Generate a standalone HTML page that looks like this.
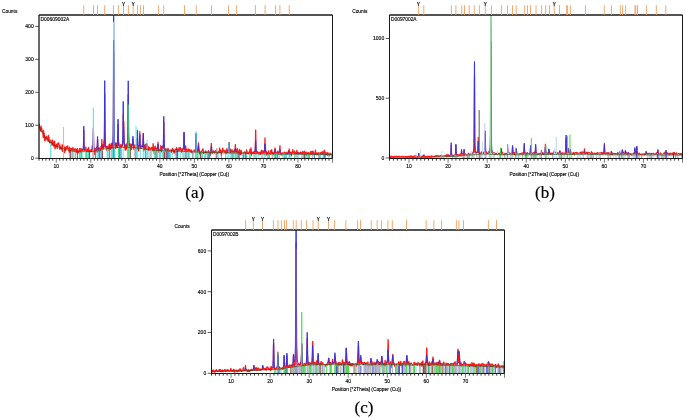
<!DOCTYPE html>
<html><head><meta charset="utf-8"><style>
html,body{margin:0;padding:0;background:#fff;width:685px;height:418px;overflow:hidden}
svg{display:block;font-family:"Liberation Sans", sans-serif}
text{filter:grayscale(1)}
.s{stroke:#000;stroke-width:0.14px}
.cap{font-family:"Liberation Serif",serif}
</style></head><body>
<svg width="685" height="418" viewBox="0 0 685 418">
<rect width="685" height="418" fill="#fff"/>
<clipPath id="aclip"><rect x="39.0" y="14.5" width="293.5" height="144.0"/></clipPath>
<g clip-path="url(#aclip)">
<polyline points="39.0,127.0 39.4,124.3 39.7,127.5 40.1,128.5 40.4,131.2 40.7,130.1 41.1,126.2 41.4,129.7 41.8,128.2 42.2,131.5 42.5,131.1 42.9,132.0 43.2,137.6 43.5,130.6 43.9,132.6 44.2,133.4 44.6,140.2 45.0,141.0 45.3,139.3 45.7,138.5 46.0,136.5 46.3,137.7 46.7,136.2 47.0,139.9 47.4,137.9 47.8,138.2 48.1,141.5 48.5,135.3 48.8,139.2 49.1,137.5 49.5,142.5 49.8,142.8 50.2,142.2 50.6,141.9 50.9,140.2 51.2,141.7 51.6,143.7 51.9,145.1 52.3,144.3 52.7,140.0 53.0,145.1 53.4,142.8 53.7,142.5 54.0,147.0 54.4,144.1 54.7,141.1 55.1,148.9 55.5,145.7 55.8,145.5 56.2,146.9 56.5,144.1 56.8,145.6 57.2,148.4 57.5,143.7 57.9,144.3 58.3,143.8 58.6,142.8 59.0,145.6 59.3,146.3 59.6,149.1 60.0,145.2 60.3,147.9 60.7,147.7 61.1,149.4 61.4,149.0 61.8,148.5 62.1,144.7 62.4,151.4 62.8,150.5 63.1,147.4 63.5,144.7 63.9,146.8 64.2,151.5 64.6,152.6 64.9,147.7 65.2,149.9 65.6,150.6 65.9,146.7 66.3,146.5 66.7,148.6 67.0,148.5 67.4,148.1 67.7,145.8 68.0,148.0 68.4,148.4 68.7,148.5 69.1,152.3 69.5,147.2 69.8,148.0 70.2,148.9 70.5,153.1 70.8,151.0 71.2,148.4 71.5,153.0 71.9,150.6 72.3,148.4 72.6,152.5 73.0,147.4 73.3,149.5 73.6,150.8 74.0,150.0 74.3,149.4 74.7,150.6 75.1,148.7 75.4,152.0 75.7,151.7 76.1,149.2 76.4,151.2 76.8,152.5 77.2,149.5 77.5,148.5 77.9,151.9 78.2,153.2 78.5,151.4 78.9,151.4 79.2,151.6 79.6,148.5 80.0,152.6 80.3,148.7 80.7,152.9 81.0,152.2 81.3,149.8 81.7,148.8 82.0,149.3 82.4,150.2 82.5,150.3 82.6,150.4 82.7,150.5 82.8,150.5 82.9,150.5 83.0,150.4 83.1,150.3 83.1,150.2 83.3,149.6 83.4,148.8 83.5,148.3 83.5,147.3 83.7,140.1 83.8,130.6 83.8,130.9 83.9,140.6 84.0,147.9 84.1,149.2 84.2,149.3 84.3,149.5 84.4,149.5 84.5,149.5 84.6,149.7 84.7,150.2 84.8,150.7 84.8,150.8 85.0,150.4 85.1,149.9 85.2,149.4 85.6,149.8 85.9,147.0 86.3,150.3 86.6,151.6 86.9,151.5 87.3,151.0 87.6,149.2 88.0,151.4 88.4,150.2 88.7,147.4 89.1,154.7 89.4,152.6 89.7,150.5 90.1,150.2 90.4,150.5 90.8,151.6 91.2,149.6 91.5,150.3 91.9,151.6 92.1,147.9 92.2,146.0 92.2,146.1 92.3,147.6 92.5,149.0 92.5,149.9 92.6,150.1 92.7,150.5 92.9,150.8 92.9,150.9 93.0,150.4 93.1,148.3 93.2,140.3 93.3,139.9 93.4,129.0 93.5,140.1 93.6,146.5 93.6,148.2 93.8,149.8 93.9,150.1 94.0,150.2 94.0,151.3 94.2,152.9 94.3,154.5 94.3,154.5 94.4,153.3 94.6,152.1 94.7,151.2 94.7,150.9 95.0,148.4 95.3,152.2 95.7,150.5 96.0,148.4 96.2,148.5 96.4,148.5 96.4,148.5 96.5,148.1 96.6,147.6 96.8,147.1 96.8,147.4 96.9,149.5 97.0,151.5 97.1,152.5 97.2,152.0 97.3,150.3 97.4,145.2 97.5,144.0 97.6,139.3 97.7,145.0 97.8,148.9 97.8,149.2 98.0,149.4 98.1,148.9 98.1,148.7 98.2,148.6 98.4,148.3 98.5,147.9 98.5,147.9 98.6,150.0 98.8,152.4 98.8,154.3 98.9,153.7 99.2,147.8 99.6,152.2 99.9,148.4 100.2,152.0 100.5,149.9 100.6,149.1 100.6,148.8 100.8,147.9 100.9,147.0 100.9,146.7 101.0,147.4 101.2,148.3 101.3,149.2 101.3,149.2 101.4,148.7 101.6,147.7 101.7,146.4 101.7,144.3 101.8,139.4 102.0,142.9 102.0,143.6 102.1,146.4 102.2,147.6 102.4,148.1 102.4,148.2 102.5,148.4 102.6,148.5 102.7,148.6 102.8,147.8 102.9,146.4 103.0,144.9 103.0,144.9 103.2,145.2 103.4,145.8 103.4,145.8 103.5,146.8 103.7,147.8 103.7,148.4 103.8,147.4 103.9,144.5 104.1,141.5 104.1,140.7 104.2,142.8 104.3,145.0 104.5,145.4 104.5,143.8 104.6,123.0 104.7,93.7 104.8,99.0 104.9,119.9 105.0,140.9 105.1,146.2 105.2,146.2 105.3,147.0 105.4,147.2 105.5,147.2 105.6,147.1 105.7,146.7 105.8,146.3 105.8,146.2 106.0,146.6 106.1,147.1 106.2,147.5 106.5,146.5 106.9,150.6 107.3,150.6 107.6,146.4 108.0,149.5 108.3,149.5 108.6,150.3 109.0,144.6 109.3,145.7 109.7,144.0 110.1,149.0 110.4,147.3 110.8,149.3 111.1,145.4 111.4,143.4 111.8,148.7 112.1,143.2 112.3,143.6 112.4,144.0 112.5,144.3 112.5,144.6 112.7,145.4 112.8,146.2 112.9,146.3 113.0,147.0 113.1,147.6 113.2,147.6 113.2,146.1 113.4,135.8 113.5,97.4 113.6,80.5 113.7,52.4 113.8,101.2 113.9,132.3 113.9,136.0 114.1,143.4 114.2,145.6 114.2,146.1 114.3,146.0 114.5,145.6 114.6,145.1 114.6,145.2 114.8,145.3 114.9,145.4 114.9,145.5 115.0,144.9 115.3,143.0 115.7,148.5 116.0,143.9 116.4,143.0 116.7,143.0 116.7,143.0 116.8,144.3 117.0,145.8 117.0,146.8 117.1,146.9 117.2,147.3 117.4,147.6 117.4,147.6 117.5,146.1 117.7,144.1 117.7,142.0 117.8,141.3 117.9,134.1 118.1,124.5 118.1,125.5 118.2,135.6 118.4,143.5 118.5,145.0 118.5,144.9 118.6,144.0 118.8,143.0 118.8,142.7 118.9,144.1 119.1,145.8 119.2,147.0 119.2,147.4 119.3,148.9 119.5,150.5 119.5,150.8 119.8,147.3 120.2,150.0 120.5,144.6 120.9,145.8 121.3,147.7 121.6,146.5 121.8,145.1 122.0,144.4 122.0,144.5 122.1,145.2 122.3,145.9 122.3,146.1 122.4,145.6 122.4,145.1 122.5,144.2 122.5,143.6 122.6,142.6 122.6,142.4 122.7,142.7 122.8,143.2 122.8,143.4 122.9,143.2 123.0,142.5 123.0,141.6 123.1,136.9 123.1,131.2 123.2,118.2 123.3,114.7 123.3,121.3 123.3,122.0 123.4,127.4 123.5,134.6 123.5,135.2 123.6,131.0 123.7,126.8 123.7,124.8 123.8,121.5 123.8,123.5 123.9,131.8 124.0,135.5 124.1,139.4 124.1,139.5 124.1,141.2 124.2,143.5 124.2,144.5 124.3,146.2 124.4,147.0 124.4,147.3 124.5,146.6 124.5,146.2 124.6,145.3 124.7,144.9 124.7,144.1 124.8,144.4 124.9,146.7 125.0,149.1 125.1,149.9 125.2,149.6 125.4,148.5 125.8,150.2 126.2,143.9 126.5,148.8 126.8,146.6 126.9,146.4 127.0,146.5 127.1,146.5 127.2,146.5 127.3,146.4 127.4,146.1 127.5,145.7 127.5,145.7 127.7,145.6 127.8,145.1 127.9,144.1 128.0,141.0 128.1,121.6 128.2,95.1 128.3,94.7 128.4,117.5 128.5,135.3 128.6,137.3 128.7,140.5 128.8,143.6 129.0,145.5 129.0,145.5 129.1,145.3 129.3,145.0 129.3,144.9 129.4,144.6 129.6,144.2 129.7,143.9 129.7,144.3 130.0,146.9 130.3,148.9 130.7,147.6 131.0,144.0 131.4,149.6 131.5,149.3 131.6,148.5 131.8,147.7 131.8,147.6 131.9,146.1 132.0,144.6 132.1,144.1 132.2,144.2 132.3,144.3 132.5,144.4 132.5,144.5 132.6,144.8 132.8,143.2 132.8,142.6 132.9,139.2 133.1,141.7 133.1,143.1 133.2,144.1 133.4,145.3 133.5,146.1 133.5,146.1 133.6,147.3 133.8,148.4 133.8,148.9 133.9,149.1 134.1,149.4 134.2,149.7 134.2,149.6 134.4,148.9 134.6,148.1 134.9,144.7 135.3,148.1 135.6,148.7 135.9,148.6 135.9,148.5 136.1,149.1 136.2,149.7 136.3,150.0 136.4,149.4 136.5,148.3 136.6,147.4 136.7,147.5 136.8,148.3 137.0,148.9 137.0,149.0 137.1,147.4 137.3,142.8 137.4,138.3 137.4,138.4 137.6,145.5 137.7,150.7 137.7,150.7 137.8,149.2 138.0,147.2 138.1,146.5 138.1,147.1 138.3,147.9 138.3,148.3 138.4,148.6 138.4,148.8 138.5,149.2 138.6,149.8 138.6,150.2 138.7,150.7 138.7,150.9 138.8,150.2 138.9,148.9 138.9,148.0 139.1,145.6 139.1,145.4 139.2,146.1 139.4,146.5 139.4,146.5 139.5,146.1 139.7,140.2 139.8,132.4 139.8,131.6 140.0,140.2 140.1,146.7 140.2,147.0 140.3,147.4 140.4,146.9 140.5,146.5 140.6,146.9 140.7,147.7 140.9,148.3 140.9,148.3 141.0,147.2 141.2,146.2 141.2,145.8 141.3,145.9 141.5,146.0 141.8,146.2 141.9,146.3 141.9,146.4 142.1,146.7 142.2,147.1 142.2,147.1 142.4,146.2 142.5,145.2 142.6,144.7 142.7,145.0 142.8,145.4 143.0,145.2 143.0,144.9 143.1,140.0 143.3,133.5 143.3,133.8 143.4,142.6 143.6,149.4 143.7,151.1 143.7,150.1 143.9,148.0 144.0,146.1 144.0,146.1 144.2,145.8 144.3,145.5 144.3,145.4 144.5,146.7 144.6,148.2 144.7,149.0 144.8,149.1 145.0,149.4 145.4,144.4 145.8,151.7 146.1,147.8 146.5,143.6 146.8,150.5 147.1,147.4 147.5,144.8 147.9,149.2 148.2,147.8 148.6,147.0 148.9,150.5 149.2,149.2 149.6,148.4 149.9,147.3 150.3,149.1 150.7,149.4 151.0,150.8 151.4,149.8 151.7,147.3 152.0,149.0 152.4,150.7 152.7,150.7 153.1,143.7 153.5,147.0 153.8,148.1 154.2,153.7 154.5,148.2 154.8,148.6 155.2,146.1 155.5,148.8 155.9,149.8 156.3,148.7 156.4,150.5 156.6,152.4 156.6,152.8 156.7,151.1 156.9,148.8 157.0,147.6 157.0,147.9 157.2,148.6 157.3,149.0 157.3,149.2 157.5,149.9 157.6,150.4 157.6,150.4 157.8,146.8 158.0,142.2 158.0,142.0 158.1,144.0 158.3,145.7 158.3,145.8 158.4,147.1 158.6,149.8 158.7,152.1 158.7,152.0 158.9,151.5 159.0,151.0 159.1,150.9 159.2,150.3 159.3,149.6 159.4,149.3 159.5,149.4 159.8,149.5 160.1,150.6 160.4,151.5 160.8,145.5 161.1,147.8 161.5,151.8 161.9,152.0 162.2,146.3 162.3,146.6 162.4,147.2 162.6,147.7 162.6,147.6 162.7,146.8 162.9,145.9 162.9,145.8 163.0,146.5 163.2,147.1 163.2,147.3 163.4,147.8 163.5,147.1 163.6,143.9 163.7,137.6 163.8,122.3 163.9,131.6 164.0,135.7 164.1,148.2 164.3,152.2 164.3,152.3 164.5,151.8 164.6,151.0 164.7,150.8 164.8,150.5 164.9,150.1 165.0,149.9 165.1,149.7 165.2,149.2 165.4,148.9 165.4,149.2 165.7,151.2 166.0,150.3 166.4,149.2 166.7,149.4 167.1,148.9 167.5,149.8 167.8,150.7 168.2,148.7 168.5,150.2 168.8,151.6 169.2,151.3 169.5,150.4 169.9,150.5 170.3,150.1 170.6,150.4 171.0,150.1 171.3,150.7 171.6,152.4 172.0,149.6 172.4,148.4 172.7,149.7 173.1,150.8 173.4,149.7 173.7,152.0 174.1,153.4 174.4,150.5 174.8,152.0 175.2,149.1 175.5,152.2 175.9,154.6 176.2,152.2 176.5,147.5 176.9,151.2 177.2,152.7 177.6,151.8 178.0,149.6 178.3,149.6 178.7,150.3 179.0,147.7 179.3,149.2 179.7,150.7 180.0,149.5 180.4,147.4 180.8,148.8 181.1,148.7 181.5,152.3 181.8,150.9 182.1,149.3 182.4,150.5 182.5,151.1 182.5,150.8 182.7,149.6 182.8,148.5 182.9,148.6 183.0,149.0 183.2,149.3 183.2,149.3 183.4,148.9 183.5,148.2 183.6,148.1 183.7,147.7 183.9,143.1 183.9,141.0 184.0,132.4 184.2,137.2 184.3,139.7 184.4,144.1 184.5,146.9 184.6,147.8 184.7,148.6 184.8,150.1 184.9,151.0 185.0,150.9 185.2,150.8 185.3,150.6 185.3,150.1 185.5,147.8 185.6,145.8 185.7,146.1 186.0,151.4 186.4,149.3 186.7,149.1 187.1,151.0 187.4,152.7 187.7,150.7 188.1,150.4 188.4,148.9 188.8,149.6 189.2,151.1 189.5,149.5 189.9,150.1 190.2,150.8 190.5,151.1 190.9,151.6 191.2,149.9 191.6,152.7 192.0,152.1 192.3,151.2 192.7,153.4 193.0,151.9 193.3,154.1 193.7,152.2 194.0,150.1 194.4,150.1 194.4,150.2 194.6,150.7 194.8,151.2 194.8,151.2 194.9,151.3 195.1,151.4 195.1,151.4 195.3,152.1 195.4,152.9 195.5,152.9 195.6,150.2 195.8,146.0 195.8,144.9 195.9,140.5 196.1,134.5 196.1,135.8 196.3,142.0 196.4,147.2 196.5,147.7 196.6,149.5 196.8,151.5 196.8,152.0 196.9,152.2 197.0,152.0 197.0,151.9 197.1,151.5 197.2,151.4 197.2,151.3 197.3,152.0 197.3,152.3 197.5,153.1 197.5,153.4 197.6,153.7 197.6,152.8 197.7,152.2 197.8,150.7 197.8,150.1 197.9,149.4 198.0,149.1 198.2,147.9 198.2,146.8 198.4,145.1 198.5,142.9 198.6,145.9 198.7,148.4 198.9,150.7 198.9,150.6 199.0,150.5 199.2,150.2 199.3,149.9 199.4,150.8 199.5,152.7 199.7,153.8 199.7,153.8 199.9,153.9 200.0,154.0 200.1,153.8 200.2,153.3 200.4,152.9 200.7,152.3 201.0,153.4 201.4,151.4 201.7,151.1 202.1,150.4 202.5,150.3 202.8,148.8 203.2,149.5 203.5,153.5 203.8,152.4 204.2,153.2 204.5,153.2 204.9,151.8 205.3,151.7 205.6,150.9 206.0,154.0 206.3,153.5 206.6,151.8 207.0,152.1 207.3,152.3 207.7,151.9 208.1,152.9 208.4,150.6 208.8,151.2 209.1,152.0 209.4,152.8 209.6,152.6 209.7,152.2 209.8,152.1 209.9,153.1 210.1,154.9 210.1,155.6 210.3,154.8 210.4,153.6 210.5,153.1 210.6,152.6 210.8,151.6 210.9,151.1 211.0,151.1 211.1,148.7 211.2,146.7 211.3,143.3 211.5,146.7 211.6,148.4 211.7,150.1 211.8,151.1 211.9,151.2 212.0,152.0 212.2,153.2 212.2,153.7 212.3,153.3 212.5,152.5 212.6,152.2 212.7,152.2 212.9,152.3 212.9,152.3 213.0,152.0 213.3,151.1 213.7,150.8 214.0,152.0 214.4,153.1 214.7,152.1 215.0,152.0 215.4,150.7 215.7,151.4 216.1,153.0 216.5,153.8 216.8,152.5 217.2,153.0 217.5,153.5 217.8,152.2 218.2,152.7 218.5,151.9 218.9,151.1 219.3,152.6 219.6,148.0 220.0,152.5 220.3,150.2 220.6,151.9 221.0,150.2 221.4,155.3 221.7,153.2 222.1,151.7 222.4,151.1 222.7,148.1 223.1,151.6 223.4,149.9 223.8,150.9 224.2,150.5 224.5,151.3 224.9,152.4 225.2,151.3 225.5,153.7 225.9,150.2 226.2,153.6 226.6,151.8 227.0,148.5 227.3,152.2 227.3,152.5 227.5,152.4 227.6,152.2 227.7,152.2 227.8,151.2 228.0,150.1 228.0,150.1 228.2,151.1 228.3,152.0 228.4,152.0 228.5,152.4 228.7,152.4 228.7,152.2 228.9,148.1 229.0,142.9 229.1,142.6 229.3,146.8 229.4,149.5 229.4,150.0 229.6,150.6 229.8,150.7 229.8,151.1 230.0,152.4 230.1,153.2 230.2,152.3 230.4,150.2 230.5,149.1 230.5,149.2 230.7,149.3 230.8,149.3 230.9,150.1 231.1,152.2 231.5,151.8 231.8,152.8 232.2,149.8 232.6,153.2 232.9,151.1 233.3,152.9 233.5,153.1 233.6,153.2 233.6,152.9 233.8,151.8 233.9,151.0 234.0,150.8 234.2,150.2 234.3,149.9 234.4,150.4 234.6,151.6 234.6,152.1 234.7,152.3 234.9,152.3 235.0,152.0 235.1,149.5 235.3,144.8 235.4,144.7 235.5,148.3 235.7,151.5 235.7,151.8 235.9,151.9 236.0,151.7 236.1,151.7 236.2,150.7 236.4,149.7 236.4,149.7 236.6,150.1 236.7,150.4 236.8,150.5 237.0,152.0 237.1,153.1 237.1,152.6 237.4,148.5 237.8,152.4 238.2,151.1 238.5,153.3 238.9,152.5 239.2,154.8 239.5,149.4 239.9,150.2 240.2,154.1 240.6,154.5 241.0,154.6 241.3,150.5 241.7,153.1 242.0,152.6 242.3,153.0 242.7,152.7 243.0,154.0 243.4,152.5 243.8,154.4 244.1,152.7 244.4,152.1 244.8,151.8 245.1,152.9 245.5,153.8 245.9,152.3 246.2,153.2 246.6,149.9 246.9,151.3 247.2,152.8 247.6,153.2 247.9,153.5 248.3,153.8 248.7,153.1 249.0,152.1 249.4,151.8 249.7,151.7 250.0,149.1 250.4,153.6 250.7,152.7 251.1,148.0 251.5,155.1 251.8,153.4 252.2,152.5 252.5,152.5 252.8,152.1 253.2,153.1 253.5,152.1 253.8,152.4 253.9,152.6 254.0,152.5 254.1,151.8 254.3,151.4 254.3,152.2 254.5,154.2 254.6,155.0 254.7,154.5 254.9,153.5 255.0,153.3 255.1,152.3 255.3,149.6 255.3,149.3 255.5,141.2 255.6,130.3 255.7,130.0 255.9,142.4 256.0,149.8 256.1,150.8 256.2,151.3 256.3,150.9 256.4,151.6 256.6,153.0 256.7,153.4 256.8,152.9 257.0,151.9 257.1,151.8 257.2,151.7 257.4,151.7 257.4,151.7 257.6,152.1 257.8,152.5 258.1,152.2 258.4,153.2 258.8,154.8 259.1,153.1 259.5,152.4 259.9,153.8 260.2,153.3 260.6,152.0 260.9,154.3 261.2,152.2 261.6,150.2 261.9,153.9 262.3,153.0 262.7,153.4 263.0,150.7 263.0,150.9 263.2,152.0 263.4,152.6 263.4,152.4 263.6,151.8 263.7,151.6 263.8,152.4 264.0,153.6 264.0,153.7 264.2,153.2 264.4,152.4 264.4,152.3 264.6,150.8 264.7,146.5 264.8,144.4 265.0,137.8 265.1,142.6 265.2,145.6 265.4,149.0 265.5,148.9 265.6,150.1 265.8,151.1 265.8,151.2 266.0,153.2 266.2,155.2 266.2,155.0 266.4,153.2 266.5,151.9 266.6,152.1 266.7,152.9 266.8,153.3 266.9,153.1 267.2,152.5 267.5,152.6 267.9,155.1 268.3,153.5 268.6,150.9 268.9,153.9 269.3,154.5 269.6,154.9 270.0,154.7 270.4,152.7 270.7,150.6 271.1,152.6 271.4,152.9 271.7,149.7 272.1,153.9 272.4,154.1 272.8,152.4 273.0,152.4 273.2,152.4 273.2,152.8 273.4,154.0 273.5,154.5 273.6,154.5 273.8,154.6 273.9,154.6 274.0,153.7 274.2,152.6 274.2,152.6 274.4,152.5 274.5,152.2 274.6,152.3 274.8,151.1 274.9,149.9 275.0,147.8 275.2,150.2 275.2,150.8 275.4,152.8 275.6,153.6 275.6,153.6 275.8,153.0 276.0,152.5 276.0,152.6 276.2,153.1 276.3,153.4 276.4,153.4 276.6,153.4 276.7,153.4 276.8,153.5 277.0,153.7 277.0,153.7 277.3,151.7 277.7,151.1 278.0,153.5 278.0,153.8 278.2,153.0 278.4,152.0 278.4,152.1 278.6,153.3 278.8,154.2 278.8,154.0 279.0,153.4 279.1,153.1 279.2,152.7 279.4,151.9 279.5,151.8 279.6,150.6 279.8,147.3 279.8,147.1 280.0,145.7 280.1,149.3 280.2,150.5 280.4,152.7 280.5,153.0 280.6,153.0 280.8,152.9 280.8,152.9 281.0,154.0 281.2,155.1 281.2,155.0 281.4,154.0 281.6,153.4 281.6,153.5 281.8,154.0 281.9,154.2 282.0,153.7 282.3,152.8 282.6,154.8 282.9,155.8 283.3,153.4 283.6,153.0 284.0,154.1 284.4,152.1 284.7,153.8 285.1,154.2 285.4,152.7 285.7,155.3 286.1,154.3 286.4,153.5 286.8,152.2 287.0,152.9 287.2,153.7 287.2,153.7 287.4,153.3 287.5,153.0 287.6,153.3 287.8,154.0 287.9,154.3 288.0,153.8 288.2,153.1 288.2,153.0 288.4,151.9 288.5,150.7 288.6,151.0 288.8,152.3 288.9,152.8 289.0,151.2 289.2,149.3 289.2,148.9 289.4,151.5 289.6,154.2 289.6,154.2 289.8,153.8 290.0,153.5 290.0,153.4 290.2,153.3 290.3,153.3 290.4,152.8 290.6,152.0 290.7,152.0 290.8,153.5 291.0,155.0 291.0,155.1 291.3,156.0 291.7,152.6 292.0,152.3 292.4,152.6 292.8,149.5 293.1,153.2 293.4,153.2 293.8,152.1 294.1,153.0 294.5,151.0 294.9,155.0 295.2,154.0 295.6,157.6 295.9,152.3 295.9,152.3 296.1,153.3 296.2,154.0 296.3,153.7 296.5,152.6 296.6,152.1 296.7,151.4 296.9,150.3 296.9,150.2 297.1,152.0 297.3,153.5 297.3,153.5 297.6,153.6 297.7,153.4 297.8,153.0 298.0,152.3 298.0,152.3 298.2,153.5 298.4,154.3 298.4,154.3 298.6,154.3 298.7,154.3 298.8,153.8 299.0,152.8 299.0,152.6 299.2,153.0 299.4,153.5 299.4,153.5 299.6,153.5 299.7,153.5 299.8,153.5 300.0,153.7 300.1,153.8 300.5,152.2 300.8,152.8 301.2,153.8 301.5,152.6 301.8,153.8 302.2,154.9 302.5,151.4 302.9,152.9 303.3,154.7 303.6,151.9 304.0,153.1 304.3,155.4 304.6,151.1 305.0,153.1 305.3,152.3 305.7,153.3 306.1,153.8 306.4,155.4 306.8,152.1 307.1,153.6 307.4,154.0 307.8,153.1 308.1,153.5 308.5,152.6 308.9,154.1 309.2,153.7 309.6,156.2 309.9,154.2 310.2,152.6 310.6,151.6 310.9,154.1 311.3,153.8 311.7,151.3 312.0,154.1 312.4,152.6 312.7,151.2 313.0,153.7 313.4,151.9 313.7,154.5 314.1,153.4 314.5,153.8 314.8,153.6 315.2,152.0 315.5,150.1 315.8,154.5 316.2,154.4 316.5,153.0 316.9,155.0 317.3,153.0 317.6,152.9 317.9,154.1 318.3,153.0 318.6,155.6 319.0,152.7 319.4,155.6 319.7,154.6 320.1,154.5 320.4,154.3 320.7,152.5 321.1,153.7 321.4,154.3 321.8,153.0 322.2,151.5 322.5,153.8 322.9,153.3 323.2,152.0 323.5,153.5 323.9,155.3 324.2,150.2 324.6,150.6 325.0,156.1 325.3,153.9 325.7,153.3 326.0,152.5 326.3,152.9 326.7,154.2 327.0,155.1 327.4,153.7 327.8,152.4 328.1,155.1 328.5,155.1 328.8,153.9 329.1,156.1 329.5,154.2 329.8,154.4 330.2,153.2 330.6,154.7 330.9,154.9 331.3,154.4 331.6,154.0 331.9,154.7 332.3,153.9" fill="none" stroke="#ff1a1a" stroke-width="1.25" stroke-opacity="1.0" stroke-linejoin="round"/>
<polyline points="82.9,150.1 83.0,149.9 83.1,149.5 83.2,148.9 83.3,147.7 83.4,145.4 83.5,141.3 83.6,135.5 83.7,129.2 83.8,126.2 83.9,129.2 84.0,135.5 84.1,141.3 84.2,145.4 84.3,147.7 84.4,148.9 84.5,149.5 84.6,149.8 84.7,150.1" fill="none" stroke="#3434e4" stroke-width="1.0" stroke-opacity="1" stroke-linejoin="round"/>
<polyline points="92.4,150.0 92.5,149.8 92.6,149.5 92.8,148.9 92.9,147.8 93.0,145.7 93.1,142.0 93.2,136.6 93.3,130.6 93.4,127.5 93.5,130.1 93.6,135.8 93.7,141.4 93.8,145.3 93.9,147.5 94.0,148.6 94.1,149.2 94.2,149.5 94.3,149.7" fill="none" stroke="#3434e4" stroke-width="1.0" stroke-opacity="1" stroke-linejoin="round"/>
<polyline points="96.8,149.5 96.9,149.1 97.0,148.5 97.1,147.3 97.2,145.2 97.3,142.1 97.4,138.6 97.5,136.5 97.6,137.6 97.8,140.9 97.9,144.3 98.0,146.7 98.1,148.2 98.2,149.0 98.3,149.4" fill="none" stroke="#3434e4" stroke-width="1.0" stroke-opacity="1" stroke-linejoin="round"/>
<polyline points="101.3,148.5 101.4,148.1 101.5,147.5 101.6,146.6 101.7,145.5 101.8,144.8 101.9,144.9 102.0,145.8 102.1,146.7 102.2,147.3 102.3,147.7 102.4,147.9" fill="none" stroke="#3434e4" stroke-width="1.0" stroke-opacity="1" stroke-linejoin="round"/>
<polyline points="103.1,147.6 103.2,147.5 103.3,147.3 103.4,147.1 103.5,146.9 103.6,146.6 103.7,146.3 103.8,145.8 103.9,145.2 104.0,144.2 104.1,142.5 104.2,139.2 104.3,132.9 104.4,122.2 104.5,106.9 104.6,90.1 104.7,80.6 104.8,86.4 104.9,102.4 105.0,118.6 105.1,130.6 105.3,137.9 105.4,141.8 105.5,143.8 105.6,144.9 105.7,145.6 105.8,146.1 105.9,146.4 106.0,146.7 106.1,146.9 106.2,147.1 106.3,147.2 106.4,147.3" fill="none" stroke="#3434e4" stroke-width="1.0" stroke-opacity="1" stroke-linejoin="round"/>
<polyline points="111.3,146.3 111.4,146.3 111.5,146.1 111.6,146.0 111.7,145.9 111.8,145.7 111.9,145.5 112.0,145.3 112.1,145.0 112.2,144.7 112.3,144.2 112.4,143.7 112.6,143.0 112.7,142.2 112.8,141.0 112.9,139.2 113.0,136.3 113.1,130.8 113.2,120.4 113.3,102.0 113.4,73.9 113.5,39.1 113.6,13.0 113.7,13.0 113.8,30.7 113.9,65.8 114.0,96.0 114.1,116.7 114.2,128.7 114.3,135.0 114.4,138.4 114.5,140.3 114.6,141.6 114.7,142.5 114.8,143.2 114.9,143.7 115.0,144.1 115.1,144.5 115.2,144.7 115.4,144.9 115.5,145.1 115.6,145.3 115.7,145.4 115.8,145.5 115.9,145.6 116.0,145.6 116.1,145.7 116.2,145.7 116.3,145.7 116.4,145.7 116.5,145.7 116.6,145.7 116.7,145.6 116.8,145.6 116.9,145.5 117.0,145.4 117.1,145.2 117.2,144.9 117.3,144.5 117.4,143.8 117.5,142.5 117.6,139.9 117.7,135.7 117.8,129.7 117.9,123.2 118.0,119.2 118.2,121.1 118.3,127.0 118.4,133.5 118.5,138.5 118.6,141.8 118.7,143.7 118.8,144.5 118.9,145.1 119.0,145.4 119.1,145.6 119.2,145.8" fill="none" stroke="#3434e4" stroke-width="1.0" stroke-opacity="1" stroke-linejoin="round"/>
<polyline points="121.8,145.7 121.9,145.6 122.0,145.4 122.1,145.2 122.2,145.0 122.3,144.6 122.4,144.2 122.5,143.4 122.6,142.2 122.7,139.7 122.8,135.3 122.9,128.1 123.0,118.2 123.1,107.7 123.2,101.4 123.3,103.7 123.4,111.9 123.5,120.4 123.6,126.5 123.8,130.5 123.9,134.0 124.0,137.4 124.1,140.1 124.2,142.1 124.3,143.4 124.4,144.3 124.5,144.7 124.6,145.0 124.7,145.3 124.8,145.4 124.9,145.5 125.0,145.6 125.1,145.7" fill="none" stroke="#3434e4" stroke-width="1.0" stroke-opacity="1" stroke-linejoin="round"/>
<polyline points="126.3,145.7 126.5,145.6 126.6,145.5 126.7,145.4 126.8,145.3 126.9,145.1 127.0,144.9 127.1,144.7 127.2,144.3 127.3,143.9 127.4,143.2 127.5,142.2 127.6,140.5 127.7,137.3 127.8,131.5 127.9,121.8 128.0,108.0 128.1,92.2 128.2,80.8 128.3,81.8 128.4,94.3 128.5,110.1 128.6,123.4 128.7,132.5 128.8,138.0 128.9,140.9 129.0,142.5 129.1,143.4 129.3,144.0 129.4,144.5 129.5,144.8 129.6,145.1 129.7,145.3 129.8,145.5 129.9,145.6 130.0,145.7" fill="none" stroke="#3434e4" stroke-width="1.0" stroke-opacity="1" stroke-linejoin="round"/>
<polyline points="132.2,145.8 132.3,145.5 132.4,145.0 132.5,144.0 132.6,142.4 132.7,140.2 132.8,137.8 132.9,136.2 133.0,136.5 133.1,138.5 133.2,141.0 133.3,143.1 133.4,144.5 133.5,145.3 133.6,145.8" fill="none" stroke="#3434e4" stroke-width="1.0" stroke-opacity="1" stroke-linejoin="round"/>
<polyline points="136.5,146.4 136.6,146.2 136.7,145.8 136.8,145.0 136.9,143.6 137.0,141.3 137.1,138.0 137.2,134.1 137.3,130.8 137.4,130.3 137.5,133.0 137.7,136.9 137.8,140.5 137.9,143.2 138.0,144.8 138.1,145.7 138.2,146.2 138.3,146.5 138.4,146.6 138.5,146.7" fill="none" stroke="#3434e4" stroke-width="1.0" stroke-opacity="1" stroke-linejoin="round"/>
<polyline points="138.9,146.7 139.0,146.6 139.1,146.3 139.2,145.8 139.3,145.0 139.4,143.4 139.5,141.1 139.6,138.2 139.7,135.4 139.8,134.3 139.9,135.7 140.0,138.6 140.1,141.5 140.2,143.7 140.3,145.2 140.5,146.1 140.6,146.6 140.7,146.8" fill="none" stroke="#3434e4" stroke-width="1.0" stroke-opacity="1" stroke-linejoin="round"/>
<polyline points="142.4,147.1 142.5,146.9 142.6,146.4 142.7,145.6 142.8,144.0 142.9,141.7 143.0,138.5 143.2,135.2 143.3,133.2 143.4,134.0 143.5,137.0 143.6,140.4 143.7,143.2 143.8,145.2 143.9,146.4 144.0,147.1 144.1,147.5 144.2,147.7" fill="none" stroke="#3434e4" stroke-width="1.0" stroke-opacity="1" stroke-linejoin="round"/>
<polyline points="157.4,149.0 157.5,148.5 157.6,147.7 157.7,146.6 157.8,145.3 157.9,144.3 158.0,144.1 158.1,144.9 158.2,146.2 158.3,147.4 158.4,148.3 158.5,148.9 158.6,149.3" fill="none" stroke="#3434e4" stroke-width="1.0" stroke-opacity="1" stroke-linejoin="round"/>
<polyline points="162.5,149.1 162.6,149.0 162.7,148.8 162.8,148.6 162.9,148.2 163.0,147.8 163.1,146.9 163.2,145.4 163.3,142.8 163.4,138.6 163.5,132.6 163.6,125.4 163.7,118.9 163.8,116.4 163.9,119.7 164.0,126.5 164.1,133.7 164.2,139.4 164.4,143.4 164.5,145.8 164.6,147.1 164.7,147.9 164.8,148.4 164.9,148.7 165.0,148.9 165.1,149.1" fill="none" stroke="#3434e4" stroke-width="1.0" stroke-opacity="1" stroke-linejoin="round"/>
<polyline points="183.0,149.8 183.1,149.6 183.2,149.2 183.3,148.5 183.4,147.4 183.6,145.4 183.7,142.6 183.8,139.0 183.9,135.1 184.0,132.4 184.1,132.4 184.2,135.1 184.3,139.0 184.4,142.6 184.5,145.5 184.6,147.4 184.7,148.6 184.8,149.3 184.9,149.7 185.0,150.0" fill="none" stroke="#3434e4" stroke-width="1.0" stroke-opacity="1" stroke-linejoin="round"/>
<polyline points="195.0,150.4 195.1,150.2 195.2,150.0 195.3,149.5 195.4,148.7 195.6,147.4 195.7,145.3 195.8,142.4 195.9,138.8 196.0,135.2 196.1,132.9 196.2,133.4 196.3,136.2 196.4,139.9 196.5,143.3 196.6,146.0 196.7,147.8 196.8,148.9 196.9,149.6 197.0,150.0 197.1,150.2 197.2,150.3" fill="none" stroke="#3434e4" stroke-width="1.0" stroke-opacity="1" stroke-linejoin="round"/>
<polyline points="197.7,150.4 197.8,150.2 198.0,149.8 198.1,149.1 198.2,148.2 198.3,147.0 198.4,145.8 198.5,144.9 198.6,145.0 198.7,145.9 198.8,147.2 198.9,148.4 199.0,149.4 199.1,150.0 199.2,150.5" fill="none" stroke="#3434e4" stroke-width="1.0" stroke-opacity="1" stroke-linejoin="round"/>
<polyline points="210.6,151.1 210.7,150.7 210.8,150.1 210.9,149.3 211.0,148.2 211.1,147.2 211.2,146.4 211.4,146.4 211.5,147.2 211.6,148.2 211.7,149.3 211.8,150.1 211.9,150.7 212.0,151.1" fill="none" stroke="#3434e4" stroke-width="1.0" stroke-opacity="1" stroke-linejoin="round"/>
<polyline points="228.3,151.3 228.4,151.0 228.5,150.4 228.6,149.4 228.7,148.1 228.8,146.5 228.9,144.7 229.0,143.2 229.1,142.7 229.2,143.5 229.3,145.1 229.4,146.9 229.5,148.4 229.6,149.7 229.7,150.5 229.8,151.1 229.9,151.4" fill="none" stroke="#3434e4" stroke-width="1.0" stroke-opacity="1" stroke-linejoin="round"/>
<polyline points="234.7,151.4 234.8,151.0 234.9,150.4 235.0,149.7 235.1,149.0 235.2,148.4 235.3,148.3 235.4,148.8 235.5,149.5 235.6,150.2 235.8,150.9 235.9,151.3 236.0,151.7" fill="none" stroke="#3434e4" stroke-width="1.0" stroke-opacity="1" stroke-linejoin="round"/>
<polyline points="254.7,152.0 254.8,151.8 254.9,151.4 255.0,150.7 255.1,149.6 255.2,148.1 255.3,146.2 255.4,143.9 255.5,141.7 255.6,140.3 255.7,140.3 255.8,141.7 255.9,143.9 256.0,146.2 256.1,148.2 256.2,149.7 256.4,150.8 256.5,151.4 256.6,151.9 256.7,152.1" fill="none" stroke="#3434e4" stroke-width="1.0" stroke-opacity="1" stroke-linejoin="round"/>
<polyline points="264.1,152.3 264.2,152.0 264.3,151.5 264.4,150.7 264.5,149.5 264.6,148.1 264.7,146.4 264.8,144.9 264.9,143.8 265.0,143.8 265.2,144.9 265.3,146.4 265.4,148.1 265.5,149.5 265.6,150.7 265.7,151.5 265.8,152.0 265.9,152.3" fill="none" stroke="#3434e4" stroke-width="1.0" stroke-opacity="1" stroke-linejoin="round"/>
<polyline points="274.4,152.4 274.5,152.0 274.6,151.4 274.7,150.7 274.8,150.0 274.9,149.3 275.0,149.0 275.1,149.1 275.2,149.7 275.3,150.4 275.4,151.1 275.5,151.7 275.6,152.2 275.7,152.6" fill="none" stroke="#3434e4" stroke-width="1.0" stroke-opacity="1" stroke-linejoin="round"/>
<polyline points="279.3,152.6 279.5,152.3 279.6,151.8 279.7,151.2 279.8,150.6 279.9,150.0 280.0,149.7 280.1,149.7 280.2,150.1 280.3,150.7 280.4,151.4 280.5,151.9 280.6,152.4 280.7,152.7" fill="none" stroke="#3434e4" stroke-width="1.0" stroke-opacity="1" stroke-linejoin="round"/>
<polyline points="288.6,152.6 288.7,152.3 288.8,152.0 288.9,151.7 289.0,151.6 289.1,151.7 289.2,152.0 289.3,152.3 289.4,152.6" fill="none" stroke="#3434e4" stroke-width="1.0" stroke-opacity="1" stroke-linejoin="round"/>
<polyline points="297.7,152.7 297.8,152.5 297.9,152.3 298.0,152.3 298.1,152.3 298.2,152.5 298.3,152.7" fill="none" stroke="#3434e4" stroke-width="1.0" stroke-opacity="1" stroke-linejoin="round"/>
<line x1="70.45" y1="158.5" x2="70.45" y2="151.39" stroke="#a05050" stroke-width="1.8"/>
<line x1="71.81" y1="158.5" x2="71.81" y2="150.82" stroke="#9adcdc" stroke-width="1.8"/>
<line x1="72.22" y1="158.5" x2="72.22" y2="151.64" stroke="#9adcdc" stroke-width="1.8"/>
<line x1="73.30" y1="158.5" x2="73.30" y2="151.34" stroke="#a05050" stroke-width="1.2"/>
<line x1="73.66" y1="158.5" x2="73.66" y2="150.69" stroke="#9adcdc" stroke-width="1.8"/>
<line x1="75.53" y1="158.5" x2="75.53" y2="151.24" stroke="#c8a8a8" stroke-width="1.2"/>
<line x1="77.49" y1="158.5" x2="77.49" y2="152.60" stroke="#a05050" stroke-width="1.0"/>
<line x1="79.89" y1="158.5" x2="79.89" y2="151.83" stroke="#48e0e8" stroke-width="1.8"/>
<line x1="81.62" y1="158.5" x2="81.62" y2="151.84" stroke="#3ee08a" stroke-width="1.8"/>
<line x1="86.21" y1="158.5" x2="86.21" y2="151.00" stroke="#9adcdc" stroke-width="1.0"/>
<line x1="86.26" y1="158.5" x2="86.26" y2="152.05" stroke="#3ee08a" stroke-width="1.8"/>
<line x1="88.35" y1="158.5" x2="88.35" y2="151.73" stroke="#48e0e8" stroke-width="1.8"/>
<line x1="89.53" y1="158.5" x2="89.53" y2="151.47" stroke="#a05050" stroke-width="1.2"/>
<line x1="92.77" y1="158.5" x2="92.77" y2="150.82" stroke="#c8a8a8" stroke-width="1.0"/>
<line x1="95.45" y1="158.5" x2="95.45" y2="150.86" stroke="#4a90e0" stroke-width="1.2"/>
<line x1="97.10" y1="158.5" x2="97.10" y2="150.21" stroke="#48e0e8" stroke-width="1.0"/>
<line x1="98.83" y1="158.5" x2="98.83" y2="150.65" stroke="#9adcdc" stroke-width="1.5"/>
<line x1="99.29" y1="158.5" x2="99.29" y2="150.81" stroke="#9adcdc" stroke-width="1.8"/>
<line x1="99.42" y1="158.5" x2="99.42" y2="150.90" stroke="#9adcdc" stroke-width="1.2"/>
<line x1="99.45" y1="158.5" x2="99.45" y2="150.25" stroke="#3ee08a" stroke-width="1.0"/>
<line x1="99.51" y1="158.5" x2="99.51" y2="150.24" stroke="#4a90e0" stroke-width="1.8"/>
<line x1="101.26" y1="158.5" x2="101.26" y2="149.96" stroke="#48e0e8" stroke-width="1.5"/>
<line x1="102.24" y1="158.5" x2="102.24" y2="150.07" stroke="#9adcdc" stroke-width="1.0"/>
<line x1="102.39" y1="158.5" x2="102.39" y2="150.59" stroke="#a05050" stroke-width="1.2"/>
<line x1="107.30" y1="158.5" x2="107.30" y2="148.66" stroke="#48e0e8" stroke-width="1.2"/>
<line x1="108.92" y1="158.5" x2="108.92" y2="149.02" stroke="#48e0e8" stroke-width="1.2"/>
<line x1="112.06" y1="158.5" x2="112.06" y2="148.59" stroke="#48e0e8" stroke-width="1.8"/>
<line x1="113.48" y1="158.5" x2="113.48" y2="147.75" stroke="#4a90e0" stroke-width="1.0"/>
<line x1="114.82" y1="158.5" x2="114.82" y2="148.59" stroke="#3ee08a" stroke-width="1.2"/>
<line x1="118.62" y1="158.5" x2="118.62" y2="146.49" stroke="#3ee08a" stroke-width="1.5"/>
<line x1="119.72" y1="158.5" x2="119.72" y2="146.97" stroke="#9adcdc" stroke-width="1.5"/>
<line x1="119.75" y1="158.5" x2="119.75" y2="147.48" stroke="#4a90e0" stroke-width="1.2"/>
<line x1="119.84" y1="158.5" x2="119.84" y2="148.13" stroke="#4a90e0" stroke-width="1.5"/>
<line x1="121.41" y1="158.5" x2="121.41" y2="147.43" stroke="#48e0e8" stroke-width="1.5"/>
<line x1="123.26" y1="158.5" x2="123.26" y2="147.48" stroke="#9adcdc" stroke-width="1.0"/>
<line x1="127.82" y1="158.5" x2="127.82" y2="147.38" stroke="#48e0e8" stroke-width="1.5"/>
<line x1="129.06" y1="158.5" x2="129.06" y2="148.52" stroke="#48e0e8" stroke-width="1.2"/>
<line x1="129.58" y1="158.5" x2="129.58" y2="146.83" stroke="#48e0e8" stroke-width="1.5"/>
<line x1="130.07" y1="158.5" x2="130.07" y2="148.71" stroke="#48e0e8" stroke-width="1.0"/>
<line x1="134.98" y1="158.5" x2="134.98" y2="147.44" stroke="#c8a8a8" stroke-width="1.5"/>
<line x1="135.94" y1="158.5" x2="135.94" y2="147.47" stroke="#4a90e0" stroke-width="1.2"/>
<line x1="136.49" y1="158.5" x2="136.49" y2="148.47" stroke="#c8a8a8" stroke-width="1.0"/>
<line x1="136.64" y1="158.5" x2="136.64" y2="147.27" stroke="#48e0e8" stroke-width="1.2"/>
<line x1="137.43" y1="158.5" x2="137.43" y2="149.46" stroke="#9adcdc" stroke-width="1.2"/>
<line x1="140.42" y1="158.5" x2="140.42" y2="149.20" stroke="#3ee08a" stroke-width="1.0"/>
<line x1="140.47" y1="158.5" x2="140.47" y2="149.10" stroke="#9adcdc" stroke-width="1.2"/>
<line x1="143.22" y1="158.5" x2="143.22" y2="148.48" stroke="#48e0e8" stroke-width="1.0"/>
<line x1="145.49" y1="158.5" x2="145.49" y2="149.42" stroke="#48e0e8" stroke-width="1.8"/>
<line x1="145.96" y1="158.5" x2="145.96" y2="149.75" stroke="#48e0e8" stroke-width="1.8"/>
<line x1="146.44" y1="158.5" x2="146.44" y2="149.92" stroke="#a05050" stroke-width="1.8"/>
<line x1="146.67" y1="158.5" x2="146.67" y2="149.80" stroke="#9adcdc" stroke-width="1.8"/>
<line x1="147.80" y1="158.5" x2="147.80" y2="150.75" stroke="#9adcdc" stroke-width="1.8"/>
<line x1="150.30" y1="158.5" x2="150.30" y2="149.40" stroke="#c8a8a8" stroke-width="1.5"/>
<line x1="151.39" y1="158.5" x2="151.39" y2="149.27" stroke="#9adcdc" stroke-width="1.5"/>
<line x1="151.57" y1="158.5" x2="151.57" y2="150.91" stroke="#9adcdc" stroke-width="1.2"/>
<line x1="154.70" y1="158.5" x2="154.70" y2="150.21" stroke="#3ee08a" stroke-width="1.0"/>
<line x1="155.61" y1="158.5" x2="155.61" y2="151.07" stroke="#9adcdc" stroke-width="1.5"/>
<line x1="155.98" y1="158.5" x2="155.98" y2="150.45" stroke="#9adcdc" stroke-width="1.8"/>
<line x1="156.06" y1="158.5" x2="156.06" y2="151.22" stroke="#4a90e0" stroke-width="1.2"/>
<line x1="156.46" y1="158.5" x2="156.46" y2="150.58" stroke="#a05050" stroke-width="1.0"/>
<line x1="157.06" y1="158.5" x2="157.06" y2="151.29" stroke="#9adcdc" stroke-width="1.0"/>
<line x1="157.32" y1="158.5" x2="157.32" y2="149.84" stroke="#48e0e8" stroke-width="1.2"/>
<line x1="159.71" y1="158.5" x2="159.71" y2="150.73" stroke="#9adcdc" stroke-width="1.8"/>
<line x1="159.78" y1="158.5" x2="159.78" y2="151.16" stroke="#48e0e8" stroke-width="1.8"/>
<line x1="159.86" y1="158.5" x2="159.86" y2="150.20" stroke="#48e0e8" stroke-width="1.0"/>
<line x1="162.54" y1="158.5" x2="162.54" y2="151.56" stroke="#9adcdc" stroke-width="1.0"/>
<line x1="162.64" y1="158.5" x2="162.64" y2="150.10" stroke="#9adcdc" stroke-width="1.0"/>
<line x1="163.64" y1="158.5" x2="163.64" y2="151.10" stroke="#3ee08a" stroke-width="1.5"/>
<line x1="163.74" y1="158.5" x2="163.74" y2="150.51" stroke="#48e0e8" stroke-width="1.5"/>
<line x1="164.36" y1="158.5" x2="164.36" y2="149.93" stroke="#9adcdc" stroke-width="1.8"/>
<line x1="164.55" y1="158.5" x2="164.55" y2="151.69" stroke="#a05050" stroke-width="1.8"/>
<line x1="166.74" y1="158.5" x2="166.74" y2="151.48" stroke="#a05050" stroke-width="1.5"/>
<line x1="167.59" y1="158.5" x2="167.59" y2="150.46" stroke="#4a90e0" stroke-width="1.8"/>
<line x1="168.99" y1="158.5" x2="168.99" y2="150.82" stroke="#9adcdc" stroke-width="1.8"/>
<line x1="169.06" y1="158.5" x2="169.06" y2="151.04" stroke="#4a90e0" stroke-width="1.5"/>
<line x1="169.82" y1="158.5" x2="169.82" y2="151.14" stroke="#3ee08a" stroke-width="1.2"/>
<line x1="170.16" y1="158.5" x2="170.16" y2="150.76" stroke="#48e0e8" stroke-width="1.0"/>
<line x1="172.40" y1="158.5" x2="172.40" y2="151.33" stroke="#9adcdc" stroke-width="1.0"/>
<line x1="176.21" y1="158.5" x2="176.21" y2="150.52" stroke="#48e0e8" stroke-width="1.5"/>
<line x1="176.39" y1="158.5" x2="176.39" y2="150.57" stroke="#9adcdc" stroke-width="1.8"/>
<line x1="177.91" y1="158.5" x2="177.91" y2="151.20" stroke="#48e0e8" stroke-width="1.0"/>
<line x1="180.21" y1="158.5" x2="180.21" y2="151.39" stroke="#9adcdc" stroke-width="1.2"/>
<line x1="182.27" y1="158.5" x2="182.27" y2="151.38" stroke="#9adcdc" stroke-width="1.0"/>
<line x1="183.76" y1="158.5" x2="183.76" y2="152.02" stroke="#48e0e8" stroke-width="1.0"/>
<line x1="184.33" y1="158.5" x2="184.33" y2="152.29" stroke="#9adcdc" stroke-width="1.0"/>
<line x1="185.88" y1="158.5" x2="185.88" y2="151.48" stroke="#48e0e8" stroke-width="1.0"/>
<line x1="185.93" y1="158.5" x2="185.93" y2="151.60" stroke="#a05050" stroke-width="1.2"/>
<line x1="186.09" y1="158.5" x2="186.09" y2="150.93" stroke="#9adcdc" stroke-width="1.0"/>
<line x1="187.19" y1="158.5" x2="187.19" y2="152.18" stroke="#a05050" stroke-width="1.0"/>
<line x1="187.57" y1="158.5" x2="187.57" y2="151.47" stroke="#9adcdc" stroke-width="1.8"/>
<line x1="188.90" y1="158.5" x2="188.90" y2="152.15" stroke="#48e0e8" stroke-width="1.8"/>
<line x1="192.75" y1="158.5" x2="192.75" y2="152.01" stroke="#a05050" stroke-width="1.0"/>
<line x1="193.40" y1="158.5" x2="193.40" y2="151.18" stroke="#9adcdc" stroke-width="1.8"/>
<line x1="195.97" y1="158.5" x2="195.97" y2="152.04" stroke="#9adcdc" stroke-width="1.8"/>
<line x1="196.20" y1="158.5" x2="196.20" y2="151.32" stroke="#48e0e8" stroke-width="1.2"/>
<line x1="196.45" y1="158.5" x2="196.45" y2="151.55" stroke="#3ee08a" stroke-width="1.8"/>
<line x1="197.66" y1="158.5" x2="197.66" y2="152.50" stroke="#9adcdc" stroke-width="1.2"/>
<line x1="197.88" y1="158.5" x2="197.88" y2="152.24" stroke="#3ee08a" stroke-width="1.2"/>
<line x1="200.52" y1="158.5" x2="200.52" y2="151.40" stroke="#a05050" stroke-width="1.5"/>
<line x1="202.05" y1="158.5" x2="202.05" y2="152.01" stroke="#3ee08a" stroke-width="1.5"/>
<line x1="205.10" y1="158.5" x2="205.10" y2="152.99" stroke="#48e0e8" stroke-width="1.8"/>
<line x1="207.35" y1="158.5" x2="207.35" y2="152.87" stroke="#9adcdc" stroke-width="1.5"/>
<line x1="207.72" y1="158.5" x2="207.72" y2="152.05" stroke="#3ee08a" stroke-width="1.2"/>
<line x1="208.47" y1="158.5" x2="208.47" y2="152.17" stroke="#3ee08a" stroke-width="1.2"/>
<line x1="209.35" y1="158.5" x2="209.35" y2="152.40" stroke="#4a90e0" stroke-width="1.8"/>
<line x1="216.16" y1="158.5" x2="216.16" y2="152.06" stroke="#9adcdc" stroke-width="1.8"/>
<line x1="218.27" y1="158.5" x2="218.27" y2="152.64" stroke="#9adcdc" stroke-width="1.2"/>
<line x1="221.33" y1="158.5" x2="221.33" y2="152.39" stroke="#4a90e0" stroke-width="1.0"/>
<line x1="225.73" y1="158.5" x2="225.73" y2="153.12" stroke="#48e0e8" stroke-width="1.2"/>
<line x1="227.80" y1="158.5" x2="227.80" y2="153.21" stroke="#9adcdc" stroke-width="1.0"/>
<line x1="230.97" y1="158.5" x2="230.97" y2="153.24" stroke="#48e0e8" stroke-width="1.0"/>
<line x1="231.49" y1="158.5" x2="231.49" y2="153.35" stroke="#3ee08a" stroke-width="1.0"/>
<line x1="231.67" y1="158.5" x2="231.67" y2="152.39" stroke="#48e0e8" stroke-width="1.5"/>
<line x1="231.72" y1="158.5" x2="231.72" y2="152.72" stroke="#3ee08a" stroke-width="1.5"/>
<line x1="231.73" y1="158.5" x2="231.73" y2="153.04" stroke="#48e0e8" stroke-width="1.8"/>
<line x1="232.65" y1="158.5" x2="232.65" y2="152.65" stroke="#9adcdc" stroke-width="1.8"/>
<line x1="233.33" y1="158.5" x2="233.33" y2="153.08" stroke="#a05050" stroke-width="1.5"/>
<line x1="233.44" y1="158.5" x2="233.44" y2="153.35" stroke="#3ee08a" stroke-width="1.5"/>
<line x1="233.58" y1="158.5" x2="233.58" y2="152.62" stroke="#48e0e8" stroke-width="1.5"/>
<line x1="235.54" y1="158.5" x2="235.54" y2="152.69" stroke="#48e0e8" stroke-width="1.5"/>
<line x1="235.69" y1="158.5" x2="235.69" y2="152.68" stroke="#48e0e8" stroke-width="1.0"/>
<line x1="237.21" y1="158.5" x2="237.21" y2="153.13" stroke="#3ee08a" stroke-width="1.5"/>
<line x1="238.78" y1="158.5" x2="238.78" y2="152.68" stroke="#a05050" stroke-width="1.2"/>
<line x1="239.05" y1="158.5" x2="239.05" y2="153.05" stroke="#4a90e0" stroke-width="1.0"/>
<line x1="242.76" y1="158.5" x2="242.76" y2="152.55" stroke="#9adcdc" stroke-width="1.8"/>
<line x1="243.88" y1="158.5" x2="243.88" y2="153.48" stroke="#4a90e0" stroke-width="1.8"/>
<line x1="244.40" y1="158.5" x2="244.40" y2="152.84" stroke="#9adcdc" stroke-width="1.0"/>
<line x1="246.13" y1="158.5" x2="246.13" y2="153.05" stroke="#a05050" stroke-width="1.8"/>
<line x1="246.75" y1="158.5" x2="246.75" y2="153.39" stroke="#48e0e8" stroke-width="1.0"/>
<line x1="249.59" y1="158.5" x2="249.59" y2="153.18" stroke="#9adcdc" stroke-width="1.5"/>
<line x1="249.99" y1="158.5" x2="249.99" y2="153.35" stroke="#3ee08a" stroke-width="1.5"/>
<line x1="253.99" y1="158.5" x2="253.99" y2="153.31" stroke="#3ee08a" stroke-width="1.0"/>
<line x1="254.59" y1="158.5" x2="254.59" y2="153.80" stroke="#9adcdc" stroke-width="1.0"/>
<line x1="256.18" y1="158.5" x2="256.18" y2="153.16" stroke="#a05050" stroke-width="1.0"/>
<line x1="256.46" y1="158.5" x2="256.46" y2="153.41" stroke="#9adcdc" stroke-width="1.8"/>
<line x1="258.79" y1="158.5" x2="258.79" y2="153.50" stroke="#9adcdc" stroke-width="1.2"/>
<line x1="261.50" y1="158.5" x2="261.50" y2="153.64" stroke="#9adcdc" stroke-width="1.2"/>
<line x1="262.66" y1="158.5" x2="262.66" y2="153.30" stroke="#9adcdc" stroke-width="1.5"/>
<line x1="264.77" y1="158.5" x2="264.77" y2="153.33" stroke="#9adcdc" stroke-width="1.8"/>
<line x1="267.83" y1="158.5" x2="267.83" y2="153.91" stroke="#48e0e8" stroke-width="1.5"/>
<line x1="269.22" y1="158.5" x2="269.22" y2="153.52" stroke="#3ee08a" stroke-width="1.5"/>
<line x1="272.34" y1="158.5" x2="272.34" y2="153.77" stroke="#c8a8a8" stroke-width="1.2"/>
<line x1="274.13" y1="158.5" x2="274.13" y2="154.19" stroke="#9adcdc" stroke-width="1.2"/>
<line x1="275.07" y1="158.5" x2="275.07" y2="153.65" stroke="#3ee08a" stroke-width="1.2"/>
<line x1="275.36" y1="158.5" x2="275.36" y2="154.09" stroke="#3ee08a" stroke-width="1.8"/>
<line x1="275.53" y1="158.5" x2="275.53" y2="153.29" stroke="#48e0e8" stroke-width="1.2"/>
<line x1="275.73" y1="158.5" x2="275.73" y2="153.66" stroke="#9adcdc" stroke-width="1.0"/>
<line x1="275.76" y1="158.5" x2="275.76" y2="154.07" stroke="#4a90e0" stroke-width="1.0"/>
<line x1="276.72" y1="158.5" x2="276.72" y2="153.34" stroke="#9adcdc" stroke-width="1.5"/>
<line x1="277.27" y1="158.5" x2="277.27" y2="153.60" stroke="#48e0e8" stroke-width="1.2"/>
<line x1="277.38" y1="158.5" x2="277.38" y2="153.52" stroke="#4a90e0" stroke-width="1.0"/>
<line x1="279.12" y1="158.5" x2="279.12" y2="153.30" stroke="#48e0e8" stroke-width="1.2"/>
<line x1="282.83" y1="158.5" x2="282.83" y2="153.95" stroke="#9adcdc" stroke-width="1.2"/>
<line x1="283.75" y1="158.5" x2="283.75" y2="153.59" stroke="#9adcdc" stroke-width="1.8"/>
<line x1="283.86" y1="158.5" x2="283.86" y2="153.68" stroke="#9adcdc" stroke-width="1.8"/>
<line x1="284.81" y1="158.5" x2="284.81" y2="153.87" stroke="#9adcdc" stroke-width="1.8"/>
<line x1="285.13" y1="158.5" x2="285.13" y2="154.11" stroke="#3ee08a" stroke-width="1.8"/>
<line x1="285.98" y1="158.5" x2="285.98" y2="153.99" stroke="#48e0e8" stroke-width="1.8"/>
<line x1="289.15" y1="158.5" x2="289.15" y2="154.09" stroke="#48e0e8" stroke-width="1.5"/>
<line x1="289.97" y1="158.5" x2="289.97" y2="153.87" stroke="#48e0e8" stroke-width="1.2"/>
<line x1="294.80" y1="158.5" x2="294.80" y2="154.24" stroke="#9adcdc" stroke-width="1.5"/>
<line x1="295.01" y1="158.5" x2="295.01" y2="153.96" stroke="#3ee08a" stroke-width="1.2"/>
<line x1="295.34" y1="158.5" x2="295.34" y2="153.91" stroke="#9adcdc" stroke-width="1.2"/>
<line x1="296.73" y1="158.5" x2="296.73" y2="154.40" stroke="#9adcdc" stroke-width="1.2"/>
<line x1="297.54" y1="158.5" x2="297.54" y2="154.45" stroke="#9adcdc" stroke-width="1.0"/>
<line x1="298.25" y1="158.5" x2="298.25" y2="154.10" stroke="#48e0e8" stroke-width="1.0"/>
<line x1="298.63" y1="158.5" x2="298.63" y2="154.11" stroke="#9adcdc" stroke-width="1.0"/>
<line x1="301.94" y1="158.5" x2="301.94" y2="154.27" stroke="#9adcdc" stroke-width="1.8"/>
<line x1="302.83" y1="158.5" x2="302.83" y2="154.19" stroke="#9adcdc" stroke-width="1.0"/>
<line x1="303.42" y1="158.5" x2="303.42" y2="153.92" stroke="#9adcdc" stroke-width="1.5"/>
<line x1="303.86" y1="158.5" x2="303.86" y2="153.73" stroke="#3ee08a" stroke-width="1.5"/>
<line x1="304.79" y1="158.5" x2="304.79" y2="154.27" stroke="#a05050" stroke-width="1.5"/>
<line x1="306.16" y1="158.5" x2="306.16" y2="154.23" stroke="#48e0e8" stroke-width="1.0"/>
<line x1="307.74" y1="158.5" x2="307.74" y2="153.97" stroke="#9adcdc" stroke-width="1.0"/>
<line x1="307.90" y1="158.5" x2="307.90" y2="154.47" stroke="#c8a8a8" stroke-width="1.2"/>
<line x1="308.86" y1="158.5" x2="308.86" y2="154.52" stroke="#3ee08a" stroke-width="1.5"/>
<line x1="309.17" y1="158.5" x2="309.17" y2="154.23" stroke="#3ee08a" stroke-width="1.8"/>
<line x1="312.62" y1="158.5" x2="312.62" y2="154.58" stroke="#c8a8a8" stroke-width="1.5"/>
<line x1="314.54" y1="158.5" x2="314.54" y2="153.70" stroke="#4a90e0" stroke-width="1.0"/>
<line x1="318.60" y1="158.5" x2="318.60" y2="153.86" stroke="#9adcdc" stroke-width="1.0"/>
<line x1="319.58" y1="158.5" x2="319.58" y2="154.37" stroke="#a05050" stroke-width="1.8"/>
<line x1="319.85" y1="158.5" x2="319.85" y2="153.89" stroke="#48e0e8" stroke-width="1.5"/>
<line x1="323.40" y1="158.5" x2="323.40" y2="153.97" stroke="#48e0e8" stroke-width="1.8"/>
<line x1="323.76" y1="158.5" x2="323.76" y2="154.40" stroke="#3ee08a" stroke-width="1.2"/>
<line x1="324.73" y1="158.5" x2="324.73" y2="153.87" stroke="#4a90e0" stroke-width="1.8"/>
<line x1="328.86" y1="158.5" x2="328.86" y2="154.62" stroke="#9adcdc" stroke-width="1.0"/>
<line x1="331.25" y1="158.5" x2="331.25" y2="154.06" stroke="#9adcdc" stroke-width="1.0"/>
<line x1="331.78" y1="158.5" x2="331.78" y2="153.98" stroke="#4a90e0" stroke-width="1.0"/>
<line x1="50.74" y1="158.5" x2="50.74" y2="143.37" stroke="#70d8d8" stroke-width="1.2"/>
<line x1="63.52" y1="158.5" x2="63.52" y2="126.90" stroke="#5fe8f0" stroke-width="1.0"/>
<line x1="93.38" y1="158.5" x2="93.38" y2="107.46" stroke="#5fe8f0" stroke-width="1.2"/>
<line x1="113.65" y1="158.5" x2="113.65" y2="21.79" stroke="#80e0f0" stroke-width="1.3"/>
<line x1="113.65" y1="158.5" x2="113.65" y2="40.24" stroke="#4a8ce8" stroke-width="1.3"/>
<line x1="128.26" y1="158.5" x2="128.26" y2="104.49" stroke="#40e070" stroke-width="1.0"/>
<line x1="136.03" y1="158.5" x2="136.03" y2="125.91" stroke="#5fe8f0" stroke-width="1.0"/>
<line x1="147.08" y1="158.5" x2="147.08" y2="139.75" stroke="#5fe8f0" stroke-width="1.0"/>
<line x1="196.11" y1="158.5" x2="196.11" y2="131.18" stroke="#5fe8f0" stroke-width="1.0"/>
<line x1="228.91" y1="158.5" x2="228.91" y2="142.71" stroke="#5fe8f0" stroke-width="1.0"/>
<line x1="109.79" y1="158.5" x2="109.79" y2="145.02" stroke="#d02020" stroke-width="0.8"/>
<line x1="130.50" y1="158.5" x2="130.50" y2="145.02" stroke="#a04040" stroke-width="0.8"/>
<line x1="177.12" y1="158.5" x2="177.12" y2="148.31" stroke="#303090" stroke-width="1.0"/>
<line x1="216.83" y1="158.5" x2="216.83" y2="148.31" stroke="#a04040" stroke-width="0.8"/>
<polyline points="39.0,126.9 40.7,130.0 42.5,133.2 44.2,135.6 45.9,138.1 47.6,139.9 49.4,141.7 51.1,142.9 52.8,144.0 54.5,145.0 56.3,146.0 58.0,146.7 59.7,147.3 61.4,148.0 63.2,148.6 64.9,149.1 66.6,149.6 68.3,150.1 70.1,150.6 71.8,151.0 73.5,151.3 75.3,151.6 77.0,151.9 78.7,151.9 80.4,151.8 82.2,151.7 83.9,151.6 85.6,151.6 87.3,151.6 89.1,151.6 90.8,151.6 92.5,151.5 94.2,151.3 96.0,151.0 97.7,151.0 99.4,150.7 101.2,150.0 102.9,149.3 104.6,149.0 106.3,148.8 108.1,148.5 109.8,148.1 111.5,148.0 113.2,147.9 115.0,147.7 116.7,147.4 118.4,147.3 120.1,147.3 121.9,147.3 123.6,147.3 125.3,147.3 127.0,147.3 128.8,147.3 130.5,147.3 132.2,147.3 134.0,147.5 135.7,147.8 137.4,148.2 139.1,148.3 140.9,148.4 142.6,148.8 144.3,149.2 146.0,149.5 147.8,149.6 149.5,149.7 151.2,149.8 152.9,150.0 154.7,150.2 156.4,150.4 158.1,150.6 159.9,150.6 161.6,150.6 163.3,150.7 165.0,150.8 166.8,150.8 168.5,151.0 170.2,151.1 171.9,151.1 173.7,151.2 175.4,151.3 177.1,151.3 178.8,151.3 180.6,151.3 182.3,151.4 184.0,151.5 185.8,151.6 187.5,151.7 189.2,151.8 190.9,151.9 192.7,151.9 194.4,151.9 196.1,152.0 197.8,152.0 199.6,152.1 201.3,152.2 203.0,152.3 204.7,152.4 206.5,152.5 208.2,152.5 209.9,152.6 211.6,152.6 213.4,152.6 215.1,152.6 216.8,152.7 218.6,152.7 220.3,152.8 222.0,152.8 223.7,152.9 225.5,152.9 227.2,152.9 228.9,152.9 230.6,152.9 232.4,153.0 234.1,153.0 235.8,153.0 237.5,153.1 239.3,153.1 241.0,153.2 242.7,153.2 244.4,153.2 246.2,153.3 247.9,153.3 249.6,153.3 251.4,153.4 253.1,153.5 254.8,153.6 256.5,153.7 258.3,153.8 260.0,153.9 261.7,153.9 263.4,153.9 265.2,153.9 266.9,153.9 268.6,153.9 270.3,153.9 272.1,154.0 273.8,154.0 275.5,154.0 277.3,154.0 279.0,154.1 280.7,154.1 282.4,154.1 284.2,154.1 285.9,154.2 287.6,154.2 289.3,154.2 291.1,154.2 292.8,154.2 294.5,154.2 296.2,154.2 298.0,154.2 299.7,154.2 301.4,154.3 303.1,154.3 304.9,154.3 306.6,154.3 308.3,154.3 310.1,154.3 311.8,154.4 313.5,154.4 315.2,154.4 317.0,154.4 318.7,154.5 320.4,154.5 322.1,154.5 323.9,154.5 325.6,154.5 327.3,154.6 329.0,154.6 330.8,154.6 332.5,154.6" fill="none" stroke="#2d4a1e" stroke-width="0.7" stroke-opacity="1" stroke-linejoin="round"/>
</g>
<line x1="39.0" y1="15.0" x2="332.5" y2="15.0" stroke="#1a1a1a" stroke-width="1.3"/>
<line x1="39.0" y1="15.0" x2="39.0" y2="158.5" stroke="#1a1a1a" stroke-width="1.3"/>
<line x1="332.5" y1="15.0" x2="332.5" y2="158.5" stroke="#1a1a1a" stroke-width="1"/>
<line x1="38.5" y1="158.5" x2="333.0" y2="158.5" stroke="#1a1a1a" stroke-width="1"/>
<line x1="35.2" y1="158.20" x2="39.0" y2="158.20" stroke="#333" stroke-width="0.8"/>
<text x="33.7" y="160.00" text-anchor="end" font-size="5" fill="#000" class="s">0</text>
<line x1="35.2" y1="125.25" x2="39.0" y2="125.25" stroke="#333" stroke-width="0.8"/>
<text x="33.7" y="127.05" text-anchor="end" font-size="5" fill="#000" class="s">100</text>
<line x1="35.2" y1="92.30" x2="39.0" y2="92.30" stroke="#333" stroke-width="0.8"/>
<text x="33.7" y="94.10" text-anchor="end" font-size="5" fill="#000" class="s">200</text>
<line x1="35.2" y1="59.35" x2="39.0" y2="59.35" stroke="#333" stroke-width="0.8"/>
<text x="33.7" y="61.15" text-anchor="end" font-size="5" fill="#000" class="s">300</text>
<line x1="35.2" y1="26.40" x2="39.0" y2="26.40" stroke="#333" stroke-width="0.8"/>
<text x="33.7" y="28.20" text-anchor="end" font-size="5" fill="#000" class="s">400</text>
<line x1="39.00" y1="158.5" x2="39.00" y2="160.7" stroke="#111" stroke-width="0.8"/>
<line x1="42.45" y1="158.5" x2="42.45" y2="160.7" stroke="#111" stroke-width="0.8"/>
<line x1="45.91" y1="158.5" x2="45.91" y2="160.7" stroke="#111" stroke-width="0.8"/>
<line x1="49.36" y1="158.5" x2="49.36" y2="160.7" stroke="#111" stroke-width="0.8"/>
<line x1="52.81" y1="158.5" x2="52.81" y2="160.7" stroke="#111" stroke-width="0.8"/>
<line x1="56.26" y1="158.5" x2="56.26" y2="162.7" stroke="#555" stroke-width="0.8"/>
<text x="56.26" y="168.10" text-anchor="middle" font-size="5" fill="#000" class="s">10</text>
<line x1="59.72" y1="158.5" x2="59.72" y2="160.7" stroke="#111" stroke-width="0.8"/>
<line x1="63.17" y1="158.5" x2="63.17" y2="160.7" stroke="#111" stroke-width="0.8"/>
<line x1="66.62" y1="158.5" x2="66.62" y2="160.7" stroke="#111" stroke-width="0.8"/>
<line x1="70.08" y1="158.5" x2="70.08" y2="160.7" stroke="#111" stroke-width="0.8"/>
<line x1="73.53" y1="158.5" x2="73.53" y2="160.7" stroke="#111" stroke-width="0.8"/>
<line x1="76.98" y1="158.5" x2="76.98" y2="160.7" stroke="#111" stroke-width="0.8"/>
<line x1="80.44" y1="158.5" x2="80.44" y2="160.7" stroke="#111" stroke-width="0.8"/>
<line x1="83.89" y1="158.5" x2="83.89" y2="160.7" stroke="#111" stroke-width="0.8"/>
<line x1="87.34" y1="158.5" x2="87.34" y2="160.7" stroke="#111" stroke-width="0.8"/>
<line x1="90.79" y1="158.5" x2="90.79" y2="162.7" stroke="#555" stroke-width="0.8"/>
<text x="90.79" y="168.10" text-anchor="middle" font-size="5" fill="#000" class="s">20</text>
<line x1="94.25" y1="158.5" x2="94.25" y2="160.7" stroke="#111" stroke-width="0.8"/>
<line x1="97.70" y1="158.5" x2="97.70" y2="160.7" stroke="#111" stroke-width="0.8"/>
<line x1="101.15" y1="158.5" x2="101.15" y2="160.7" stroke="#111" stroke-width="0.8"/>
<line x1="104.61" y1="158.5" x2="104.61" y2="160.7" stroke="#111" stroke-width="0.8"/>
<line x1="108.06" y1="158.5" x2="108.06" y2="160.7" stroke="#111" stroke-width="0.8"/>
<line x1="111.51" y1="158.5" x2="111.51" y2="160.7" stroke="#111" stroke-width="0.8"/>
<line x1="114.96" y1="158.5" x2="114.96" y2="160.7" stroke="#111" stroke-width="0.8"/>
<line x1="118.42" y1="158.5" x2="118.42" y2="160.7" stroke="#111" stroke-width="0.8"/>
<line x1="121.87" y1="158.5" x2="121.87" y2="160.7" stroke="#111" stroke-width="0.8"/>
<line x1="125.32" y1="158.5" x2="125.32" y2="162.7" stroke="#555" stroke-width="0.8"/>
<text x="125.32" y="168.10" text-anchor="middle" font-size="5" fill="#000" class="s">30</text>
<line x1="128.78" y1="158.5" x2="128.78" y2="160.7" stroke="#111" stroke-width="0.8"/>
<line x1="132.23" y1="158.5" x2="132.23" y2="160.7" stroke="#111" stroke-width="0.8"/>
<line x1="135.68" y1="158.5" x2="135.68" y2="160.7" stroke="#111" stroke-width="0.8"/>
<line x1="139.14" y1="158.5" x2="139.14" y2="160.7" stroke="#111" stroke-width="0.8"/>
<line x1="142.59" y1="158.5" x2="142.59" y2="160.7" stroke="#111" stroke-width="0.8"/>
<line x1="146.04" y1="158.5" x2="146.04" y2="160.7" stroke="#111" stroke-width="0.8"/>
<line x1="149.49" y1="158.5" x2="149.49" y2="160.7" stroke="#111" stroke-width="0.8"/>
<line x1="152.95" y1="158.5" x2="152.95" y2="160.7" stroke="#111" stroke-width="0.8"/>
<line x1="156.40" y1="158.5" x2="156.40" y2="160.7" stroke="#111" stroke-width="0.8"/>
<line x1="159.85" y1="158.5" x2="159.85" y2="162.7" stroke="#555" stroke-width="0.8"/>
<text x="159.85" y="168.10" text-anchor="middle" font-size="5" fill="#000" class="s">40</text>
<line x1="163.31" y1="158.5" x2="163.31" y2="160.7" stroke="#111" stroke-width="0.8"/>
<line x1="166.76" y1="158.5" x2="166.76" y2="160.7" stroke="#111" stroke-width="0.8"/>
<line x1="170.21" y1="158.5" x2="170.21" y2="160.7" stroke="#111" stroke-width="0.8"/>
<line x1="173.66" y1="158.5" x2="173.66" y2="160.7" stroke="#111" stroke-width="0.8"/>
<line x1="177.12" y1="158.5" x2="177.12" y2="160.7" stroke="#111" stroke-width="0.8"/>
<line x1="180.57" y1="158.5" x2="180.57" y2="160.7" stroke="#111" stroke-width="0.8"/>
<line x1="184.02" y1="158.5" x2="184.02" y2="160.7" stroke="#111" stroke-width="0.8"/>
<line x1="187.48" y1="158.5" x2="187.48" y2="160.7" stroke="#111" stroke-width="0.8"/>
<line x1="190.93" y1="158.5" x2="190.93" y2="160.7" stroke="#111" stroke-width="0.8"/>
<line x1="194.38" y1="158.5" x2="194.38" y2="162.7" stroke="#555" stroke-width="0.8"/>
<text x="194.38" y="168.10" text-anchor="middle" font-size="5" fill="#000" class="s">50</text>
<line x1="197.84" y1="158.5" x2="197.84" y2="160.7" stroke="#111" stroke-width="0.8"/>
<line x1="201.29" y1="158.5" x2="201.29" y2="160.7" stroke="#111" stroke-width="0.8"/>
<line x1="204.74" y1="158.5" x2="204.74" y2="160.7" stroke="#111" stroke-width="0.8"/>
<line x1="208.19" y1="158.5" x2="208.19" y2="160.7" stroke="#111" stroke-width="0.8"/>
<line x1="211.65" y1="158.5" x2="211.65" y2="160.7" stroke="#111" stroke-width="0.8"/>
<line x1="215.10" y1="158.5" x2="215.10" y2="160.7" stroke="#111" stroke-width="0.8"/>
<line x1="218.55" y1="158.5" x2="218.55" y2="160.7" stroke="#111" stroke-width="0.8"/>
<line x1="222.01" y1="158.5" x2="222.01" y2="160.7" stroke="#111" stroke-width="0.8"/>
<line x1="225.46" y1="158.5" x2="225.46" y2="160.7" stroke="#111" stroke-width="0.8"/>
<line x1="228.91" y1="158.5" x2="228.91" y2="162.7" stroke="#555" stroke-width="0.8"/>
<text x="228.91" y="168.10" text-anchor="middle" font-size="5" fill="#000" class="s">60</text>
<line x1="232.36" y1="158.5" x2="232.36" y2="160.7" stroke="#111" stroke-width="0.8"/>
<line x1="235.82" y1="158.5" x2="235.82" y2="160.7" stroke="#111" stroke-width="0.8"/>
<line x1="239.27" y1="158.5" x2="239.27" y2="160.7" stroke="#111" stroke-width="0.8"/>
<line x1="242.72" y1="158.5" x2="242.72" y2="160.7" stroke="#111" stroke-width="0.8"/>
<line x1="246.18" y1="158.5" x2="246.18" y2="160.7" stroke="#111" stroke-width="0.8"/>
<line x1="249.63" y1="158.5" x2="249.63" y2="160.7" stroke="#111" stroke-width="0.8"/>
<line x1="253.08" y1="158.5" x2="253.08" y2="160.7" stroke="#111" stroke-width="0.8"/>
<line x1="256.54" y1="158.5" x2="256.54" y2="160.7" stroke="#111" stroke-width="0.8"/>
<line x1="259.99" y1="158.5" x2="259.99" y2="160.7" stroke="#111" stroke-width="0.8"/>
<line x1="263.44" y1="158.5" x2="263.44" y2="162.7" stroke="#555" stroke-width="0.8"/>
<text x="263.44" y="168.10" text-anchor="middle" font-size="5" fill="#000" class="s">70</text>
<line x1="266.89" y1="158.5" x2="266.89" y2="160.7" stroke="#111" stroke-width="0.8"/>
<line x1="270.35" y1="158.5" x2="270.35" y2="160.7" stroke="#111" stroke-width="0.8"/>
<line x1="273.80" y1="158.5" x2="273.80" y2="160.7" stroke="#111" stroke-width="0.8"/>
<line x1="277.25" y1="158.5" x2="277.25" y2="160.7" stroke="#111" stroke-width="0.8"/>
<line x1="280.71" y1="158.5" x2="280.71" y2="160.7" stroke="#111" stroke-width="0.8"/>
<line x1="284.16" y1="158.5" x2="284.16" y2="160.7" stroke="#111" stroke-width="0.8"/>
<line x1="287.61" y1="158.5" x2="287.61" y2="160.7" stroke="#111" stroke-width="0.8"/>
<line x1="291.06" y1="158.5" x2="291.06" y2="160.7" stroke="#111" stroke-width="0.8"/>
<line x1="294.52" y1="158.5" x2="294.52" y2="160.7" stroke="#111" stroke-width="0.8"/>
<line x1="297.97" y1="158.5" x2="297.97" y2="162.7" stroke="#555" stroke-width="0.8"/>
<text x="297.97" y="168.10" text-anchor="middle" font-size="5" fill="#000" class="s">80</text>
<line x1="301.42" y1="158.5" x2="301.42" y2="160.7" stroke="#111" stroke-width="0.8"/>
<line x1="304.88" y1="158.5" x2="304.88" y2="160.7" stroke="#111" stroke-width="0.8"/>
<line x1="308.33" y1="158.5" x2="308.33" y2="160.7" stroke="#111" stroke-width="0.8"/>
<line x1="311.78" y1="158.5" x2="311.78" y2="160.7" stroke="#111" stroke-width="0.8"/>
<line x1="315.24" y1="158.5" x2="315.24" y2="160.7" stroke="#111" stroke-width="0.8"/>
<line x1="318.69" y1="158.5" x2="318.69" y2="160.7" stroke="#111" stroke-width="0.8"/>
<line x1="322.14" y1="158.5" x2="322.14" y2="160.7" stroke="#111" stroke-width="0.8"/>
<line x1="325.59" y1="158.5" x2="325.59" y2="160.7" stroke="#111" stroke-width="0.8"/>
<line x1="329.05" y1="158.5" x2="329.05" y2="160.7" stroke="#111" stroke-width="0.8"/>
<line x1="332.50" y1="158.5" x2="332.50" y2="162.7" stroke="#555" stroke-width="0.8"/>
<line x1="83.8" y1="5.199999999999999" x2="83.8" y2="15.0" stroke="#f0a060" stroke-width="0.9"/>
<line x1="93.5" y1="5.199999999999999" x2="93.5" y2="15.0" stroke="#f0a060" stroke-width="0.9"/>
<line x1="97.5" y1="5.199999999999999" x2="97.5" y2="15.0" stroke="#f0a060" stroke-width="0.9"/>
<line x1="104.7" y1="5.199999999999999" x2="104.7" y2="15.0" stroke="#f0a060" stroke-width="0.9"/>
<line x1="113.5" y1="5.199999999999999" x2="113.5" y2="15.0" stroke="#f0a060" stroke-width="0.9"/>
<line x1="118.4" y1="5.199999999999999" x2="118.4" y2="15.0" stroke="#f0a060" stroke-width="0.9"/>
<line x1="123.5" y1="5.199999999999999" x2="123.5" y2="15.0" stroke="#f0a060" stroke-width="0.9"/>
<line x1="128.4" y1="5.199999999999999" x2="128.4" y2="15.0" stroke="#f0a060" stroke-width="0.9"/>
<line x1="133.2" y1="5.199999999999999" x2="133.2" y2="15.0" stroke="#f0a060" stroke-width="0.9"/>
<line x1="137.5" y1="5.199999999999999" x2="137.5" y2="15.0" stroke="#f0a060" stroke-width="0.9"/>
<line x1="140.4" y1="5.199999999999999" x2="140.4" y2="15.0" stroke="#f0a060" stroke-width="0.9"/>
<line x1="143.5" y1="5.199999999999999" x2="143.5" y2="15.0" stroke="#f0a060" stroke-width="0.9"/>
<line x1="158.4" y1="5.199999999999999" x2="158.4" y2="15.0" stroke="#f0a060" stroke-width="0.9"/>
<line x1="163.7" y1="5.199999999999999" x2="163.7" y2="15.0" stroke="#f0a060" stroke-width="0.9"/>
<line x1="184.5" y1="5.199999999999999" x2="184.5" y2="15.0" stroke="#f0a060" stroke-width="0.9"/>
<line x1="196.2" y1="5.199999999999999" x2="196.2" y2="15.0" stroke="#f0a060" stroke-width="0.9"/>
<line x1="211.4" y1="5.199999999999999" x2="211.4" y2="15.0" stroke="#f0a060" stroke-width="0.9"/>
<line x1="228.5" y1="5.199999999999999" x2="228.5" y2="15.0" stroke="#f0a060" stroke-width="0.9"/>
<line x1="236.4" y1="5.199999999999999" x2="236.4" y2="15.0" stroke="#f0a060" stroke-width="0.9"/>
<line x1="255.4" y1="5.199999999999999" x2="255.4" y2="15.0" stroke="#f0a060" stroke-width="0.9"/>
<line x1="265.1" y1="5.199999999999999" x2="265.1" y2="15.0" stroke="#f0a060" stroke-width="0.9"/>
<line x1="275.6" y1="5.199999999999999" x2="275.6" y2="15.0" stroke="#f0a060" stroke-width="0.9"/>
<line x1="279.9" y1="5.199999999999999" x2="279.9" y2="15.0" stroke="#f0a060" stroke-width="0.9"/>
<line x1="289.2" y1="5.199999999999999" x2="289.2" y2="15.0" stroke="#f0a060" stroke-width="0.9"/>
<path d="M122.30,1.90 L123.50,4.50 L124.70,1.90 M123.50,4.30 L123.50,6.00" fill="none" stroke="#333" stroke-width="0.9"/>
<path d="M132.00,1.90 L133.20,4.50 L134.40,1.90 M133.20,4.30 L133.20,6.00" fill="none" stroke="#333" stroke-width="0.9"/>
<text x="40.5" y="20.6" font-size="5" fill="#000" class="s" textLength="28.7" lengthAdjust="spacingAndGlyphs">D00609002A</text>
<text x="2.0" y="12.9" font-size="5.2" fill="#000" class="s" textLength="15.3" lengthAdjust="spacingAndGlyphs">Counts</text>
<text x="159.6" y="176.3" font-size="5" fill="#000" class="s" textLength="69.5" lengthAdjust="spacingAndGlyphs">Position [°2Theta] (Copper (Cu))</text>
<text x="185.3" y="197.8" font-size="17" class="cap" fill="#000" stroke="#000" stroke-width="0.2">(a)</text>
<clipPath id="bclip"><rect x="389.5" y="14.5" width="293.0" height="144.0"/></clipPath>
<g clip-path="url(#bclip)">
<polyline points="389.5,156.3 389.9,156.1 390.2,156.9 390.6,156.8 390.9,157.4 391.3,156.0 391.6,156.9 391.9,156.7 392.3,156.5 392.6,157.1 393.0,156.5 393.4,156.7 393.7,157.2 394.1,156.6 394.4,156.3 394.8,157.2 395.1,156.4 395.4,156.6 395.8,156.5 396.1,156.5 396.5,156.2 396.9,156.8 397.2,156.4 397.6,156.8 397.9,156.4 398.3,156.9 398.6,156.7 398.9,156.1 399.3,156.5 399.6,156.8 400.0,157.0 400.3,156.9 400.7,156.6 401.1,156.4 401.4,156.5 401.8,156.5 402.1,156.7 402.4,156.2 402.8,156.8 403.1,156.9 403.5,156.4 403.8,156.7 404.2,156.8 404.6,156.9 404.9,156.8 405.3,156.5 405.6,156.6 406.0,157.1 406.3,156.5 406.6,156.6 407.0,157.0 407.3,156.4 407.7,156.8 408.1,156.8 408.4,156.4 408.8,156.2 409.1,156.9 409.5,156.5 409.8,157.0 410.1,155.8 410.5,156.8 410.8,156.3 411.2,156.9 411.6,156.4 411.9,155.9 412.3,157.4 412.6,156.8 413.0,156.5 413.3,156.7 413.6,156.9 414.0,155.9 414.0,155.9 414.1,156.2 414.3,156.5 414.3,156.6 414.4,156.7 414.5,156.9 414.6,157.1 414.7,157.1 414.8,156.9 414.9,156.6 415.0,156.3 415.0,156.2 415.2,156.1 415.3,156.0 415.4,156.8 415.4,156.8 415.5,156.7 415.7,156.4 415.8,156.2 415.8,156.3 415.9,156.5 416.0,156.7 416.1,156.8 416.2,156.8 416.3,156.7 416.4,156.6 416.5,156.6 416.6,156.5 416.8,156.1 417.1,156.6 417.5,157.0 417.5,157.0 417.7,157.1 417.8,157.1 417.8,157.1 417.9,156.9 418.0,156.6 418.2,156.2 418.2,156.1 418.3,156.1 418.4,156.1 418.5,155.9 418.5,155.9 418.7,155.0 418.8,153.9 418.9,155.2 418.9,155.5 419.1,156.2 419.2,156.2 419.3,156.2 419.3,156.2 419.4,156.3 419.6,156.4 419.6,156.4 419.7,156.4 419.8,156.4 419.9,156.3 420.0,156.3 420.1,156.7 420.3,157.3 420.6,156.7 421.0,156.2 421.3,156.3 421.7,156.2 422.0,157.3 422.4,156.5 422.6,156.4 422.7,156.4 422.8,156.4 422.9,156.1 423.0,155.8 423.1,155.6 423.1,155.6 423.2,156.1 423.4,156.5 423.5,156.8 423.5,156.8 423.6,156.6 423.8,155.9 423.8,155.5 423.9,155.0 424.0,155.8 424.1,156.4 424.2,156.4 424.3,156.4 424.4,156.3 424.5,156.2 424.5,156.2 424.6,156.4 424.8,156.6 424.8,156.7 424.9,156.6 425.0,156.4 425.1,156.2 425.2,156.1 425.5,156.8 425.9,156.5 426.3,156.7 426.6,156.5 427.0,156.8 427.3,157.0 427.7,156.1 428.0,156.4 428.3,156.7 428.7,156.4 429.0,156.1 429.4,156.8 429.7,156.5 430.1,156.2 430.5,156.2 430.8,156.5 431.2,157.1 431.5,155.8 431.8,156.2 432.2,156.3 432.5,156.4 432.9,156.1 433.2,156.4 433.6,156.6 434.0,156.5 434.3,156.4 434.7,156.4 435.0,156.5 435.3,155.8 435.7,156.6 436.0,155.8 436.4,156.4 436.7,155.9 437.1,155.4 437.5,155.9 437.8,156.3 438.2,156.0 438.5,155.9 438.9,156.6 439.2,156.2 439.5,155.9 439.9,156.2 440.2,156.0 440.6,155.6 441.0,155.6 441.3,155.5 441.7,155.7 442.0,156.1 442.4,155.9 442.7,156.0 443.0,156.0 443.4,155.9 443.7,156.5 444.1,155.9 444.5,155.8 444.8,156.1 445.2,155.8 445.5,155.5 445.9,155.8 446.2,154.6 446.5,156.7 446.9,155.7 447.2,156.4 447.6,155.1 447.9,154.2 448.3,156.6 448.7,155.5 449.0,155.3 449.4,155.7 449.7,155.3 449.9,156.1 450.0,156.4 450.1,156.4 450.2,155.8 450.3,155.3 450.4,155.0 450.5,155.0 450.6,155.1 450.7,155.1 450.7,155.0 450.8,154.9 451.0,154.2 451.1,150.7 451.1,150.6 451.2,146.1 451.4,151.0 451.4,154.1 451.5,154.5 451.6,155.0 451.7,155.0 451.8,154.9 451.9,155.1 452.0,155.3 452.1,155.6 452.2,155.6 452.2,155.5 452.4,155.4 452.5,155.3 452.5,155.3 452.9,155.6 453.2,156.4 453.6,155.4 453.9,155.3 454.2,155.0 454.6,155.7 454.6,155.7 454.7,155.6 454.9,155.4 454.9,155.3 455.0,155.3 455.1,155.1 455.3,154.9 455.3,154.9 455.4,154.9 455.5,154.8 455.7,154.2 455.7,154.1 455.8,150.5 455.9,145.4 456.0,147.8 456.0,149.8 456.2,153.2 456.3,153.8 456.4,153.9 456.4,154.3 456.6,155.0 456.7,155.6 456.7,155.6 456.8,155.8 456.9,156.0 457.1,156.1 457.1,156.0 457.2,155.5 457.4,154.8 457.7,154.4 458.1,154.7 458.4,154.8 458.8,155.5 459.2,155.5 459.5,154.6 459.9,155.4 460.2,155.8 460.3,155.7 460.4,155.6 460.5,155.4 460.6,155.4 460.7,154.7 460.8,154.0 460.9,153.3 460.9,153.3 461.1,153.4 461.2,153.4 461.2,153.3 461.3,153.3 461.4,152.3 461.6,151.1 461.6,151.3 461.7,153.1 461.8,154.5 461.9,154.8 462.0,154.8 462.1,154.7 462.2,154.5 462.3,154.4 462.4,154.5 462.5,154.7 462.6,154.9 462.6,154.9 462.8,154.5 462.8,154.4 462.9,154.0 462.9,153.9 463.0,153.6 463.1,153.8 463.2,154.1 463.3,154.4 463.4,154.4 463.5,154.6 463.6,154.7 463.7,154.8 463.7,154.7 463.9,153.8 464.0,151.8 464.1,150.3 464.1,149.8 464.2,152.3 464.4,154.1 464.4,154.2 464.5,154.3 464.6,154.2 464.7,154.0 464.8,154.1 464.9,154.1 465.0,154.2 465.1,154.2 465.2,154.2 465.3,154.3 465.4,154.3 465.4,154.3 465.8,153.9 466.1,154.5 466.5,155.0 466.9,155.2 467.2,154.7 467.3,154.7 467.4,154.6 467.5,154.5 467.6,154.5 467.7,154.3 467.8,154.2 467.9,154.1 467.9,154.1 468.1,154.0 468.2,154.0 468.2,154.0 468.3,153.9 468.5,153.5 468.6,153.0 468.6,153.0 468.7,153.4 468.9,153.8 468.9,153.9 469.0,154.0 469.1,154.2 469.3,154.4 469.3,154.4 469.4,154.4 469.5,154.4 469.6,154.4 469.7,154.5 469.8,154.7 469.9,155.0 470.0,155.1 470.4,154.1 470.7,153.6 471.1,153.5 471.4,153.9 471.8,153.9 472.1,153.1 472.4,153.7 472.8,153.1 473.1,153.0 473.1,153.0 473.3,153.0 473.4,152.9 473.5,152.9 473.5,152.8 473.7,152.1 473.8,151.3 473.9,150.8 473.9,150.6 474.1,149.4 474.2,143.9 474.2,143.8 474.3,114.9 474.5,75.3 474.6,93.9 474.6,114.7 474.7,143.8 474.9,150.2 474.9,150.6 475.0,151.8 475.1,152.6 475.3,152.9 475.3,152.8 475.4,152.4 475.6,152.0 475.6,151.8 475.7,151.8 475.8,151.9 475.9,151.9 476.3,153.2 476.6,152.8 476.8,152.6 477.0,152.4 477.0,152.3 477.1,152.4 477.2,152.5 477.3,152.5 477.4,152.5 477.5,152.3 477.6,151.9 477.7,151.7 477.8,151.8 477.9,151.1 478.0,145.9 478.1,145.5 478.2,137.4 478.3,145.4 478.4,149.9 478.5,151.3 478.6,152.4 478.7,152.5 478.8,152.4 478.9,152.4 479.0,152.2 479.1,152.0 479.1,152.1 479.3,152.6 479.4,153.0 479.4,153.1 479.5,153.2 479.8,153.7 480.1,153.4 480.5,153.5 480.8,153.6 481.2,152.0 481.6,153.5 481.9,153.1 482.3,151.5 482.6,152.2 482.9,152.8 483.3,153.4 483.6,152.7 483.8,152.3 484.0,151.9 484.0,151.8 484.1,152.0 484.2,152.2 484.3,152.4 484.4,152.3 484.5,152.0 484.7,151.6 484.7,151.5 484.8,151.4 484.9,150.2 485.1,145.3 485.1,143.4 485.2,133.5 485.4,143.0 485.4,146.4 485.5,150.3 485.6,152.1 485.8,152.7 485.8,152.7 485.9,152.7 486.0,152.6 486.1,152.6 486.2,152.5 486.3,152.3 486.5,152.0 486.5,152.1 486.6,152.8 486.8,153.9 487.1,153.1 487.5,152.9 487.8,153.4 488.2,153.2 488.6,152.4 488.9,151.4 489.3,152.4 489.5,152.4 489.6,152.4 489.6,152.4 489.8,152.7 489.9,153.0 490.0,153.0 490.0,152.2 490.2,150.4 490.3,148.3 490.3,148.2 490.5,146.4 490.6,138.1 490.6,128.7 490.7,97.4 490.9,41.6 491.0,88.2 491.0,97.8 491.2,139.3 491.3,148.5 491.3,149.7 491.4,150.7 491.6,151.5 491.7,151.8 491.7,152.0 491.9,152.6 492.0,153.1 492.1,153.3 492.1,153.2 492.3,153.0 492.4,152.9 492.8,152.8 493.1,153.2 493.5,153.1 493.8,153.8 494.1,152.4 494.5,153.8 494.8,154.5 495.2,153.6 495.5,154.0 495.9,154.1 496.3,153.8 496.6,153.4 497.0,154.2 497.3,153.7 497.6,152.6 498.0,153.1 498.3,153.7 498.7,153.5 499.0,153.7 499.4,153.6 499.8,153.0 499.8,153.1 499.9,153.3 500.1,153.6 500.1,153.6 500.2,154.0 500.4,154.5 500.5,154.8 500.5,154.6 500.7,154.0 500.8,153.3 500.8,153.3 500.9,153.1 501.1,151.3 501.2,149.9 501.2,148.4 501.4,150.6 501.5,152.2 501.5,152.4 501.7,153.2 501.8,153.7 501.8,153.8 502.0,153.7 502.1,153.6 502.2,153.4 502.2,153.3 502.4,152.7 502.5,152.1 502.5,152.0 502.7,152.8 502.9,154.2 503.3,154.2 503.6,154.4 504.0,154.9 504.3,154.6 504.7,153.4 505.0,154.0 505.3,154.6 505.7,154.4 506.0,153.2 506.4,154.0 506.8,153.8 506.8,153.8 506.9,153.6 507.1,153.4 507.1,153.4 507.2,153.1 507.4,152.8 507.5,152.6 507.5,152.5 507.7,152.3 507.8,152.0 507.8,152.0 508.0,151.9 508.1,150.3 508.2,149.6 508.3,148.2 508.4,151.0 508.5,152.5 508.6,152.9 508.7,153.3 508.8,153.4 508.8,153.4 509.0,153.0 509.1,152.5 509.2,152.3 509.3,152.4 509.4,152.5 509.5,152.6 509.6,152.7 509.7,153.2 509.9,153.8 510.2,153.3 510.6,153.5 511.0,153.6 511.1,153.7 511.2,153.9 511.3,153.9 511.4,154.0 511.5,154.2 511.7,154.3 511.7,154.3 511.8,154.1 512.0,153.8 512.0,153.8 512.1,153.9 512.3,153.6 512.3,152.8 512.4,151.1 512.6,146.8 512.7,149.0 512.7,149.3 512.9,152.1 513.0,152.9 513.0,153.1 513.2,153.4 513.3,154.0 513.4,154.3 513.4,154.1 513.6,153.4 513.7,152.7 513.7,152.7 513.9,152.8 514.0,153.0 514.1,153.1 514.5,154.7 514.8,152.5 514.8,152.4 514.9,152.7 515.1,153.0 515.2,153.1 515.2,152.9 515.4,152.5 515.5,152.2 515.5,152.4 515.7,153.2 515.8,154.1 515.9,154.2 516.0,153.5 516.1,151.5 516.2,149.7 516.3,149.0 516.4,151.3 516.5,152.8 516.6,152.9 516.7,153.3 516.9,153.5 516.9,153.5 517.0,153.6 517.2,153.6 517.2,153.6 517.3,153.5 517.5,153.3 517.6,153.0 517.6,153.1 517.8,153.7 518.0,154.6 518.3,154.4 518.7,154.5 519.0,154.1 519.4,154.1 519.7,153.5 520.0,153.6 520.4,153.8 520.7,154.2 521.1,154.0 521.5,153.1 521.8,153.3 522.2,153.7 522.5,154.0 522.8,153.0 522.9,152.7 522.9,152.9 523.1,153.5 523.2,154.1 523.2,154.0 523.4,153.7 523.5,153.3 523.5,153.2 523.7,153.0 523.8,152.6 523.9,152.3 524.0,152.0 524.1,149.0 524.2,145.3 524.3,144.9 524.4,149.0 524.6,152.0 524.6,152.2 524.7,153.2 524.9,154.0 524.9,154.2 525.0,153.9 525.2,153.4 525.3,153.0 525.3,153.1 525.5,153.4 525.6,153.6 525.7,153.6 525.8,154.1 525.9,154.3 526.0,154.6 526.0,154.5 526.2,154.0 526.3,153.4 526.4,153.3 526.5,153.7 526.6,154.1 526.7,154.3 526.8,153.9 526.9,153.3 527.0,152.8 527.1,152.9 527.3,153.0 527.4,152.9 527.4,152.9 527.6,153.4 527.7,153.8 527.7,153.8 527.9,153.7 528.0,153.6 528.1,153.6 528.2,153.7 528.3,153.8 528.4,154.0 528.5,153.9 528.6,153.8 528.8,153.6 528.8,153.6 528.9,153.8 529.0,153.9 529.1,154.1 529.2,154.1 529.3,153.7 529.5,153.4 529.5,153.3 529.6,153.4 529.8,153.6 529.9,153.7 529.9,153.6 530.1,153.4 530.2,152.9 530.2,152.9 530.4,151.4 530.5,149.4 530.5,149.6 530.7,151.3 530.8,152.5 530.9,152.4 531.0,152.8 531.1,153.4 531.2,153.6 531.3,153.8 531.5,154.3 531.6,154.7 531.6,154.7 531.8,154.2 531.9,153.8 531.9,153.7 532.1,153.6 532.3,153.4 532.7,153.0 533.0,154.4 533.4,152.7 533.7,153.8 534.1,152.1 534.1,152.1 534.2,152.9 534.4,153.6 534.4,153.8 534.5,153.6 534.7,153.3 534.7,153.2 534.8,153.3 535.0,153.5 535.1,153.6 535.1,153.6 535.3,153.2 535.4,150.8 535.5,150.7 535.6,145.9 535.8,149.0 535.8,149.8 535.9,151.9 536.1,152.7 536.2,152.8 536.2,152.8 536.4,152.7 536.5,152.5 536.5,152.6 536.7,152.9 536.9,153.1 536.9,153.1 537.0,153.5 537.2,153.9 537.2,154.0 537.6,154.6 537.9,154.1 538.2,154.1 538.6,154.1 538.9,153.3 539.3,153.5 539.6,153.8 539.9,153.6 540.0,153.6 540.1,153.6 540.2,153.7 540.4,153.7 540.4,153.7 540.5,153.6 540.7,153.5 540.7,153.5 540.8,153.3 541.0,153.1 541.1,153.0 541.2,152.8 541.3,151.8 541.4,150.8 541.5,150.7 541.6,152.5 541.7,153.6 541.8,153.8 541.9,154.2 542.1,154.4 542.1,154.4 542.3,153.6 542.4,152.8 542.4,152.6 542.6,152.9 542.7,153.3 542.8,153.5 542.9,153.4 543.0,153.0 543.1,152.8 543.5,154.5 543.8,153.9 543.9,153.8 543.9,153.7 544.1,153.6 544.2,153.5 544.3,153.7 544.4,154.0 544.6,154.3 544.6,154.2 544.7,153.9 544.9,153.5 545.1,152.4 545.2,148.8 545.2,147.6 545.4,144.2 545.5,148.4 545.6,150.2 545.7,151.5 545.9,152.1 545.9,152.1 546.0,152.4 546.2,153.3 546.3,153.9 546.3,154.0 546.5,154.1 546.6,154.3 546.6,154.3 546.8,153.8 547.0,153.3 547.0,153.1 547.3,152.9 547.4,152.8 547.5,153.0 547.6,153.2 547.7,153.4 547.8,153.5 547.9,153.9 548.1,154.2 548.1,154.0 548.3,153.4 548.4,152.8 548.4,152.8 548.6,152.5 548.7,151.2 548.8,150.9 548.9,149.5 549.1,151.3 549.1,151.9 549.2,152.9 549.4,153.5 549.4,153.7 549.5,153.6 549.7,153.4 549.8,153.3 549.9,153.2 550.0,153.1 550.1,152.9 550.2,153.0 550.3,153.4 550.5,153.8 550.5,153.8 550.9,154.5 551.2,153.3 551.6,153.2 551.9,153.5 552.3,152.9 552.6,153.8 552.7,153.7 552.9,153.6 552.9,153.5 553.1,153.6 553.2,153.6 553.3,153.6 553.4,153.5 553.6,153.2 553.6,153.0 553.7,152.9 553.9,152.5 554.0,152.1 554.0,152.2 554.2,151.9 554.4,151.5 554.4,151.4 554.5,151.7 554.7,151.7 554.7,151.7 554.8,152.0 555.0,152.3 555.1,152.3 555.2,152.5 555.3,152.8 555.4,152.9 555.5,152.9 555.7,153.0 555.8,153.0 555.8,152.9 556.0,152.5 556.1,152.2 556.4,153.6 556.8,153.5 557.1,154.1 557.5,153.1 557.8,152.5 558.2,153.1 558.2,153.1 558.4,153.1 558.5,153.1 558.6,153.2 558.7,153.3 558.9,153.5 558.9,153.6 559.0,153.5 559.2,153.3 559.3,153.3 559.3,153.5 559.5,153.8 559.6,153.7 559.7,153.0 559.8,151.0 559.9,151.2 560.0,151.7 560.2,153.0 560.3,153.6 560.3,153.6 560.5,153.8 560.6,154.0 560.6,154.0 560.8,154.0 561.0,153.9 561.0,153.9 561.1,153.9 561.3,153.9 561.3,153.9 561.5,153.6 561.7,152.8 562.1,152.7 562.4,154.2 562.8,152.8 563.1,152.8 563.5,153.8 563.8,154.2 564.1,153.8 564.4,153.7 564.5,153.7 564.6,153.6 564.8,153.2 564.8,153.1 564.9,153.1 565.1,153.3 565.2,153.4 565.3,153.5 565.4,153.8 565.6,153.9 565.6,153.7 565.8,151.8 565.9,146.1 565.9,145.3 566.1,138.3 566.2,146.9 566.3,147.1 566.4,151.0 566.4,151.5 566.5,152.0 566.6,152.0 566.6,152.0 566.7,152.6 566.7,152.8 566.9,153.5 566.9,153.6 567.0,153.8 567.0,153.8 567.1,153.7 567.2,153.7 567.2,153.6 567.3,153.6 567.4,153.6 567.4,153.6 567.5,153.5 567.6,153.5 567.6,153.4 567.7,153.2 567.7,153.0 567.9,151.3 568.0,148.9 568.0,148.5 568.2,150.3 568.3,151.6 568.4,151.7 568.5,152.3 568.7,152.6 568.7,152.6 568.7,152.6 568.9,152.7 568.9,152.8 569.0,152.9 569.0,152.9 569.1,152.9 569.2,153.0 569.2,153.0 569.4,153.1 569.4,153.1 569.4,153.1 569.5,153.5 569.5,153.5 569.7,154.0 569.7,154.0 569.8,154.1 569.9,153.9 570.0,153.3 570.1,152.9 570.2,151.8 570.4,149.9 570.5,150.5 570.5,151.9 570.7,153.4 570.8,153.7 570.9,153.6 571.0,153.2 571.1,152.9 571.2,153.1 571.4,153.5 571.5,153.8 571.5,153.8 571.7,153.8 571.8,153.8 571.9,153.8 572.0,153.9 572.2,154.0 572.5,154.5 572.9,153.0 573.3,152.4 573.6,153.3 574.0,153.9 574.3,154.9 574.6,153.3 575.0,152.5 575.3,153.2 575.7,152.7 576.0,152.3 576.4,152.6 576.8,153.6 577.1,152.6 577.5,152.8 577.8,154.2 578.1,153.6 578.5,154.2 578.8,153.4 579.2,152.9 579.5,154.0 579.9,154.5 580.3,152.4 580.6,153.1 581.0,152.3 581.3,154.1 581.7,152.6 582.0,151.8 582.3,151.9 582.7,153.5 582.7,153.4 582.9,153.3 583.0,153.1 583.1,153.1 583.2,153.3 583.4,153.4 583.4,153.4 583.6,152.9 583.8,152.5 583.8,152.5 583.9,152.4 584.1,152.0 584.3,150.6 584.4,148.8 584.5,148.9 584.6,151.5 584.8,153.6 584.8,153.6 585.0,153.3 585.1,152.8 585.2,152.7 585.3,153.1 585.5,153.5 585.5,153.6 585.6,153.3 585.8,152.9 585.8,152.9 586.0,153.0 586.2,153.1 586.2,153.2 586.5,152.2 586.9,152.5 587.2,153.6 587.6,153.1 588.0,152.1 588.3,153.7 588.7,153.1 589.0,152.5 589.3,152.5 589.7,153.0 590.0,154.2 590.4,154.1 590.7,153.3 591.1,153.2 591.5,151.6 591.8,153.9 592.2,152.6 592.5,152.9 592.8,154.4 593.2,154.0 593.5,153.4 593.9,153.8 594.2,153.6 594.6,153.2 595.0,154.0 595.3,153.2 595.7,153.9 596.0,153.9 596.4,153.2 596.7,153.9 597.0,153.4 597.4,152.5 597.7,153.6 598.1,153.7 598.5,153.1 598.8,153.8 599.2,152.9 599.5,154.4 599.9,153.2 600.2,154.0 600.5,154.1 600.9,152.4 601.2,154.1 601.6,152.4 602.0,153.2 602.3,152.7 602.6,153.9 602.7,154.2 602.8,153.7 602.9,153.0 603.0,152.8 603.1,152.7 603.3,152.6 603.4,152.6 603.5,152.9 603.7,153.4 603.7,153.5 603.8,153.4 604.0,152.8 604.0,152.4 604.2,148.9 604.4,143.3 604.4,143.3 604.5,148.4 604.7,152.4 604.7,152.7 604.9,153.4 605.1,153.7 605.1,153.7 605.3,153.9 605.4,154.0 605.4,154.0 605.6,153.7 605.8,153.4 605.8,153.3 606.0,153.4 606.1,153.4 606.2,153.4 606.5,153.6 606.9,152.5 607.2,153.9 607.5,153.4 607.9,152.7 608.2,154.3 608.6,153.0 608.9,152.4 609.3,154.4 609.6,154.3 609.7,154.3 609.8,154.3 610.0,154.3 610.0,154.3 610.1,154.4 610.3,154.7 610.4,154.7 610.5,154.1 610.7,153.4 610.7,153.4 610.9,153.9 611.0,154.5 611.1,154.5 611.2,153.2 611.4,151.5 611.4,151.5 611.6,152.1 611.7,152.4 611.8,152.5 611.9,153.6 612.1,154.6 612.1,154.5 612.3,154.2 612.4,153.9 612.5,154.0 612.7,154.4 612.8,154.8 612.8,154.6 613.0,153.8 613.2,153.2 613.2,153.3 613.5,154.1 613.9,153.9 614.2,153.7 614.6,153.4 614.9,153.9 615.2,153.7 615.6,154.1 615.9,153.7 616.3,154.4 616.7,153.7 617.0,154.8 617.4,154.0 617.7,152.4 617.8,152.7 618.0,153.4 618.1,153.7 618.1,153.9 618.3,154.3 618.4,154.4 618.5,154.2 618.7,153.7 618.7,153.6 618.9,153.8 619.1,154.1 619.1,154.2 619.2,154.2 619.4,153.8 619.4,153.7 619.6,152.7 619.8,153.3 619.8,153.4 620.0,153.5 620.1,153.2 620.2,153.2 620.3,153.3 620.5,153.5 620.5,153.5 620.5,153.5 620.7,153.7 620.7,153.7 620.9,153.8 620.9,153.8 620.9,153.9 621.1,154.1 621.1,154.1 621.2,154.2 621.2,154.3 621.2,154.3 621.4,154.3 621.4,154.3 621.6,154.3 621.6,154.0 621.8,153.2 621.9,152.5 622.0,152.5 622.2,151.5 622.2,150.5 622.3,150.1 622.5,152.4 622.6,153.3 622.7,154.1 622.9,154.7 622.9,154.8 623.1,154.7 623.3,154.5 623.3,154.5 623.4,153.5 623.6,152.3 623.6,152.2 623.6,152.0 623.8,153.1 623.8,153.1 624.0,154.3 624.0,154.3 624.0,154.4 624.2,154.1 624.2,154.1 624.4,153.8 624.4,153.8 624.5,153.7 624.7,153.6 624.7,153.6 624.9,153.7 625.1,153.6 625.1,153.5 625.3,152.4 625.4,151.2 625.5,151.1 625.6,152.9 625.7,153.9 625.8,154.2 626.0,154.3 626.1,154.3 626.2,153.8 626.3,153.1 626.4,152.9 626.4,152.6 626.5,153.0 626.6,153.2 626.7,153.8 626.8,154.0 626.8,154.2 626.9,153.9 626.9,153.8 627.1,153.4 627.1,153.3 627.1,153.2 627.3,153.7 627.3,153.9 627.5,154.5 627.5,154.7 627.6,154.4 627.8,153.9 627.9,153.8 628.0,153.2 628.2,152.3 628.2,152.3 628.4,152.7 628.6,152.9 628.6,153.0 628.8,153.9 628.9,154.4 628.9,154.3 629.1,153.8 629.3,153.4 629.3,153.5 629.5,153.6 629.6,153.6 629.7,153.8 629.9,154.1 629.9,154.3 630.1,154.1 630.3,153.6 630.6,154.4 631.0,154.3 631.4,153.9 631.7,155.3 632.1,154.0 632.4,154.4 632.8,154.7 633.0,154.3 633.1,154.1 633.1,154.0 633.3,153.6 633.4,153.3 633.5,153.5 633.7,153.9 633.8,154.0 633.9,153.7 634.1,153.1 634.1,152.8 634.3,153.3 634.5,153.7 634.5,153.6 634.7,151.9 634.8,149.4 634.8,149.4 634.9,149.5 635.0,150.8 635.1,151.5 635.2,151.9 635.2,152.0 635.3,152.5 635.4,153.0 635.5,153.2 635.6,153.4 635.6,153.4 635.7,153.3 635.8,153.2 635.9,153.1 635.9,153.0 636.0,153.2 636.0,153.4 636.2,153.7 636.2,153.9 636.3,154.0 636.3,153.5 636.4,153.0 636.5,151.5 636.6,149.8 636.6,149.8 636.7,147.3 636.8,146.6 636.9,149.6 637.0,150.3 637.2,152.7 637.3,153.0 637.4,153.2 637.5,153.6 637.6,153.8 637.7,153.6 637.9,153.2 638.0,153.0 638.1,153.4 638.3,154.1 638.3,154.2 638.5,154.3 638.7,154.4 638.7,154.4 639.1,154.7 639.4,153.1 639.8,154.3 640.1,154.5 640.4,154.4 640.8,154.2 641.1,154.6 641.5,154.1 641.8,154.3 642.2,154.2 642.6,154.5 642.9,153.9 643.3,154.2 643.6,153.9 644.0,153.8 644.3,153.7 644.3,153.7 644.4,154.3 644.6,155.0 644.6,155.1 644.8,154.6 645.0,154.2 645.0,154.2 645.2,154.3 645.3,154.3 645.4,154.2 645.6,153.6 645.7,153.2 645.8,153.4 646.0,153.3 646.1,153.0 646.2,152.2 646.4,153.1 646.4,153.4 646.6,153.9 646.7,154.0 646.8,154.0 646.9,154.1 647.1,154.1 647.1,154.0 647.3,153.6 647.5,153.3 647.5,153.4 647.7,153.9 647.8,154.2 647.9,153.9 648.1,153.5 648.1,153.3 648.5,154.7 648.8,154.9 649.2,153.1 649.6,153.7 649.9,153.6 650.3,153.9 650.6,153.6 651.0,154.6 651.3,153.3 651.6,154.2 652.0,153.3 652.3,153.9 652.7,155.0 653.0,154.6 653.4,153.2 653.8,154.0 654.1,154.2 654.5,153.8 654.8,154.2 655.1,154.3 655.5,153.9 655.8,153.9 655.9,153.6 656.1,153.1 656.2,152.9 656.3,153.3 656.5,153.8 656.5,153.9 656.7,153.3 656.9,152.6 656.9,152.6 657.1,152.6 657.3,152.6 657.3,152.6 657.5,152.3 657.6,151.8 657.7,151.1 657.9,149.6 658.0,150.0 658.1,151.8 658.3,153.4 658.3,153.5 658.5,153.7 658.7,153.8 658.7,153.8 658.9,153.9 659.0,154.0 659.1,154.1 659.3,154.3 659.3,154.4 659.4,154.3 659.6,154.1 659.7,154.0 659.8,154.1 660.0,154.3 660.4,152.9 660.8,153.6 661.1,154.2 661.5,155.0 661.8,154.0 662.2,154.2 662.5,154.6 662.8,154.6 663.2,155.2 663.5,153.6 663.9,154.0 664.1,152.9 664.3,152.2 664.3,152.6 664.5,153.6 664.6,154.0 664.7,154.0 664.9,154.1 665.0,154.1 665.1,153.6 665.3,152.9 665.3,152.9 665.5,153.4 665.7,153.6 665.7,153.5 665.9,152.3 666.0,151.1 666.1,150.7 666.3,152.6 666.3,153.1 666.5,153.9 666.7,154.2 666.7,154.2 666.9,153.6 667.0,152.9 667.1,153.0 667.3,153.2 667.4,153.3 667.5,153.2 667.7,153.0 667.7,152.8 667.9,153.3 668.1,154.1 668.1,154.2 668.5,154.0 668.8,154.5 669.2,153.4 669.5,154.8 669.8,153.7 670.2,153.3 670.5,153.1 670.9,154.5 671.2,153.3 671.5,154.1 671.6,154.4 671.7,154.4 671.9,154.4 672.0,154.4 672.1,154.6 672.3,154.7 672.3,154.7 672.5,153.8 672.7,153.3 672.7,153.2 672.9,153.0 673.0,152.9 673.1,153.3 673.3,153.8 673.3,153.8 673.5,153.5 673.7,154.0 673.7,154.0 673.9,154.2 674.0,154.2 674.1,153.8 674.3,152.8 674.4,152.3 674.5,152.7 674.7,153.3 674.7,153.4 674.9,153.8 675.1,154.3 675.1,154.4 675.3,154.7 675.5,155.0 675.5,154.9 675.8,154.4 676.2,153.3 676.5,152.8 676.9,154.2 677.2,154.4 677.5,154.3 677.9,155.0 678.2,153.5 678.6,154.6 679.0,153.4 679.3,155.0 679.7,154.7 680.0,153.9 680.4,154.5 680.7,153.6 681.0,154.1 681.4,154.7 681.7,153.7 682.1,153.5 682.4,155.1" fill="none" stroke="#ff1a1a" stroke-width="1.15" stroke-opacity="1.0" stroke-linejoin="round"/>
<polyline points="415.1,155.9 415.2,155.6 415.3,155.5 415.4,155.7 415.5,156.0" fill="none" stroke="#3434e4" stroke-width="1.0" stroke-opacity="1" stroke-linejoin="round"/>
<polyline points="418.4,156.0 418.5,155.5 418.6,154.7 418.7,153.7 418.8,153.1 418.9,153.2 419.0,154.0 419.1,155.0 419.2,155.6 419.3,156.1" fill="none" stroke="#3434e4" stroke-width="1.0" stroke-opacity="1" stroke-linejoin="round"/>
<polyline points="423.6,155.9 423.7,155.5 423.8,155.0 423.9,154.7 424.0,154.9 424.1,155.3 424.2,155.8" fill="none" stroke="#3434e4" stroke-width="1.0" stroke-opacity="1" stroke-linejoin="round"/>
<polyline points="450.5,154.8 450.6,154.5 450.7,153.9 450.8,152.7 450.9,150.5 451.0,147.5 451.1,144.2 451.2,142.7 451.3,144.4 451.4,147.6 451.5,150.6 451.6,152.7 451.7,153.9 451.8,154.4 451.9,154.7" fill="none" stroke="#3434e4" stroke-width="1.0" stroke-opacity="1" stroke-linejoin="round"/>
<polyline points="455.2,154.6 455.3,154.3 455.4,153.6 455.5,152.3 455.6,150.2 455.7,147.4 455.8,144.8 455.9,144.2 456.0,146.1 456.1,149.0 456.2,151.5 456.4,153.1 456.5,154.0 456.6,154.5" fill="none" stroke="#3434e4" stroke-width="1.0" stroke-opacity="1" stroke-linejoin="round"/>
<polyline points="461.1,154.0 461.2,153.3 461.3,152.3 461.4,151.0 461.5,149.7 461.6,149.3 461.7,150.1 461.8,151.5 461.9,152.7 462.0,153.5 462.1,153.9" fill="none" stroke="#3434e4" stroke-width="1.0" stroke-opacity="1" stroke-linejoin="round"/>
<polyline points="463.6,153.5 463.7,152.9 463.8,151.9 463.9,150.7 464.0,149.6 464.1,149.3 464.3,150.2 464.4,151.4 464.5,152.5 464.6,153.2 464.7,153.6" fill="none" stroke="#3434e4" stroke-width="1.0" stroke-opacity="1" stroke-linejoin="round"/>
<polyline points="472.6,152.9 472.7,152.8 472.8,152.7 472.9,152.5 473.0,152.3 473.1,152.1 473.2,151.8 473.3,151.5 473.4,151.0 473.5,150.5 473.6,149.7 473.7,148.5 473.8,146.6 473.9,143.1 474.0,136.4 474.1,124.6 474.2,106.4 474.3,83.8 474.4,64.5 474.5,61.5 474.6,77.4 474.7,100.2 474.8,120.0 474.9,133.5 475.0,141.5 475.1,145.7 475.2,147.9 475.3,149.2 475.4,150.0 475.5,150.6 475.6,151.1 475.7,151.4 475.8,151.7 475.9,151.9 476.0,152.1 476.1,152.2 476.2,152.3 476.3,152.4 476.4,152.5 476.5,152.5" fill="none" stroke="#3434e4" stroke-width="1.0" stroke-opacity="1" stroke-linejoin="round"/>
<polyline points="477.3,152.5 477.4,152.4 477.5,152.2 477.6,151.9 477.7,151.3 477.8,150.1 477.9,148.1 478.0,145.4 478.1,142.5 478.2,141.0 478.3,142.0 478.4,144.7 478.5,147.5 478.6,149.7 478.7,151.1 478.8,151.8 478.9,152.4" fill="none" stroke="#3434e4" stroke-width="1.0" stroke-opacity="1" stroke-linejoin="round"/>
<polyline points="484.3,152.2 484.4,152.0 484.5,151.6 484.6,150.9 484.7,149.6 484.8,147.2 484.9,143.4 485.0,138.4 485.1,133.3 485.2,130.9 485.3,133.3 485.4,138.4 485.5,143.5 485.6,147.2 485.7,149.6 485.8,150.9 485.9,151.6 486.0,152.0 486.1,152.2" fill="none" stroke="#3434e4" stroke-width="1.0" stroke-opacity="1" stroke-linejoin="round"/>
<polyline points="500.7,152.9 500.8,152.4 500.9,151.7 501.0,150.8 501.1,149.9 501.2,149.5 501.3,149.9 501.4,150.8 501.5,151.7 501.6,152.4 501.7,152.9" fill="none" stroke="#3434e4" stroke-width="1.0" stroke-opacity="1" stroke-linejoin="round"/>
<polyline points="507.8,153.1 507.9,152.7 508.0,152.2 508.1,151.5 508.2,150.9 508.3,150.7 508.4,151.1 508.5,151.7 508.6,152.3 508.7,152.8" fill="none" stroke="#3434e4" stroke-width="1.0" stroke-opacity="1" stroke-linejoin="round"/>
<polyline points="511.8,153.0 511.9,152.7 512.0,152.2 512.1,151.3 512.2,149.9 512.3,148.1 512.4,146.3 512.5,145.4 512.6,145.9 512.8,147.6 512.9,149.5 513.0,151.0 513.1,152.0 513.2,152.6 513.3,153.0" fill="none" stroke="#3434e4" stroke-width="1.0" stroke-opacity="1" stroke-linejoin="round"/>
<polyline points="515.7,153.0 515.8,152.5 515.9,151.8 516.0,150.8 516.1,149.6 516.2,148.7 516.3,148.5 516.4,149.3 516.5,150.4 516.6,151.5 516.7,152.3 516.8,152.9" fill="none" stroke="#3434e4" stroke-width="1.0" stroke-opacity="1" stroke-linejoin="round"/>
<polyline points="523.5,153.1 523.6,152.8 523.7,152.3 523.8,151.5 523.9,150.1 524.0,148.2 524.1,145.8 524.2,143.8 524.3,143.1 524.4,144.3 524.5,146.6 524.6,148.8 524.7,150.6 524.8,151.8 524.9,152.5 525.0,152.9" fill="none" stroke="#3434e4" stroke-width="1.0" stroke-opacity="1" stroke-linejoin="round"/>
<polyline points="527.1,153.0 527.2,152.7 527.3,152.5 527.4,152.5 527.5,152.7 527.7,152.9" fill="none" stroke="#3434e4" stroke-width="1.0" stroke-opacity="1" stroke-linejoin="round"/>
<polyline points="529.8,153.1 529.9,152.8 530.0,152.3 530.1,151.4 530.2,150.1 530.3,148.3 530.4,146.6 530.5,145.4 530.6,145.7 530.7,147.2 530.8,149.0 530.9,150.6 531.0,151.7 531.1,152.5 531.2,152.9" fill="none" stroke="#3434e4" stroke-width="1.0" stroke-opacity="1" stroke-linejoin="round"/>
<polyline points="534.9,152.9 535.0,152.6 535.1,151.9 535.2,150.8 535.3,149.3 535.4,147.3 535.5,145.3 535.6,144.1 535.7,144.5 535.8,146.2 535.9,148.3 536.0,150.1 536.1,151.4 536.2,152.3 536.3,152.8 536.4,153.0" fill="none" stroke="#3434e4" stroke-width="1.0" stroke-opacity="1" stroke-linejoin="round"/>
<polyline points="541.1,153.0 541.2,152.7 541.3,152.4 541.4,152.0 541.5,151.9 541.6,152.1 541.7,152.4 541.8,152.8" fill="none" stroke="#3434e4" stroke-width="1.0" stroke-opacity="1" stroke-linejoin="round"/>
<polyline points="544.7,152.8 544.8,152.3 544.9,151.6 545.0,150.5 545.1,149.2 545.2,147.9 545.3,147.1 545.4,147.3 545.5,148.3 545.6,149.7 545.8,150.9 545.9,151.9 546.0,152.5 546.1,152.8" fill="none" stroke="#3434e4" stroke-width="1.0" stroke-opacity="1" stroke-linejoin="round"/>
<polyline points="548.3,152.8 548.4,152.4 548.5,151.8 548.6,150.9 548.7,150.0 548.8,149.1 548.9,148.8 549.0,149.3 549.1,150.2 549.2,151.1 549.3,151.9 549.4,152.5 549.5,152.8" fill="none" stroke="#3434e4" stroke-width="1.0" stroke-opacity="1" stroke-linejoin="round"/>
<polyline points="553.9,152.6 554.0,152.2 554.1,151.6 554.2,151.0 554.3,150.5 554.4,150.4 554.5,150.8 554.6,151.4 554.7,152.0 554.8,152.5 554.9,152.8" fill="none" stroke="#3434e4" stroke-width="1.0" stroke-opacity="1" stroke-linejoin="round"/>
<polyline points="559.4,152.6 559.5,152.1 559.6,151.6 559.7,151.0 559.8,150.6 559.9,150.6 560.0,151.0 560.1,151.6 560.2,152.2 560.3,152.6" fill="none" stroke="#3434e4" stroke-width="1.0" stroke-opacity="1" stroke-linejoin="round"/>
<polyline points="565.1,152.5 565.2,152.3 565.3,152.0 565.4,151.4 565.5,150.4 565.6,148.8 565.7,146.4 565.8,143.2 565.9,139.6 566.0,136.4 566.1,135.1 566.2,136.6 566.3,139.9 566.4,143.5 566.5,146.6 566.6,148.9 566.7,150.4 566.8,151.3 566.9,151.8 567.0,152.1 567.1,152.3 567.2,152.3 567.3,152.3 567.4,152.1 567.5,151.8 567.6,151.2 567.7,150.4 567.8,149.4 567.9,148.5 568.0,148.1 568.1,148.3 568.2,149.2 568.3,150.2 568.4,151.2 568.5,151.9 568.6,152.3 568.7,152.6" fill="none" stroke="#3434e4" stroke-width="1.0" stroke-opacity="1" stroke-linejoin="round"/>
<polyline points="569.7,152.7 569.8,152.4 570.0,151.9 570.1,151.3 570.2,150.6 570.3,149.8 570.4,149.5 570.5,149.6 570.6,150.3 570.7,151.0 570.8,151.7 570.9,152.3 571.0,152.7" fill="none" stroke="#3434e4" stroke-width="1.0" stroke-opacity="1" stroke-linejoin="round"/>
<polyline points="584.0,152.5 584.1,152.1 584.2,151.6 584.3,151.1 584.4,150.8 584.5,150.8 584.6,151.1 584.7,151.6 584.8,152.1 584.9,152.5" fill="none" stroke="#3434e4" stroke-width="1.0" stroke-opacity="1" stroke-linejoin="round"/>
<polyline points="603.6,152.8 603.7,152.5 603.8,151.9 603.9,150.9 604.0,149.7 604.1,148.0 604.2,146.3 604.3,145.0 604.4,144.5 604.5,145.3 604.6,146.9 604.7,148.6 604.8,150.1 604.9,151.3 605.0,152.1 605.1,152.6 605.2,152.9" fill="none" stroke="#3434e4" stroke-width="1.0" stroke-opacity="1" stroke-linejoin="round"/>
<polyline points="610.9,152.9 611.0,152.6 611.1,152.1 611.2,151.6 611.3,151.3 611.4,151.2 611.5,151.5 611.6,151.9 611.7,152.4 611.8,152.8 611.9,153.1" fill="none" stroke="#3434e4" stroke-width="1.0" stroke-opacity="1" stroke-linejoin="round"/>
<polyline points="619.1,153.0 619.2,152.7 619.3,152.2 619.4,151.8 619.5,151.4 619.6,151.3 619.7,151.5 619.8,151.8 619.9,152.3 620.0,152.7 620.1,153.0" fill="none" stroke="#3434e4" stroke-width="1.0" stroke-opacity="1" stroke-linejoin="round"/>
<polyline points="621.6,153.1 621.7,152.8 621.8,152.4 621.9,151.8 622.1,151.1 622.2,150.4 622.3,149.8 622.4,149.6 622.5,150.0 622.6,150.6 622.7,151.4 622.8,152.1 622.9,152.6 623.0,153.0" fill="none" stroke="#3434e4" stroke-width="1.0" stroke-opacity="1" stroke-linejoin="round"/>
<polyline points="624.8,153.2 624.9,152.9 625.0,152.5 625.1,151.9 625.2,151.2 625.3,150.6 625.4,150.2 625.5,150.1 625.6,150.5 625.7,151.2 625.8,151.8 625.9,152.4 626.0,152.9 626.1,153.2" fill="none" stroke="#3434e4" stroke-width="1.0" stroke-opacity="1" stroke-linejoin="round"/>
<polyline points="627.8,153.1 627.9,152.9 628.0,152.6 628.2,152.5 628.3,152.5 628.4,152.7 628.5,152.9 628.6,153.2" fill="none" stroke="#3434e4" stroke-width="1.0" stroke-opacity="1" stroke-linejoin="round"/>
<polyline points="634.0,153.1 634.2,152.8 634.3,152.3 634.4,151.7 634.5,150.8 634.6,149.7 634.7,148.6 634.8,147.7 634.9,147.5 635.0,148.0 635.1,149.0 635.2,150.1 635.3,151.1 635.4,151.9 635.5,152.4 635.6,152.7 635.7,152.9 635.8,153.0 635.9,153.0 636.0,152.8 636.1,152.5 636.2,152.1 636.3,151.4 636.4,150.4 636.5,149.2 636.6,147.9 636.7,146.8 636.8,146.4 636.9,146.9 637.0,148.0 637.1,149.3 637.2,150.6 637.3,151.5 637.4,152.3 637.5,152.8 637.6,153.1" fill="none" stroke="#3434e4" stroke-width="1.0" stroke-opacity="1" stroke-linejoin="round"/>
<polyline points="645.6,153.2 645.7,152.8 645.8,152.4 645.9,151.9 646.0,151.4 646.1,151.1 646.2,151.1 646.3,151.4 646.4,151.9 646.5,152.4 646.6,152.8 646.7,153.2" fill="none" stroke="#3434e4" stroke-width="1.0" stroke-opacity="1" stroke-linejoin="round"/>
<polyline points="657.3,153.1 657.4,152.7 657.5,152.2 657.6,151.6 657.7,151.0 657.8,150.5 657.9,150.3 658.0,150.5 658.1,151.0 658.2,151.6 658.3,152.2 658.4,152.8 658.5,153.1" fill="none" stroke="#3434e4" stroke-width="1.0" stroke-opacity="1" stroke-linejoin="round"/>
<polyline points="665.4,153.3 665.5,153.1 665.6,152.6 665.7,152.1 665.8,151.5 665.9,150.9 666.0,150.4 666.1,150.3 666.2,150.5 666.3,151.1 666.4,151.7 666.5,152.3 666.6,152.8 666.7,153.2" fill="none" stroke="#3434e4" stroke-width="1.0" stroke-opacity="1" stroke-linejoin="round"/>
<polyline points="673.1,153.2 673.2,153.0 673.3,152.7 673.4,152.6 673.5,152.5 673.6,152.7 673.7,152.9 673.9,153.1" fill="none" stroke="#3434e4" stroke-width="1.0" stroke-opacity="1" stroke-linejoin="round"/>
<polyline points="488.3,152.5 488.5,152.4 488.6,152.3 488.7,152.2 488.8,152.1 489.0,151.9 489.1,151.8 489.2,151.5 489.4,151.2 489.5,150.9 489.6,150.4 489.7,149.8 489.9,148.9 490.0,147.6 490.1,145.6 490.2,141.9 490.4,133.6 490.5,114.3 490.6,78.0 490.8,29.7 490.9,13.0 491.0,29.7 491.1,78.0 491.3,114.4 491.4,133.6 491.5,142.0 491.6,145.7 491.8,147.7 491.9,149.0 492.0,149.9 492.1,150.5 492.3,151.0 492.4,151.4 492.5,151.7 492.7,151.9 492.8,152.1 492.9,152.3 493.0,152.4 493.2,152.5 493.3,152.6 493.4,152.7" fill="none" stroke="#5a8ab8" stroke-width="1.2" stroke-opacity="1" stroke-linejoin="round"/>
<line x1="443.50" y1="158.5" x2="443.50" y2="156.06" stroke="#d0e0f4" stroke-width="1.5"/>
<line x1="452.55" y1="158.5" x2="452.55" y2="155.93" stroke="#c8c8c8" stroke-width="1.8"/>
<line x1="454.97" y1="158.5" x2="454.97" y2="155.71" stroke="#c8c8c8" stroke-width="1.5"/>
<line x1="455.15" y1="158.5" x2="455.15" y2="155.45" stroke="#c8c8c8" stroke-width="1.2"/>
<line x1="455.58" y1="158.5" x2="455.58" y2="155.36" stroke="#c8c8c8" stroke-width="1.2"/>
<line x1="456.96" y1="158.5" x2="456.96" y2="155.81" stroke="#c8c8c8" stroke-width="1.5"/>
<line x1="462.30" y1="158.5" x2="462.30" y2="154.69" stroke="#c8c8c8" stroke-width="1.8"/>
<line x1="463.40" y1="158.5" x2="463.40" y2="154.91" stroke="#b0b0b0" stroke-width="1.2"/>
<line x1="464.38" y1="158.5" x2="464.38" y2="154.97" stroke="#b0b0b0" stroke-width="1.0"/>
<line x1="465.81" y1="158.5" x2="465.81" y2="154.74" stroke="#c8c8c8" stroke-width="1.5"/>
<line x1="465.95" y1="158.5" x2="465.95" y2="154.57" stroke="#d0e0f4" stroke-width="1.0"/>
<line x1="467.55" y1="158.5" x2="467.55" y2="154.11" stroke="#60d060" stroke-width="1.5"/>
<line x1="468.36" y1="158.5" x2="468.36" y2="154.46" stroke="#60d060" stroke-width="1.0"/>
<line x1="468.90" y1="158.5" x2="468.90" y2="154.46" stroke="#b0b0b0" stroke-width="1.8"/>
<line x1="469.26" y1="158.5" x2="469.26" y2="154.82" stroke="#b0b0b0" stroke-width="1.5"/>
<line x1="471.29" y1="158.5" x2="471.29" y2="154.45" stroke="#c8c8c8" stroke-width="1.2"/>
<line x1="472.33" y1="158.5" x2="472.33" y2="153.87" stroke="#c8c8c8" stroke-width="1.5"/>
<line x1="473.18" y1="158.5" x2="473.18" y2="154.57" stroke="#60d060" stroke-width="1.2"/>
<line x1="473.63" y1="158.5" x2="473.63" y2="154.29" stroke="#c8c8c8" stroke-width="1.8"/>
<line x1="474.54" y1="158.5" x2="474.54" y2="154.33" stroke="#d0e0f4" stroke-width="1.2"/>
<line x1="476.70" y1="158.5" x2="476.70" y2="153.66" stroke="#c8c8c8" stroke-width="1.8"/>
<line x1="480.89" y1="158.5" x2="480.89" y2="153.24" stroke="#b0b0b0" stroke-width="1.5"/>
<line x1="485.51" y1="158.5" x2="485.51" y2="153.11" stroke="#b0b0b0" stroke-width="1.8"/>
<line x1="489.01" y1="158.5" x2="489.01" y2="153.71" stroke="#d0e0f4" stroke-width="1.0"/>
<line x1="489.55" y1="158.5" x2="489.55" y2="154.03" stroke="#c8c8c8" stroke-width="1.0"/>
<line x1="489.60" y1="158.5" x2="489.60" y2="153.92" stroke="#c8c8c8" stroke-width="1.0"/>
<line x1="491.19" y1="158.5" x2="491.19" y2="154.08" stroke="#c8c8c8" stroke-width="1.2"/>
<line x1="491.69" y1="158.5" x2="491.69" y2="154.26" stroke="#d0e0f4" stroke-width="1.8"/>
<line x1="493.81" y1="158.5" x2="493.81" y2="153.61" stroke="#b0b0e0" stroke-width="1.2"/>
<line x1="493.98" y1="158.5" x2="493.98" y2="153.50" stroke="#d0e0f4" stroke-width="1.8"/>
<line x1="494.11" y1="158.5" x2="494.11" y2="153.91" stroke="#c8c8c8" stroke-width="1.5"/>
<line x1="499.96" y1="158.5" x2="499.96" y2="154.11" stroke="#60d060" stroke-width="1.2"/>
<line x1="500.84" y1="158.5" x2="500.84" y2="154.02" stroke="#d0e0f4" stroke-width="1.2"/>
<line x1="501.54" y1="158.5" x2="501.54" y2="154.20" stroke="#d0e0f4" stroke-width="1.8"/>
<line x1="502.27" y1="158.5" x2="502.27" y2="153.71" stroke="#d0e0f4" stroke-width="1.5"/>
<line x1="504.42" y1="158.5" x2="504.42" y2="154.47" stroke="#b0b0b0" stroke-width="1.2"/>
<line x1="505.97" y1="158.5" x2="505.97" y2="153.99" stroke="#c8c8c8" stroke-width="1.2"/>
<line x1="510.66" y1="158.5" x2="510.66" y2="154.35" stroke="#c8c8c8" stroke-width="1.8"/>
<line x1="511.34" y1="158.5" x2="511.34" y2="153.64" stroke="#d0e0f4" stroke-width="1.0"/>
<line x1="512.39" y1="158.5" x2="512.39" y2="154.54" stroke="#c8c8c8" stroke-width="1.8"/>
<line x1="516.06" y1="158.5" x2="516.06" y2="154.05" stroke="#c8c8c8" stroke-width="1.0"/>
<line x1="517.00" y1="158.5" x2="517.00" y2="154.38" stroke="#d0e0f4" stroke-width="1.8"/>
<line x1="517.84" y1="158.5" x2="517.84" y2="154.30" stroke="#d0e0f4" stroke-width="1.0"/>
<line x1="518.72" y1="158.5" x2="518.72" y2="153.72" stroke="#60d060" stroke-width="1.2"/>
<line x1="522.53" y1="158.5" x2="522.53" y2="154.42" stroke="#b0b0b0" stroke-width="1.2"/>
<line x1="524.66" y1="158.5" x2="524.66" y2="154.20" stroke="#d0e0f4" stroke-width="1.5"/>
<line x1="525.91" y1="158.5" x2="525.91" y2="154.64" stroke="#d0e0f4" stroke-width="1.0"/>
<line x1="525.94" y1="158.5" x2="525.94" y2="154.60" stroke="#60d060" stroke-width="1.8"/>
<line x1="526.92" y1="158.5" x2="526.92" y2="153.98" stroke="#60d060" stroke-width="1.8"/>
<line x1="527.65" y1="158.5" x2="527.65" y2="154.50" stroke="#60d060" stroke-width="1.2"/>
<line x1="527.77" y1="158.5" x2="527.77" y2="153.76" stroke="#c8c8c8" stroke-width="1.0"/>
<line x1="528.59" y1="158.5" x2="528.59" y2="154.25" stroke="#d0e0f4" stroke-width="1.5"/>
<line x1="531.12" y1="158.5" x2="531.12" y2="154.38" stroke="#d0e0f4" stroke-width="1.2"/>
<line x1="532.47" y1="158.5" x2="532.47" y2="154.15" stroke="#c8c8c8" stroke-width="1.8"/>
<line x1="533.51" y1="158.5" x2="533.51" y2="153.87" stroke="#c8c8c8" stroke-width="1.5"/>
<line x1="533.56" y1="158.5" x2="533.56" y2="154.08" stroke="#b0b0b0" stroke-width="1.0"/>
<line x1="534.60" y1="158.5" x2="534.60" y2="153.89" stroke="#d0e0f4" stroke-width="1.5"/>
<line x1="534.77" y1="158.5" x2="534.77" y2="154.53" stroke="#60d060" stroke-width="1.0"/>
<line x1="535.90" y1="158.5" x2="535.90" y2="154.18" stroke="#60d060" stroke-width="1.5"/>
<line x1="539.86" y1="158.5" x2="539.86" y2="153.93" stroke="#c8c8c8" stroke-width="1.8"/>
<line x1="540.46" y1="158.5" x2="540.46" y2="154.33" stroke="#d0e0f4" stroke-width="1.0"/>
<line x1="544.95" y1="158.5" x2="544.95" y2="153.89" stroke="#d0e0f4" stroke-width="1.5"/>
<line x1="545.01" y1="158.5" x2="545.01" y2="154.23" stroke="#d0e0f4" stroke-width="1.0"/>
<line x1="546.08" y1="158.5" x2="546.08" y2="153.75" stroke="#c8c8c8" stroke-width="1.0"/>
<line x1="548.20" y1="158.5" x2="548.20" y2="153.82" stroke="#c8c8c8" stroke-width="1.0"/>
<line x1="552.66" y1="158.5" x2="552.66" y2="154.32" stroke="#b0b0e0" stroke-width="1.5"/>
<line x1="559.12" y1="158.5" x2="559.12" y2="154.10" stroke="#d0e0f4" stroke-width="1.0"/>
<line x1="559.42" y1="158.5" x2="559.42" y2="153.43" stroke="#d0e0f4" stroke-width="1.2"/>
<line x1="559.67" y1="158.5" x2="559.67" y2="154.19" stroke="#b0b0e0" stroke-width="1.8"/>
<line x1="561.42" y1="158.5" x2="561.42" y2="154.35" stroke="#60d060" stroke-width="1.8"/>
<line x1="561.51" y1="158.5" x2="561.51" y2="154.19" stroke="#60d060" stroke-width="1.2"/>
<line x1="563.15" y1="158.5" x2="563.15" y2="153.50" stroke="#c8c8c8" stroke-width="1.0"/>
<line x1="564.31" y1="158.5" x2="564.31" y2="153.83" stroke="#c8c8c8" stroke-width="1.8"/>
<line x1="566.66" y1="158.5" x2="566.66" y2="153.96" stroke="#d0e0f4" stroke-width="1.0"/>
<line x1="567.18" y1="158.5" x2="567.18" y2="154.23" stroke="#c8c8c8" stroke-width="1.5"/>
<line x1="567.39" y1="158.5" x2="567.39" y2="153.42" stroke="#d0e0f4" stroke-width="1.0"/>
<line x1="571.65" y1="158.5" x2="571.65" y2="153.39" stroke="#c8c8c8" stroke-width="1.2"/>
<line x1="577.76" y1="158.5" x2="577.76" y2="154.22" stroke="#c8c8c8" stroke-width="1.8"/>
<line x1="577.93" y1="158.5" x2="577.93" y2="153.81" stroke="#d0e0f4" stroke-width="1.5"/>
<line x1="579.11" y1="158.5" x2="579.11" y2="153.71" stroke="#d0e0f4" stroke-width="1.8"/>
<line x1="580.32" y1="158.5" x2="580.32" y2="153.84" stroke="#d0e0f4" stroke-width="1.8"/>
<line x1="583.12" y1="158.5" x2="583.12" y2="153.52" stroke="#c8c8c8" stroke-width="1.5"/>
<line x1="587.33" y1="158.5" x2="587.33" y2="154.10" stroke="#b0b0e0" stroke-width="1.2"/>
<line x1="587.93" y1="158.5" x2="587.93" y2="154.16" stroke="#c8c8c8" stroke-width="1.0"/>
<line x1="588.75" y1="158.5" x2="588.75" y2="154.18" stroke="#c8c8c8" stroke-width="1.0"/>
<line x1="589.02" y1="158.5" x2="589.02" y2="153.52" stroke="#c8c8c8" stroke-width="1.5"/>
<line x1="590.19" y1="158.5" x2="590.19" y2="154.23" stroke="#d0e0f4" stroke-width="1.8"/>
<line x1="590.80" y1="158.5" x2="590.80" y2="153.74" stroke="#b0b0b0" stroke-width="1.5"/>
<line x1="591.75" y1="158.5" x2="591.75" y2="153.99" stroke="#b0b0b0" stroke-width="1.5"/>
<line x1="593.15" y1="158.5" x2="593.15" y2="153.80" stroke="#b0b0e0" stroke-width="1.5"/>
<line x1="596.25" y1="158.5" x2="596.25" y2="154.18" stroke="#d0e0f4" stroke-width="1.5"/>
<line x1="596.74" y1="158.5" x2="596.74" y2="153.89" stroke="#c8c8c8" stroke-width="1.2"/>
<line x1="598.80" y1="158.5" x2="598.80" y2="153.82" stroke="#d0e0f4" stroke-width="1.2"/>
<line x1="599.32" y1="158.5" x2="599.32" y2="154.09" stroke="#d0e0f4" stroke-width="1.8"/>
<line x1="599.95" y1="158.5" x2="599.95" y2="153.61" stroke="#c8c8c8" stroke-width="1.8"/>
<line x1="608.10" y1="158.5" x2="608.10" y2="154.50" stroke="#c8c8c8" stroke-width="1.8"/>
<line x1="609.35" y1="158.5" x2="609.35" y2="153.85" stroke="#b0b0b0" stroke-width="1.0"/>
<line x1="609.77" y1="158.5" x2="609.77" y2="154.21" stroke="#d0e0f4" stroke-width="1.0"/>
<line x1="610.49" y1="158.5" x2="610.49" y2="154.52" stroke="#c8c8c8" stroke-width="1.8"/>
<line x1="613.85" y1="158.5" x2="613.85" y2="153.92" stroke="#d0e0f4" stroke-width="1.8"/>
<line x1="615.79" y1="158.5" x2="615.79" y2="154.58" stroke="#d0e0f4" stroke-width="1.5"/>
<line x1="616.89" y1="158.5" x2="616.89" y2="154.20" stroke="#d0e0f4" stroke-width="1.0"/>
<line x1="618.26" y1="158.5" x2="618.26" y2="154.32" stroke="#c8c8c8" stroke-width="1.0"/>
<line x1="618.99" y1="158.5" x2="618.99" y2="154.62" stroke="#b0b0b0" stroke-width="1.0"/>
<line x1="619.35" y1="158.5" x2="619.35" y2="154.36" stroke="#d0e0f4" stroke-width="1.0"/>
<line x1="619.40" y1="158.5" x2="619.40" y2="153.79" stroke="#b0b0e0" stroke-width="1.8"/>
<line x1="621.49" y1="158.5" x2="621.49" y2="153.88" stroke="#b0b0e0" stroke-width="1.2"/>
<line x1="622.40" y1="158.5" x2="622.40" y2="154.12" stroke="#60d060" stroke-width="1.8"/>
<line x1="622.80" y1="158.5" x2="622.80" y2="153.85" stroke="#c8c8c8" stroke-width="1.5"/>
<line x1="624.05" y1="158.5" x2="624.05" y2="153.92" stroke="#c8c8c8" stroke-width="1.0"/>
<line x1="624.93" y1="158.5" x2="624.93" y2="154.32" stroke="#d0e0f4" stroke-width="1.8"/>
<line x1="627.73" y1="158.5" x2="627.73" y2="154.26" stroke="#c8c8c8" stroke-width="1.2"/>
<line x1="628.50" y1="158.5" x2="628.50" y2="154.13" stroke="#b0b0b0" stroke-width="1.5"/>
<line x1="629.39" y1="158.5" x2="629.39" y2="154.13" stroke="#c8c8c8" stroke-width="1.0"/>
<line x1="629.49" y1="158.5" x2="629.49" y2="153.82" stroke="#b0b0e0" stroke-width="1.0"/>
<line x1="632.46" y1="158.5" x2="632.46" y2="154.29" stroke="#d0e0f4" stroke-width="1.8"/>
<line x1="634.02" y1="158.5" x2="634.02" y2="154.00" stroke="#c8c8c8" stroke-width="1.5"/>
<line x1="635.63" y1="158.5" x2="635.63" y2="154.53" stroke="#b0b0b0" stroke-width="1.5"/>
<line x1="635.99" y1="158.5" x2="635.99" y2="153.90" stroke="#d0e0f4" stroke-width="1.0"/>
<line x1="637.59" y1="158.5" x2="637.59" y2="153.95" stroke="#c8c8c8" stroke-width="1.2"/>
<line x1="638.92" y1="158.5" x2="638.92" y2="154.59" stroke="#c8c8c8" stroke-width="1.8"/>
<line x1="641.64" y1="158.5" x2="641.64" y2="154.40" stroke="#b0b0b0" stroke-width="1.5"/>
<line x1="647.92" y1="158.5" x2="647.92" y2="153.92" stroke="#60d060" stroke-width="1.2"/>
<line x1="648.28" y1="158.5" x2="648.28" y2="154.45" stroke="#d0e0f4" stroke-width="1.2"/>
<line x1="649.64" y1="158.5" x2="649.64" y2="154.22" stroke="#d0e0f4" stroke-width="1.5"/>
<line x1="650.23" y1="158.5" x2="650.23" y2="154.01" stroke="#b0b0b0" stroke-width="1.2"/>
<line x1="651.16" y1="158.5" x2="651.16" y2="154.38" stroke="#b0b0e0" stroke-width="1.5"/>
<line x1="652.71" y1="158.5" x2="652.71" y2="154.01" stroke="#d0e0f4" stroke-width="1.2"/>
<line x1="653.02" y1="158.5" x2="653.02" y2="153.95" stroke="#c8c8c8" stroke-width="1.0"/>
<line x1="657.14" y1="158.5" x2="657.14" y2="154.43" stroke="#b0b0b0" stroke-width="1.2"/>
<line x1="657.73" y1="158.5" x2="657.73" y2="154.50" stroke="#c8c8c8" stroke-width="1.2"/>
<line x1="658.49" y1="158.5" x2="658.49" y2="154.06" stroke="#60d060" stroke-width="1.0"/>
<line x1="658.91" y1="158.5" x2="658.91" y2="154.45" stroke="#d0e0f4" stroke-width="1.2"/>
<line x1="659.44" y1="158.5" x2="659.44" y2="154.56" stroke="#d0e0f4" stroke-width="1.5"/>
<line x1="661.50" y1="158.5" x2="661.50" y2="154.60" stroke="#c8c8c8" stroke-width="1.8"/>
<line x1="661.79" y1="158.5" x2="661.79" y2="154.58" stroke="#c8c8c8" stroke-width="1.2"/>
<line x1="662.17" y1="158.5" x2="662.17" y2="154.48" stroke="#60d060" stroke-width="1.2"/>
<line x1="662.47" y1="158.5" x2="662.47" y2="154.46" stroke="#b0b0b0" stroke-width="1.8"/>
<line x1="663.90" y1="158.5" x2="663.90" y2="154.54" stroke="#60d060" stroke-width="1.5"/>
<line x1="663.99" y1="158.5" x2="663.99" y2="154.07" stroke="#b0b0b0" stroke-width="1.8"/>
<line x1="664.02" y1="158.5" x2="664.02" y2="154.57" stroke="#c8c8c8" stroke-width="1.8"/>
<line x1="665.82" y1="158.5" x2="665.82" y2="154.48" stroke="#c8c8c8" stroke-width="1.8"/>
<line x1="666.49" y1="158.5" x2="666.49" y2="154.40" stroke="#b0b0b0" stroke-width="1.2"/>
<line x1="666.68" y1="158.5" x2="666.68" y2="154.52" stroke="#d0e0f4" stroke-width="1.2"/>
<line x1="668.05" y1="158.5" x2="668.05" y2="154.52" stroke="#c8c8c8" stroke-width="1.2"/>
<line x1="671.02" y1="158.5" x2="671.02" y2="154.29" stroke="#d0e0f4" stroke-width="1.2"/>
<line x1="674.13" y1="158.5" x2="674.13" y2="154.52" stroke="#d0e0f4" stroke-width="1.0"/>
<line x1="675.49" y1="158.5" x2="675.49" y2="154.66" stroke="#60d060" stroke-width="1.0"/>
<line x1="677.39" y1="158.5" x2="677.39" y2="154.34" stroke="#b0b0b0" stroke-width="1.5"/>
<line x1="678.60" y1="158.5" x2="678.60" y2="154.14" stroke="#d0e0f4" stroke-width="1.5"/>
<line x1="420.21" y1="158.5" x2="420.21" y2="148.83" stroke="#b8d4f0" stroke-width="0.9"/>
<line x1="416.07" y1="158.5" x2="416.07" y2="153.12" stroke="#b8d4f0" stroke-width="0.9"/>
<line x1="441.85" y1="158.5" x2="441.85" y2="150.97" stroke="#b8d4f0" stroke-width="0.9"/>
<line x1="479.16" y1="158.5" x2="479.16" y2="110.14" stroke="#5a5060" stroke-width="1.0"/>
<line x1="484.82" y1="158.5" x2="484.82" y2="123.15" stroke="#c0c8f0" stroke-width="1.0"/>
<line x1="490.57" y1="158.5" x2="490.57" y2="2.68" stroke="#9ee0a0" stroke-width="0.9"/>
<line x1="500.45" y1="158.5" x2="500.45" y2="147.63" stroke="#50d050" stroke-width="1.0"/>
<line x1="507.48" y1="158.5" x2="507.48" y2="144.05" stroke="#50d050" stroke-width="1.0"/>
<line x1="515.69" y1="158.5" x2="515.69" y2="147.63" stroke="#50d050" stroke-width="1.0"/>
<line x1="531.31" y1="158.5" x2="531.31" y2="138.08" stroke="#50d050" stroke-width="1.0"/>
<line x1="541.47" y1="158.5" x2="541.47" y2="151.33" stroke="#50d050" stroke-width="1.0"/>
<line x1="545.96" y1="158.5" x2="545.96" y2="145.24" stroke="#50d050" stroke-width="1.0"/>
<line x1="556.31" y1="158.5" x2="556.31" y2="136.89" stroke="#c0d8f0" stroke-width="1.2"/>
<line x1="508.85" y1="158.5" x2="508.85" y2="144.29" stroke="#c8dcf0" stroke-width="1.0"/>
<line x1="518.03" y1="158.5" x2="518.03" y2="150.74" stroke="#c8dcf0" stroke-width="1.0"/>
<line x1="482.48" y1="158.5" x2="482.48" y2="141.18" stroke="#c8dcf0" stroke-width="1.0"/>
<line x1="497.60" y1="158.5" x2="497.60" y2="149.66" stroke="#c8dcf0" stroke-width="1.0"/>
<line x1="471.15" y1="158.5" x2="471.15" y2="150.74" stroke="#c8dcf0" stroke-width="1.0"/>
<line x1="554.36" y1="158.5" x2="554.36" y2="147.15" stroke="#d0e0f0" stroke-width="1.0"/>
<line x1="567.64" y1="158.5" x2="567.64" y2="135.69" stroke="#50d050" stroke-width="1.0"/>
<line x1="569.99" y1="158.5" x2="569.99" y2="134.50" stroke="#50d050" stroke-width="1.0"/>
<line x1="619.60" y1="158.5" x2="619.60" y2="150.74" stroke="#50d050" stroke-width="1.0"/>
<line x1="636.79" y1="158.5" x2="636.79" y2="153.12" stroke="#3030d0" stroke-width="1.0"/>
<line x1="657.89" y1="158.5" x2="657.89" y2="153.60" stroke="#3030d0" stroke-width="1.0"/>
<line x1="666.09" y1="158.5" x2="666.09" y2="153.60" stroke="#3030d0" stroke-width="1.0"/>
<line x1="673.51" y1="158.5" x2="673.51" y2="153.84" stroke="#3030d0" stroke-width="1.0"/>
<line x1="682.11" y1="158.5" x2="682.11" y2="153.12" stroke="#3030d0" stroke-width="1.0"/>
<polyline points="389.5,157.7 391.5,157.7 393.4,157.7 395.4,157.7 397.3,157.7 399.3,157.7 401.2,157.7 403.2,157.7 405.1,157.7 407.1,157.7 409.0,157.7 411.0,157.7 412.9,157.6 414.9,157.6 416.8,157.6 418.8,157.6 420.8,157.6 422.7,157.5 424.7,157.5 426.6,157.5 428.6,157.5 430.5,157.4 432.5,157.2 434.4,157.1 436.4,157.0 438.3,157.0 440.3,156.9 442.2,156.9 444.2,156.8 446.1,156.6 448.1,156.6 450.1,156.6 452.0,156.5 454.0,156.4 455.9,156.3 457.9,156.3 459.8,156.0 461.8,155.7 463.7,155.4 465.7,155.1 467.6,155.0 469.6,155.0 471.5,154.9 473.5,154.7 475.4,154.6 477.4,154.4 479.4,154.2 481.3,154.1 483.3,154.1 485.2,154.1 487.2,154.1 489.1,154.2 491.1,154.3 493.0,154.4 495.0,154.5 496.9,154.5 498.9,154.6 500.8,154.6 502.8,154.6 504.7,154.6 506.7,154.6 508.7,154.6 510.6,154.6 512.6,154.7 514.5,154.7 516.5,154.7 518.4,154.8 520.4,154.8 522.3,154.8 524.3,154.8 526.2,154.8 528.2,154.8 530.1,154.8 532.1,154.8 534.0,154.7 536.0,154.7 538.0,154.7 539.9,154.7 541.9,154.6 543.8,154.6 545.8,154.5 547.7,154.5 549.7,154.5 551.6,154.5 553.6,154.5 555.5,154.4 557.5,154.4 559.4,154.4 561.4,154.4 563.3,154.4 565.3,154.4 567.3,154.4 569.2,154.4 571.2,154.4 573.1,154.4 575.1,154.4 577.0,154.3 579.0,154.3 580.9,154.3 582.9,154.3 584.8,154.3 586.8,154.3 588.7,154.4 590.7,154.4 592.6,154.4 594.6,154.5 596.6,154.6 598.5,154.6 600.5,154.6 602.4,154.7 604.4,154.7 606.3,154.7 608.3,154.7 610.2,154.7 612.2,154.7 614.1,154.7 616.1,154.7 618.0,154.7 620.0,154.8 621.9,154.8 623.9,154.8 625.9,154.8 627.8,154.8 629.8,154.8 631.7,154.9 633.7,154.9 635.6,154.9 637.6,154.9 639.5,154.9 641.5,154.9 643.4,154.9 645.4,154.9 647.3,154.9 649.3,154.9 651.2,154.9 653.2,154.9 655.2,154.9 657.1,154.9 659.1,155.0 661.0,155.0 663.0,155.0 664.9,155.0 666.9,155.0 668.8,155.0 670.8,155.0 672.7,155.0 674.7,155.0 676.6,155.0 678.6,155.0 680.5,155.0 682.5,155.0" fill="none" stroke="#2d4a1e" stroke-width="0.7" stroke-opacity="1" stroke-linejoin="round"/>
</g>
<line x1="389.5" y1="15.0" x2="682.5" y2="15.0" stroke="#1a1a1a" stroke-width="1.3"/>
<line x1="389.5" y1="15.0" x2="389.5" y2="158.5" stroke="#1a1a1a" stroke-width="1.0"/>
<line x1="682.5" y1="15.0" x2="682.5" y2="158.5" stroke="#1a1a1a" stroke-width="1"/>
<line x1="389.0" y1="158.5" x2="683.0" y2="158.5" stroke="#1a1a1a" stroke-width="1"/>
<line x1="385.7" y1="157.90" x2="389.5" y2="157.90" stroke="#333" stroke-width="0.8"/>
<text x="384.2" y="159.70" text-anchor="end" font-size="5" fill="#000" class="s">0</text>
<line x1="385.7" y1="98.20" x2="389.5" y2="98.20" stroke="#333" stroke-width="0.8"/>
<text x="384.2" y="100.00" text-anchor="end" font-size="5" fill="#000" class="s">500</text>
<line x1="385.7" y1="38.50" x2="389.5" y2="38.50" stroke="#333" stroke-width="0.8"/>
<text x="384.2" y="40.30" text-anchor="end" font-size="5" fill="#000" class="s">1000</text>
<line x1="389.50" y1="158.5" x2="389.50" y2="160.7" stroke="#111" stroke-width="0.8"/>
<line x1="393.41" y1="158.5" x2="393.41" y2="160.7" stroke="#111" stroke-width="0.8"/>
<line x1="397.31" y1="158.5" x2="397.31" y2="160.7" stroke="#111" stroke-width="0.8"/>
<line x1="401.22" y1="158.5" x2="401.22" y2="160.7" stroke="#111" stroke-width="0.8"/>
<line x1="405.13" y1="158.5" x2="405.13" y2="160.7" stroke="#111" stroke-width="0.8"/>
<line x1="409.03" y1="158.5" x2="409.03" y2="162.7" stroke="#555" stroke-width="0.8"/>
<text x="409.03" y="168.10" text-anchor="middle" font-size="5" fill="#000" class="s">10</text>
<line x1="412.94" y1="158.5" x2="412.94" y2="160.7" stroke="#111" stroke-width="0.8"/>
<line x1="416.85" y1="158.5" x2="416.85" y2="160.7" stroke="#111" stroke-width="0.8"/>
<line x1="420.75" y1="158.5" x2="420.75" y2="160.7" stroke="#111" stroke-width="0.8"/>
<line x1="424.66" y1="158.5" x2="424.66" y2="160.7" stroke="#111" stroke-width="0.8"/>
<line x1="428.57" y1="158.5" x2="428.57" y2="160.7" stroke="#111" stroke-width="0.8"/>
<line x1="432.47" y1="158.5" x2="432.47" y2="160.7" stroke="#111" stroke-width="0.8"/>
<line x1="436.38" y1="158.5" x2="436.38" y2="160.7" stroke="#111" stroke-width="0.8"/>
<line x1="440.29" y1="158.5" x2="440.29" y2="160.7" stroke="#111" stroke-width="0.8"/>
<line x1="444.19" y1="158.5" x2="444.19" y2="160.7" stroke="#111" stroke-width="0.8"/>
<line x1="448.10" y1="158.5" x2="448.10" y2="162.7" stroke="#555" stroke-width="0.8"/>
<text x="448.10" y="168.10" text-anchor="middle" font-size="5" fill="#000" class="s">20</text>
<line x1="452.01" y1="158.5" x2="452.01" y2="160.7" stroke="#111" stroke-width="0.8"/>
<line x1="455.91" y1="158.5" x2="455.91" y2="160.7" stroke="#111" stroke-width="0.8"/>
<line x1="459.82" y1="158.5" x2="459.82" y2="160.7" stroke="#111" stroke-width="0.8"/>
<line x1="463.73" y1="158.5" x2="463.73" y2="160.7" stroke="#111" stroke-width="0.8"/>
<line x1="467.63" y1="158.5" x2="467.63" y2="160.7" stroke="#111" stroke-width="0.8"/>
<line x1="471.54" y1="158.5" x2="471.54" y2="160.7" stroke="#111" stroke-width="0.8"/>
<line x1="475.45" y1="158.5" x2="475.45" y2="160.7" stroke="#111" stroke-width="0.8"/>
<line x1="479.35" y1="158.5" x2="479.35" y2="160.7" stroke="#111" stroke-width="0.8"/>
<line x1="483.26" y1="158.5" x2="483.26" y2="160.7" stroke="#111" stroke-width="0.8"/>
<line x1="487.17" y1="158.5" x2="487.17" y2="162.7" stroke="#555" stroke-width="0.8"/>
<text x="487.17" y="168.10" text-anchor="middle" font-size="5" fill="#000" class="s">30</text>
<line x1="491.07" y1="158.5" x2="491.07" y2="160.7" stroke="#111" stroke-width="0.8"/>
<line x1="494.98" y1="158.5" x2="494.98" y2="160.7" stroke="#111" stroke-width="0.8"/>
<line x1="498.89" y1="158.5" x2="498.89" y2="160.7" stroke="#111" stroke-width="0.8"/>
<line x1="502.79" y1="158.5" x2="502.79" y2="160.7" stroke="#111" stroke-width="0.8"/>
<line x1="506.70" y1="158.5" x2="506.70" y2="160.7" stroke="#111" stroke-width="0.8"/>
<line x1="510.61" y1="158.5" x2="510.61" y2="160.7" stroke="#111" stroke-width="0.8"/>
<line x1="514.51" y1="158.5" x2="514.51" y2="160.7" stroke="#111" stroke-width="0.8"/>
<line x1="518.42" y1="158.5" x2="518.42" y2="160.7" stroke="#111" stroke-width="0.8"/>
<line x1="522.33" y1="158.5" x2="522.33" y2="160.7" stroke="#111" stroke-width="0.8"/>
<line x1="526.23" y1="158.5" x2="526.23" y2="162.7" stroke="#555" stroke-width="0.8"/>
<text x="526.23" y="168.10" text-anchor="middle" font-size="5" fill="#000" class="s">40</text>
<line x1="530.14" y1="158.5" x2="530.14" y2="160.7" stroke="#111" stroke-width="0.8"/>
<line x1="534.05" y1="158.5" x2="534.05" y2="160.7" stroke="#111" stroke-width="0.8"/>
<line x1="537.95" y1="158.5" x2="537.95" y2="160.7" stroke="#111" stroke-width="0.8"/>
<line x1="541.86" y1="158.5" x2="541.86" y2="160.7" stroke="#111" stroke-width="0.8"/>
<line x1="545.77" y1="158.5" x2="545.77" y2="160.7" stroke="#111" stroke-width="0.8"/>
<line x1="549.67" y1="158.5" x2="549.67" y2="160.7" stroke="#111" stroke-width="0.8"/>
<line x1="553.58" y1="158.5" x2="553.58" y2="160.7" stroke="#111" stroke-width="0.8"/>
<line x1="557.49" y1="158.5" x2="557.49" y2="160.7" stroke="#111" stroke-width="0.8"/>
<line x1="561.39" y1="158.5" x2="561.39" y2="160.7" stroke="#111" stroke-width="0.8"/>
<line x1="565.30" y1="158.5" x2="565.30" y2="162.7" stroke="#555" stroke-width="0.8"/>
<text x="565.30" y="168.10" text-anchor="middle" font-size="5" fill="#000" class="s">50</text>
<line x1="569.21" y1="158.5" x2="569.21" y2="160.7" stroke="#111" stroke-width="0.8"/>
<line x1="573.11" y1="158.5" x2="573.11" y2="160.7" stroke="#111" stroke-width="0.8"/>
<line x1="577.02" y1="158.5" x2="577.02" y2="160.7" stroke="#111" stroke-width="0.8"/>
<line x1="580.93" y1="158.5" x2="580.93" y2="160.7" stroke="#111" stroke-width="0.8"/>
<line x1="584.83" y1="158.5" x2="584.83" y2="160.7" stroke="#111" stroke-width="0.8"/>
<line x1="588.74" y1="158.5" x2="588.74" y2="160.7" stroke="#111" stroke-width="0.8"/>
<line x1="592.65" y1="158.5" x2="592.65" y2="160.7" stroke="#111" stroke-width="0.8"/>
<line x1="596.55" y1="158.5" x2="596.55" y2="160.7" stroke="#111" stroke-width="0.8"/>
<line x1="600.46" y1="158.5" x2="600.46" y2="160.7" stroke="#111" stroke-width="0.8"/>
<line x1="604.37" y1="158.5" x2="604.37" y2="162.7" stroke="#555" stroke-width="0.8"/>
<text x="604.37" y="168.10" text-anchor="middle" font-size="5" fill="#000" class="s">60</text>
<line x1="608.27" y1="158.5" x2="608.27" y2="160.7" stroke="#111" stroke-width="0.8"/>
<line x1="612.18" y1="158.5" x2="612.18" y2="160.7" stroke="#111" stroke-width="0.8"/>
<line x1="616.09" y1="158.5" x2="616.09" y2="160.7" stroke="#111" stroke-width="0.8"/>
<line x1="619.99" y1="158.5" x2="619.99" y2="160.7" stroke="#111" stroke-width="0.8"/>
<line x1="623.90" y1="158.5" x2="623.90" y2="160.7" stroke="#111" stroke-width="0.8"/>
<line x1="627.81" y1="158.5" x2="627.81" y2="160.7" stroke="#111" stroke-width="0.8"/>
<line x1="631.71" y1="158.5" x2="631.71" y2="160.7" stroke="#111" stroke-width="0.8"/>
<line x1="635.62" y1="158.5" x2="635.62" y2="160.7" stroke="#111" stroke-width="0.8"/>
<line x1="639.53" y1="158.5" x2="639.53" y2="160.7" stroke="#111" stroke-width="0.8"/>
<line x1="643.43" y1="158.5" x2="643.43" y2="162.7" stroke="#555" stroke-width="0.8"/>
<text x="643.43" y="168.10" text-anchor="middle" font-size="5" fill="#000" class="s">70</text>
<line x1="647.34" y1="158.5" x2="647.34" y2="160.7" stroke="#111" stroke-width="0.8"/>
<line x1="651.25" y1="158.5" x2="651.25" y2="160.7" stroke="#111" stroke-width="0.8"/>
<line x1="655.15" y1="158.5" x2="655.15" y2="160.7" stroke="#111" stroke-width="0.8"/>
<line x1="659.06" y1="158.5" x2="659.06" y2="160.7" stroke="#111" stroke-width="0.8"/>
<line x1="662.97" y1="158.5" x2="662.97" y2="160.7" stroke="#111" stroke-width="0.8"/>
<line x1="666.87" y1="158.5" x2="666.87" y2="160.7" stroke="#111" stroke-width="0.8"/>
<line x1="670.78" y1="158.5" x2="670.78" y2="160.7" stroke="#111" stroke-width="0.8"/>
<line x1="674.69" y1="158.5" x2="674.69" y2="160.7" stroke="#111" stroke-width="0.8"/>
<line x1="678.59" y1="158.5" x2="678.59" y2="160.7" stroke="#111" stroke-width="0.8"/>
<line x1="682.50" y1="158.5" x2="682.50" y2="162.7" stroke="#555" stroke-width="0.8"/>
<line x1="418.4" y1="5.199999999999999" x2="418.4" y2="15.0" stroke="#f0a060" stroke-width="0.9"/>
<line x1="423.8" y1="5.199999999999999" x2="423.8" y2="15.0" stroke="#f0a060" stroke-width="0.9"/>
<line x1="451.4" y1="5.199999999999999" x2="451.4" y2="15.0" stroke="#f0a060" stroke-width="0.9"/>
<line x1="455.9" y1="5.199999999999999" x2="455.9" y2="15.0" stroke="#f0a060" stroke-width="0.9"/>
<line x1="461.8" y1="5.199999999999999" x2="461.8" y2="15.0" stroke="#f0a060" stroke-width="0.9"/>
<line x1="464.5" y1="5.199999999999999" x2="464.5" y2="15.0" stroke="#f0a060" stroke-width="0.9"/>
<line x1="469.2" y1="5.199999999999999" x2="469.2" y2="15.0" stroke="#f0a060" stroke-width="0.9"/>
<line x1="474.3" y1="5.199999999999999" x2="474.3" y2="15.0" stroke="#f0a060" stroke-width="0.9"/>
<line x1="479.4" y1="5.199999999999999" x2="479.4" y2="15.0" stroke="#f0a060" stroke-width="0.9"/>
<line x1="485.3" y1="5.199999999999999" x2="485.3" y2="15.0" stroke="#f0a060" stroke-width="0.9"/>
<line x1="491.4" y1="5.199999999999999" x2="491.4" y2="15.0" stroke="#f0a060" stroke-width="0.9"/>
<line x1="501.4" y1="5.199999999999999" x2="501.4" y2="15.0" stroke="#f0a060" stroke-width="0.9"/>
<line x1="507.5" y1="5.199999999999999" x2="507.5" y2="15.0" stroke="#f0a060" stroke-width="0.9"/>
<line x1="512.5" y1="5.199999999999999" x2="512.5" y2="15.0" stroke="#f0a060" stroke-width="0.9"/>
<line x1="516.2" y1="5.199999999999999" x2="516.2" y2="15.0" stroke="#f0a060" stroke-width="0.9"/>
<line x1="524.4" y1="5.199999999999999" x2="524.4" y2="15.0" stroke="#f0a060" stroke-width="0.9"/>
<line x1="527.5" y1="5.199999999999999" x2="527.5" y2="15.0" stroke="#f0a060" stroke-width="0.9"/>
<line x1="530.5" y1="5.199999999999999" x2="530.5" y2="15.0" stroke="#f0a060" stroke-width="0.9"/>
<line x1="536" y1="5.199999999999999" x2="536" y2="15.0" stroke="#f0a060" stroke-width="0.9"/>
<line x1="541.6" y1="5.199999999999999" x2="541.6" y2="15.0" stroke="#f0a060" stroke-width="0.9"/>
<line x1="545.7" y1="5.199999999999999" x2="545.7" y2="15.0" stroke="#f0a060" stroke-width="0.9"/>
<line x1="549.5" y1="5.199999999999999" x2="549.5" y2="15.0" stroke="#f0a060" stroke-width="0.9"/>
<line x1="554.3" y1="5.199999999999999" x2="554.3" y2="15.0" stroke="#f0a060" stroke-width="0.9"/>
<line x1="559.5" y1="5.199999999999999" x2="559.5" y2="15.0" stroke="#f0a060" stroke-width="0.9"/>
<line x1="566.6" y1="5.199999999999999" x2="566.6" y2="15.0" stroke="#f0a060" stroke-width="0.9"/>
<line x1="567.6" y1="5.199999999999999" x2="567.6" y2="15.0" stroke="#f0a060" stroke-width="0.9"/>
<line x1="570.4" y1="5.199999999999999" x2="570.4" y2="15.0" stroke="#f0a060" stroke-width="0.9"/>
<line x1="585.4" y1="5.199999999999999" x2="585.4" y2="15.0" stroke="#f0a060" stroke-width="0.9"/>
<line x1="604.2" y1="5.199999999999999" x2="604.2" y2="15.0" stroke="#f0a060" stroke-width="0.9"/>
<line x1="611.4" y1="5.199999999999999" x2="611.4" y2="15.0" stroke="#f0a060" stroke-width="0.9"/>
<line x1="620.3" y1="5.199999999999999" x2="620.3" y2="15.0" stroke="#f0a060" stroke-width="0.9"/>
<line x1="622.6" y1="5.199999999999999" x2="622.6" y2="15.0" stroke="#f0a060" stroke-width="0.9"/>
<line x1="625.7" y1="5.199999999999999" x2="625.7" y2="15.0" stroke="#f0a060" stroke-width="0.9"/>
<line x1="634.9" y1="5.199999999999999" x2="634.9" y2="15.0" stroke="#f0a060" stroke-width="0.9"/>
<line x1="635.9" y1="5.199999999999999" x2="635.9" y2="15.0" stroke="#f0a060" stroke-width="0.9"/>
<line x1="637.5" y1="5.199999999999999" x2="637.5" y2="15.0" stroke="#f0a060" stroke-width="0.9"/>
<line x1="646.4" y1="5.199999999999999" x2="646.4" y2="15.0" stroke="#f0a060" stroke-width="0.9"/>
<line x1="656.3" y1="5.199999999999999" x2="656.3" y2="15.0" stroke="#f0a060" stroke-width="0.9"/>
<line x1="665.8" y1="5.199999999999999" x2="665.8" y2="15.0" stroke="#f0a060" stroke-width="0.9"/>
<path d="M417.20,1.90 L418.40,4.50 L419.60,1.90 M418.40,4.30 L418.40,6.00" fill="none" stroke="#333" stroke-width="0.9"/>
<path d="M484.10,1.90 L485.30,4.50 L486.50,1.90 M485.30,4.30 L485.30,6.00" fill="none" stroke="#333" stroke-width="0.9"/>
<path d="M553.10,1.90 L554.30,4.50 L555.50,1.90 M554.30,4.30 L554.30,6.00" fill="none" stroke="#333" stroke-width="0.9"/>
<text x="391.0" y="20.6" font-size="5" fill="#000" class="s" textLength="25.6" lengthAdjust="spacingAndGlyphs">D0097002A</text>
<text x="352.2" y="12.9" font-size="5.2" fill="#000" class="s" textLength="15.3" lengthAdjust="spacingAndGlyphs">Counts</text>
<text x="509.59999999999997" y="176.0" font-size="5" fill="#000" class="s" textLength="69.5" lengthAdjust="spacingAndGlyphs">Position [°2Theta] (Copper (Cu))</text>
<text x="535.1" y="197.8" font-size="17" class="cap" fill="#000" stroke="#000" stroke-width="0.2">(b)</text>
<clipPath id="cclip"><rect x="211.5" y="229.5" width="293.0" height="144.0"/></clipPath>
<g clip-path="url(#cclip)">
<polyline points="211.5,370.5 211.9,370.3 212.2,371.9 212.6,371.3 212.9,371.0 213.3,370.0 213.6,371.7 213.9,371.3 214.3,372.0 214.6,371.0 215.0,370.6 215.4,371.8 215.7,371.2 216.1,370.4 216.4,369.6 216.8,370.3 217.1,371.0 217.4,371.5 217.8,371.3 218.1,371.2 218.5,370.7 218.9,370.8 219.2,369.5 219.6,370.6 219.9,371.4 220.3,369.6 220.6,370.0 220.9,370.7 221.3,371.2 221.6,371.8 222.0,371.3 222.3,370.0 222.7,371.2 223.1,371.5 223.4,370.6 223.8,370.5 224.1,370.2 224.4,370.2 224.8,369.6 225.1,371.2 225.5,369.9 225.8,371.3 226.2,370.1 226.6,370.5 226.9,370.5 227.3,369.9 227.6,370.7 228.0,369.8 228.3,370.0 228.6,370.5 229.0,371.0 229.3,371.1 229.7,371.0 230.1,370.8 230.4,370.7 230.8,368.3 231.1,370.1 231.5,370.0 231.8,371.2 232.1,371.1 232.5,370.8 232.8,370.5 233.2,371.2 233.6,369.4 233.9,371.0 234.3,369.8 234.6,372.0 235.0,370.6 235.3,370.4 235.6,370.4 236.0,370.1 236.3,370.3 236.7,370.4 237.0,371.7 237.4,370.9 237.8,371.9 238.1,370.0 238.5,370.2 238.8,370.6 239.1,370.9 239.5,370.8 239.8,368.9 240.2,368.9 240.5,370.4 240.9,369.3 241.3,371.3 241.6,371.5 242.0,370.6 242.3,370.8 242.6,370.6 243.0,370.1 243.3,367.7 243.7,370.6 243.8,370.4 244.0,370.2 244.0,370.1 244.2,370.1 244.3,370.0 244.4,369.9 244.5,370.0 244.7,370.1 244.8,370.1 244.8,369.9 245.0,369.5 245.1,369.1 245.2,368.8 245.3,367.3 245.5,365.5 245.5,365.7 245.7,368.6 245.8,370.6 245.8,370.6 246.0,370.3 246.2,369.9 246.2,369.9 246.3,370.1 246.5,370.2 246.5,370.2 246.7,370.0 246.8,369.8 246.8,369.8 247.0,370.3 247.1,370.9 247.2,371.1 247.5,371.2 247.9,371.6 248.3,369.6 248.6,369.9 249.0,370.0 249.3,371.6 249.7,370.3 250.0,370.5 250.3,371.0 250.7,370.6 251.0,369.4 251.4,369.5 251.7,370.0 252.1,369.5 252.2,369.8 252.4,370.2 252.5,370.4 252.6,370.2 252.7,370.0 252.8,369.9 252.9,369.9 253.1,369.8 253.2,369.8 253.2,369.7 253.4,369.4 253.5,369.0 253.6,368.9 253.7,367.6 253.8,365.8 253.9,365.6 254.1,367.8 254.2,369.3 254.2,369.4 254.4,369.8 254.5,369.8 254.6,369.8 254.7,370.0 254.9,370.2 254.9,370.2 255.0,369.2 255.2,368.0 255.2,367.8 255.4,368.4 255.5,369.1 255.6,369.3 256.0,369.4 256.3,367.7 256.7,368.4 257.0,370.8 257.3,369.0 257.7,368.8 258.0,367.9 258.4,368.3 258.7,368.8 259.1,370.4 259.5,370.1 259.8,369.2 260.2,369.0 260.5,370.2 260.9,369.7 261.0,369.7 261.2,369.7 261.2,369.7 261.3,369.5 261.5,369.4 261.5,369.3 261.7,369.2 261.8,369.1 261.9,369.0 262.0,369.1 262.2,369.3 262.2,369.3 262.3,369.3 262.5,368.1 262.6,366.9 262.7,365.6 262.8,366.5 263.0,367.2 263.0,367.5 263.2,367.8 263.3,367.7 263.3,367.9 263.5,368.7 263.7,369.4 263.7,369.3 263.8,368.8 264.0,368.4 264.0,368.4 264.2,368.6 264.3,368.9 264.4,368.9 264.7,368.7 265.0,368.8 265.4,369.8 265.7,368.7 266.1,368.2 266.5,369.9 266.8,367.2 267.2,367.1 267.5,367.3 267.9,367.1 268.2,368.3 268.5,369.3 268.9,369.5 269.2,369.6 269.6,368.9 269.9,369.0 270.3,368.3 270.7,370.5 271.0,366.6 271.4,366.6 271.7,368.9 271.9,368.4 272.0,368.1 272.1,368.2 272.3,368.2 272.4,368.2 272.4,368.2 272.6,368.2 272.7,368.2 272.8,368.2 272.9,368.1 273.1,367.8 273.1,367.8 273.3,365.6 273.4,356.0 273.4,355.8 273.6,343.6 273.8,357.0 273.8,358.4 274.0,365.8 274.1,367.4 274.2,367.5 274.3,368.0 274.5,368.3 274.5,368.4 274.6,368.4 274.8,368.3 274.9,368.2 275.0,368.6 275.1,369.1 275.2,369.3 275.3,369.1 275.6,368.6 275.9,368.6 276.2,368.0 276.2,368.0 276.4,368.5 276.5,369.2 276.6,369.4 276.7,368.9 276.9,368.2 276.9,368.0 277.1,367.7 277.2,367.2 277.3,367.0 277.4,366.8 277.6,365.6 277.7,363.7 277.7,359.7 277.9,352.2 278.0,355.7 278.1,360.9 278.3,366.9 278.4,367.9 278.4,368.1 278.6,368.4 278.7,368.4 278.8,368.3 278.9,367.9 279.1,367.7 279.1,367.5 279.3,367.1 279.4,366.9 279.5,367.1 279.6,368.0 279.7,368.7 280.1,369.1 280.4,368.1 280.8,368.3 281.2,369.2 281.5,369.0 281.9,368.5 282.2,367.6 282.4,368.6 282.6,369.2 282.6,369.2 282.8,369.0 282.9,368.9 282.9,368.8 283.1,368.0 283.2,367.3 283.3,367.5 283.5,368.1 283.6,368.6 283.6,368.4 283.8,366.9 283.9,363.6 284.0,362.2 284.2,356.5 284.3,360.2 284.3,361.9 284.5,366.2 284.6,367.1 284.7,367.3 284.9,367.9 285.0,368.2 285.0,368.2 285.1,367.9 285.2,367.7 285.3,367.5 285.4,367.4 285.4,367.4 285.5,367.4 285.6,367.5 285.7,367.5 285.7,367.5 285.7,367.4 285.8,367.2 285.9,367.0 286.0,366.7 286.1,366.6 286.2,367.0 286.4,367.3 286.4,367.3 286.5,365.6 286.7,360.0 286.7,358.6 286.9,355.8 287.1,363.3 287.1,364.4 287.3,366.6 287.4,366.7 287.4,366.6 287.6,366.7 287.8,366.7 287.8,366.7 288.0,366.2 288.1,365.6 288.1,365.6 288.3,366.4 288.5,367.3 288.5,367.3 288.7,366.7 288.9,366.1 289.2,367.3 289.6,365.8 289.9,364.6 290.2,367.0 290.6,366.1 290.9,367.5 291.3,365.4 291.6,365.0 291.7,365.3 291.9,366.0 292.0,366.4 292.1,366.7 292.3,367.2 292.4,367.4 292.5,366.9 292.6,366.0 292.7,365.6 292.8,365.2 293.0,364.4 293.1,364.1 293.2,363.4 293.4,359.6 293.4,358.2 293.5,354.8 293.7,359.9 293.8,360.8 293.9,364.9 294.1,367.0 294.1,367.2 294.3,366.7 294.3,366.7 294.4,366.0 294.4,366.0 294.4,366.0 294.6,364.5 294.6,364.5 294.8,362.9 294.8,362.9 294.8,362.9 295.0,364.1 295.0,364.2 295.1,365.2 295.2,365.0 295.2,364.9 295.3,362.1 295.3,362.1 295.5,358.6 295.5,357.8 295.7,346.9 295.9,317.2 295.9,300.5 296.1,242.7 296.2,278.4 296.3,304.0 296.4,348.0 296.6,355.3 296.6,358.3 296.8,362.0 296.9,363.3 297.0,364.0 297.2,365.1 297.3,365.5 297.4,365.3 297.5,364.9 297.6,364.8 297.7,364.9 297.9,365.0 297.9,365.1 298.3,365.0 298.6,364.0 299.0,365.2 299.3,364.7 299.7,364.4 299.9,364.7 300.1,364.9 300.1,364.8 300.3,363.4 300.4,362.3 300.4,362.5 300.6,363.4 300.8,364.1 300.8,364.1 301.0,364.1 301.1,364.1 301.2,363.9 301.4,362.2 301.4,360.0 301.6,354.2 301.7,343.4 301.8,345.1 301.9,353.3 302.1,360.2 302.1,360.6 302.3,362.7 302.5,364.1 302.5,364.2 302.7,365.1 302.8,365.9 302.9,365.9 303.0,365.6 303.2,365.4 303.2,365.4 303.4,365.1 303.6,365.0 303.6,365.0 303.9,365.3 304.3,363.3 304.6,366.0 304.9,364.0 305.3,364.4 305.3,364.4 305.5,365.2 305.6,365.7 305.7,365.5 305.9,364.7 306.0,364.2 306.1,364.2 306.3,364.1 306.3,364.1 306.5,363.6 306.6,362.5 306.7,362.1 306.8,360.8 307.0,352.2 307.1,350.1 307.2,338.7 307.4,350.6 307.4,350.8 307.6,361.9 307.8,364.8 307.8,364.9 308.0,365.1 308.1,365.0 308.2,364.6 308.4,363.5 308.5,362.9 308.5,362.8 308.7,362.7 308.8,362.6 308.9,363.2 309.1,364.0 309.1,364.2 309.5,364.9 309.8,362.6 310.2,366.5 310.6,365.1 310.8,364.0 310.9,363.2 310.9,363.2 311.1,363.1 311.3,363.1 311.3,363.6 311.5,364.6 311.6,365.1 311.7,365.3 311.9,365.6 312.0,365.7 312.1,363.3 312.3,358.9 312.3,358.8 312.5,351.3 312.6,341.8 312.7,341.5 312.9,353.8 313.0,360.6 313.1,362.1 313.3,363.2 313.3,363.2 313.5,363.1 313.6,362.6 313.7,362.5 313.8,364.3 314.0,366.7 314.1,366.8 314.2,364.6 314.4,362.4 314.4,362.4 314.6,362.7 314.8,363.0 315.1,366.4 315.5,362.9 315.8,366.0 316.1,362.4 316.2,362.5 316.4,363.1 316.5,363.4 316.6,362.8 316.8,361.3 316.8,360.7 317.0,362.1 317.2,364.2 317.2,364.6 317.4,364.2 317.5,363.6 317.6,363.6 317.8,361.9 317.9,359.1 318.0,358.1 318.2,355.0 318.3,357.5 318.3,360.4 318.5,363.7 318.6,364.1 318.7,364.3 318.9,364.3 319.0,364.3 319.1,364.2 319.3,364.1 319.3,364.2 319.5,364.8 319.6,365.2 319.7,364.8 319.9,363.8 320.0,363.4 320.1,363.3 320.3,363.3 320.7,364.0 321.0,361.6 321.4,364.5 321.8,362.2 322.1,364.7 322.5,363.0 322.8,366.2 323.2,363.8 323.5,364.3 323.8,364.7 324.2,364.8 324.5,364.5 324.9,364.9 325.3,366.5 325.6,364.8 326.0,364.7 326.3,364.7 326.7,365.3 326.7,365.2 326.9,364.6 327.0,364.2 327.1,364.0 327.3,363.2 327.3,362.9 327.5,363.4 327.7,364.2 327.7,364.3 327.9,364.4 328.0,364.5 328.1,364.2 328.3,362.3 328.4,360.9 328.5,360.1 328.7,358.2 328.8,358.5 328.9,360.5 329.1,362.2 329.1,362.2 329.3,362.3 329.5,362.3 329.5,362.7 329.7,363.9 329.8,364.4 329.9,364.3 330.1,364.2 330.2,364.2 330.3,363.3 330.5,362.4 330.5,362.6 330.5,362.8 330.7,363.9 330.8,364.1 330.8,364.7 331.0,364.5 331.2,364.2 331.2,364.2 331.4,363.8 331.5,363.5 331.6,363.5 331.8,363.5 331.9,363.4 332.0,363.6 332.2,363.9 332.2,363.8 332.4,362.1 332.6,359.4 332.6,359.4 332.8,362.1 332.9,362.9 333.0,363.6 333.0,363.6 333.1,363.5 333.2,363.1 333.3,362.9 333.3,362.8 333.4,362.7 333.5,362.6 333.6,362.4 333.7,362.4 333.7,362.5 333.8,362.7 333.9,362.8 334.0,362.9 334.0,362.8 334.1,362.8 334.3,362.6 334.3,362.5 334.3,362.4 334.5,362.9 334.5,363.0 334.7,362.2 334.7,361.7 334.7,360.6 335.0,355.9 335.0,357.6 335.2,360.5 335.4,363.6 335.4,363.7 335.6,363.6 335.7,363.1 335.8,363.0 336.0,362.2 336.1,361.8 336.2,362.7 336.4,364.9 336.5,365.4 336.6,364.6 336.8,363.6 336.8,363.7 337.0,364.5 337.2,365.0 337.5,364.9 337.9,364.4 338.2,363.1 338.5,363.8 338.9,362.4 339.2,365.2 339.6,362.8 340.0,362.7 340.3,364.0 340.7,363.4 341.0,364.7 341.4,365.3 341.7,364.6 342.0,364.8 342.4,359.9 342.7,364.6 343.1,361.7 343.5,363.8 343.8,363.6 344.1,363.0 344.2,363.0 344.3,364.1 344.5,364.9 344.6,364.5 344.8,363.1 344.9,362.6 345.0,362.9 345.2,363.3 345.2,363.3 345.4,364.6 345.5,365.3 345.6,364.5 345.9,361.7 345.9,360.6 346.1,355.8 346.2,348.8 346.3,348.6 346.5,356.0 346.6,359.6 346.7,361.0 346.9,361.1 346.9,361.0 347.1,362.9 347.2,363.7 347.3,364.3 347.4,364.1 347.5,363.8 347.6,363.4 347.7,363.2 347.7,363.2 347.8,363.1 347.9,363.0 348.0,362.9 348.0,362.9 348.1,363.5 348.2,364.2 348.3,364.8 348.4,365.0 348.4,364.4 348.5,363.5 348.7,362.2 348.8,362.7 349.0,364.6 349.0,365.2 349.2,364.5 349.4,363.3 349.4,363.2 349.6,362.9 349.7,362.8 349.8,363.5 350.1,364.9 350.1,365.2 350.3,364.7 350.4,364.2 350.5,364.4 350.7,365.4 350.8,365.9 350.9,365.2 351.1,364.1 351.2,364.0 351.4,364.8 351.5,365.3 351.6,365.0 351.9,363.6 352.2,365.8 352.5,363.4 352.9,364.4 353.2,364.0 353.6,364.2 353.9,363.9 354.3,365.5 354.7,366.9 355.0,364.0 355.4,365.1 355.7,364.5 356.1,363.4 356.2,364.3 356.4,366.1 356.4,366.2 356.6,365.3 356.7,364.8 356.8,364.7 357.1,364.5 357.1,364.5 357.3,364.7 357.4,364.8 357.5,364.5 357.7,363.0 357.8,362.3 357.9,361.3 358.2,355.5 358.2,354.7 358.4,345.9 358.5,349.4 358.5,349.6 358.6,355.8 358.7,360.2 358.8,362.7 358.9,362.9 358.9,363.1 359.1,362.8 359.2,362.3 359.2,362.1 359.3,362.7 359.4,363.4 359.5,364.1 359.6,364.4 359.6,364.1 359.7,363.6 359.8,363.0 359.9,362.7 359.9,362.7 360.1,362.7 360.2,362.6 360.2,362.3 360.3,362.4 360.4,362.2 360.5,361.1 360.6,359.9 360.6,359.5 360.7,357.3 360.9,360.7 361.0,360.9 361.2,363.3 361.3,363.4 361.4,363.4 361.6,363.3 361.6,363.3 361.9,363.0 362.0,362.8 362.1,362.8 362.3,362.8 362.4,362.8 362.5,362.7 362.7,362.5 362.7,362.8 363.0,364.0 363.1,364.5 363.4,364.3 363.7,362.9 364.1,364.6 364.4,362.5 364.8,365.8 365.1,363.1 365.5,364.3 365.9,366.3 366.2,362.7 366.6,363.7 366.9,364.1 367.2,365.3 367.6,364.6 367.9,361.9 368.3,365.0 368.6,367.4 368.6,367.9 368.8,366.5 369.0,365.0 369.0,365.1 369.3,365.3 369.4,365.4 369.5,364.8 369.7,364.2 369.7,364.2 370.0,364.3 370.1,364.4 370.2,364.5 370.4,364.6 370.4,364.5 370.7,362.6 370.8,361.4 370.9,358.9 371.1,359.5 371.1,360.1 371.4,364.2 371.4,365.3 371.6,363.8 371.8,361.1 371.8,361.2 372.0,363.6 372.1,364.6 372.3,364.9 372.5,365.3 372.5,365.2 372.7,363.7 372.9,362.9 373.0,363.0 373.2,363.3 373.2,363.3 373.6,365.2 373.9,363.0 374.3,366.1 374.6,365.1 374.8,363.6 374.9,362.4 375.0,362.9 375.3,364.2 375.3,364.4 375.5,365.0 375.6,365.5 375.7,364.9 376.0,363.4 376.0,363.3 376.2,362.9 376.4,362.6 376.4,362.8 376.7,363.4 376.7,363.4 376.9,362.9 377.1,362.1 377.1,361.0 377.4,362.1 377.4,362.3 377.6,363.2 377.8,363.1 377.8,363.1 378.1,362.9 378.1,362.8 378.3,361.9 378.4,361.3 378.5,362.2 378.8,364.2 378.8,364.3 379.0,364.5 379.1,364.6 379.3,364.5 379.5,364.2 379.5,364.1 379.5,364.1 379.7,363.1 379.8,362.3 379.9,362.9 380.2,364.8 380.2,365.1 380.4,363.3 380.6,362.1 380.6,363.4 380.9,366.7 380.9,367.0 381.1,364.2 381.3,362.3 381.4,362.5 381.6,361.4 381.6,361.3 381.8,356.7 381.9,357.4 382.1,359.6 382.3,362.1 382.3,362.1 382.5,364.3 382.6,365.1 382.8,364.8 383.0,364.0 383.0,364.0 383.3,363.8 383.3,363.6 383.5,363.5 383.7,363.2 383.7,363.3 384.0,364.6 384.1,365.1 384.2,365.1 384.4,365.1 384.8,366.2 385.1,360.3 385.5,364.2 385.7,364.2 385.8,364.2 385.9,364.7 386.1,365.6 386.2,365.6 386.4,363.4 386.5,362.5 386.6,363.2 386.8,364.3 386.9,364.1 387.1,361.9 387.2,361.1 387.4,361.1 387.6,360.3 387.6,359.8 387.8,352.0 387.9,348.6 388.1,339.6 388.3,346.1 388.3,351.5 388.6,362.2 388.6,362.9 388.8,363.7 389.0,363.6 389.0,363.9 389.3,364.3 389.3,364.3 389.5,364.9 389.6,365.2 389.8,364.8 390.0,363.9 390.0,363.9 390.3,364.0 390.3,364.1 390.3,364.1 390.5,363.2 390.6,362.7 390.7,361.9 390.8,363.8 391.1,367.7 391.1,367.6 391.3,365.5 391.4,364.7 391.5,364.8 391.8,364.9 391.8,364.8 392.0,364.3 392.1,364.1 392.3,362.9 392.5,360.4 392.5,359.0 392.8,354.5 392.8,354.6 393.0,359.4 393.1,362.0 393.3,363.1 393.5,364.2 393.5,364.2 393.7,363.5 393.8,363.2 394.0,363.3 394.2,363.5 394.2,363.7 394.5,365.6 394.5,366.1 394.7,365.2 394.9,364.4 395.0,364.6 395.2,365.5 395.3,365.6 395.6,365.4 396.0,363.9 396.3,364.0 396.6,364.0 397.0,365.1 397.3,364.4 397.7,365.2 398.0,363.6 398.4,363.1 398.8,361.6 399.1,362.3 399.5,365.0 399.8,364.7 400.1,365.2 400.5,363.7 400.8,361.3 401.2,363.1 401.5,366.6 401.9,365.6 402.3,365.6 402.6,363.4 403.0,364.2 403.3,363.7 403.7,361.6 404.0,365.1 404.3,365.1 404.3,365.1 404.6,362.9 404.7,361.3 404.8,362.0 405.0,363.6 405.1,363.7 405.3,364.6 405.4,364.9 405.6,365.6 405.8,366.3 405.8,366.1 406.1,365.6 406.1,365.5 406.3,365.6 406.5,365.1 406.6,362.1 406.8,355.9 406.8,355.8 407.1,360.0 407.2,361.1 407.3,362.3 407.5,362.2 407.6,362.8 407.8,364.1 407.8,364.1 408.1,364.7 408.2,364.9 408.4,364.9 408.5,365.0 408.6,364.4 408.9,361.8 408.9,361.4 409.1,364.3 409.2,366.1 409.4,365.4 409.6,364.0 410.0,364.2 410.3,363.3 410.7,364.7 411.0,363.5 411.3,363.1 411.7,364.4 412.0,364.8 412.4,364.5 412.7,365.3 413.1,364.5 413.5,364.6 413.8,364.0 414.2,362.3 414.5,362.4 414.8,364.8 415.2,363.4 415.5,363.9 415.9,363.2 416.2,364.3 416.6,363.9 417.0,364.8 417.3,365.2 417.7,363.0 418.0,362.4 418.4,363.3 418.7,363.7 419.0,363.9 419.4,364.8 419.7,366.2 420.1,363.3 420.5,364.0 420.8,364.9 421.2,365.4 421.5,362.5 421.9,366.3 422.2,361.8 422.5,363.4 422.9,360.9 423.2,365.1 423.6,364.3 424.0,364.8 424.1,364.5 424.3,364.0 424.4,364.1 424.6,364.4 424.7,364.4 424.9,364.8 425.0,365.0 425.2,363.8 425.4,362.5 425.4,363.0 425.7,364.6 425.7,364.7 426.0,364.1 426.0,363.8 426.2,361.9 426.4,357.7 426.5,355.0 426.7,348.0 426.8,348.0 427.0,356.4 427.1,358.9 427.3,362.0 427.4,362.6 427.6,363.2 427.8,364.2 427.8,364.3 428.1,365.2 428.2,365.4 428.4,364.7 428.5,364.2 428.6,364.3 428.9,364.4 428.9,364.2 429.2,362.1 429.2,361.8 429.4,364.0 429.5,365.4 429.9,362.9 430.2,365.1 430.3,365.1 430.6,364.7 430.6,364.7 430.8,364.6 430.9,364.6 431.1,364.3 431.3,363.9 431.4,363.6 431.7,363.0 431.7,362.9 431.9,361.9 432.0,361.6 432.2,363.4 432.4,364.6 432.5,363.5 432.7,360.0 432.7,359.6 433.0,357.1 433.1,357.3 433.3,360.3 433.4,361.6 433.5,363.3 433.7,364.9 433.8,364.5 434.1,363.0 434.1,362.9 434.4,364.0 434.4,364.4 434.6,364.1 434.8,363.8 434.9,364.1 435.2,364.6 435.2,364.6 435.4,363.6 435.5,363.4 435.7,363.1 435.9,362.8 436.2,362.8 436.6,364.6 436.9,363.0 436.9,363.0 437.2,362.5 437.2,362.3 437.5,364.2 437.6,365.4 437.7,364.3 437.9,362.3 438.0,362.9 438.3,365.6 438.3,365.8 438.6,364.2 438.7,363.6 438.8,363.5 439.0,363.3 439.1,362.8 439.4,360.7 439.4,360.6 439.6,360.3 439.7,360.7 439.9,363.0 440.1,364.1 440.2,364.7 440.4,365.1 440.5,365.3 440.7,365.7 440.7,365.8 441.0,363.9 441.1,363.3 441.3,364.1 441.4,364.7 441.6,364.9 441.8,365.3 441.8,365.1 442.1,363.9 442.1,363.7 442.4,364.8 442.5,365.3 442.9,365.0 443.2,365.0 443.6,362.2 443.9,362.4 444.2,364.7 444.6,366.2 444.9,364.1 445.3,364.4 445.6,364.0 446.0,363.7 446.4,364.9 446.7,363.2 447.1,363.3 447.4,364.2 447.7,365.0 448.1,365.1 448.4,363.6 448.8,365.7 449.1,364.7 449.5,365.4 449.9,366.1 450.2,363.7 450.6,364.6 450.9,364.6 451.3,363.4 451.6,366.2 451.9,364.7 452.3,364.2 452.6,363.5 453.0,365.8 453.4,363.7 453.7,364.4 454.1,362.8 454.4,363.1 454.8,363.9 455.1,361.7 455.2,362.1 455.4,364.6 455.4,364.7 455.7,365.0 455.8,365.1 456.0,365.1 456.1,365.0 456.3,365.3 456.3,365.3 456.5,365.6 456.6,365.3 456.6,365.3 456.8,364.4 456.9,364.5 456.9,364.6 457.2,365.9 457.2,366.0 457.2,366.1 457.4,363.7 457.5,363.3 457.6,361.7 457.7,357.3 457.7,356.5 457.9,351.3 458.0,349.2 458.0,349.2 458.3,354.0 458.3,355.8 458.3,356.7 458.6,362.2 458.6,362.3 458.6,362.2 458.9,357.5 458.9,356.7 458.9,354.9 459.2,353.0 459.2,353.2 459.3,356.0 459.4,359.1 459.5,359.8 459.6,362.6 459.7,363.7 459.8,364.1 460.0,366.3 460.0,366.3 460.0,366.2 460.3,365.6 460.3,365.5 460.3,365.4 460.6,365.6 460.6,365.6 460.7,365.6 460.9,364.3 460.9,364.0 461.1,362.8 461.2,363.4 461.4,364.1 461.4,364.2 461.5,364.6 461.7,365.6 461.8,366.1 461.8,366.0 461.9,365.1 462.0,364.5 462.1,364.3 462.2,364.3 462.4,364.3 462.5,364.5 462.8,365.2 462.8,365.2 463.1,365.0 463.1,364.9 463.4,365.1 463.5,365.1 463.7,365.0 463.8,364.5 464.0,364.2 464.2,363.4 464.3,362.9 464.6,363.2 464.6,363.2 464.8,363.1 464.9,362.9 465.1,363.0 465.3,363.0 465.4,364.1 465.6,365.3 465.7,365.5 466.0,365.8 466.0,365.8 466.3,365.3 466.3,365.3 466.6,364.2 466.6,363.9 466.9,364.4 467.0,364.6 467.2,365.1 467.3,365.7 467.7,364.7 468.1,365.4 468.4,364.5 468.8,365.6 469.1,366.7 469.5,365.1 469.8,364.2 470.1,366.3 470.5,365.3 470.8,364.1 471.2,365.6 471.6,365.9 471.9,362.6 472.3,364.2 472.6,364.0 473.0,366.3 473.3,363.2 473.6,367.0 474.0,365.9 474.3,364.4 474.7,363.7 475.0,366.4 475.4,366.1 475.8,365.2 476.1,367.4 476.5,364.7 476.8,364.8 477.1,366.0 477.5,364.9 477.8,364.6 478.2,365.2 478.5,364.9 478.9,363.7 479.3,366.1 479.6,365.4 480.0,366.2 480.3,364.3 480.7,366.1 481.0,365.1 481.3,365.5 481.7,365.6 482.0,363.5 482.4,365.8 482.8,363.9 483.1,364.7 483.5,364.0 483.8,365.9 484.2,364.6 484.5,364.8 484.8,366.3 485.2,365.4 485.4,365.7 485.5,365.9 485.7,365.8 485.9,365.8 486.0,365.1 486.3,364.1 486.3,364.7 486.6,366.4 486.7,366.6 487.0,367.3 487.0,367.3 487.3,367.4 487.3,367.4 487.6,366.3 487.7,366.0 487.9,365.9 488.0,365.6 488.2,364.3 488.3,362.6 488.5,361.7 488.7,362.4 488.8,362.7 489.0,362.9 489.1,363.3 489.4,365.3 489.4,365.3 489.7,365.2 489.7,365.2 490.0,366.2 490.1,366.5 490.3,365.7 490.5,365.1 490.6,364.7 490.8,364.2 490.9,364.2 491.2,364.2 491.2,365.0 491.5,367.8 491.5,367.5 491.8,364.8 492.2,364.0 492.5,365.0 492.9,367.4 493.2,366.3 493.6,365.3 494.0,365.6 494.3,366.9 494.7,367.0 495.0,365.0 495.3,367.4 495.7,364.5 496.0,366.2 496.4,365.9 496.7,367.5 497.1,366.9 497.5,365.5 497.8,367.7 498.2,363.9 498.5,367.7 498.9,367.5 499.2,366.4 499.5,365.9 499.9,365.6 500.2,366.8 500.6,366.7 501.0,366.7 501.3,367.0 501.7,368.9 502.0,365.4 502.4,366.2 502.7,366.4 503.0,367.1 503.4,366.3 503.7,366.6 504.1,366.6 504.4,365.2" fill="none" stroke="#ff1a1a" stroke-width="1.3" stroke-opacity="1.0" stroke-linejoin="round"/>
<polyline points="245.0,369.4 245.1,368.9 245.3,368.2 245.4,367.7 245.6,367.7 245.7,368.2 245.8,368.9 246.0,369.4" fill="none" stroke="#3434e4" stroke-width="1.0" stroke-opacity="1" stroke-linejoin="round"/>
<polyline points="253.3,369.2 253.4,368.6 253.5,367.7 253.7,366.5 253.8,365.5 254.0,365.5 254.1,366.5 254.2,367.7 254.4,368.6 254.5,369.1" fill="none" stroke="#3434e4" stroke-width="1.0" stroke-opacity="1" stroke-linejoin="round"/>
<polyline points="262.1,368.5 262.3,367.8 262.4,366.9 262.5,365.8 262.7,365.3 262.8,365.8 262.9,366.9 263.1,367.8 263.2,368.5" fill="none" stroke="#3434e4" stroke-width="1.0" stroke-opacity="1" stroke-linejoin="round"/>
<polyline points="272.2,368.1 272.4,367.9 272.5,367.6 272.6,367.3 272.8,366.6 272.9,365.4 273.0,363.0 273.2,358.7 273.3,352.2 273.4,344.4 273.6,339.0 273.7,340.3 273.8,347.2 274.0,354.7 274.1,360.4 274.2,364.0 274.4,365.8 274.5,366.8 274.6,367.3 274.8,367.6 274.9,367.8 275.0,367.9" fill="none" stroke="#3434e4" stroke-width="1.0" stroke-opacity="1" stroke-linejoin="round"/>
<polyline points="276.9,367.8 277.0,367.6 277.2,367.1 277.3,366.2 277.4,364.6 277.6,362.0 277.7,358.6 277.8,355.6 278.0,355.1 278.1,357.5 278.2,361.0 278.4,363.9 278.5,365.8 278.6,366.9 278.8,367.5 278.9,367.8" fill="none" stroke="#3434e4" stroke-width="1.0" stroke-opacity="1" stroke-linejoin="round"/>
<polyline points="283.1,367.4 283.3,367.1 283.4,366.6 283.5,365.7 283.7,364.1 283.8,361.6 283.9,358.4 284.1,355.6 284.2,355.0 284.3,357.1 284.5,360.2 284.6,362.9 284.7,364.8 284.9,365.8 285.0,366.3 285.1,366.5 285.3,366.6" fill="none" stroke="#3434e4" stroke-width="1.0" stroke-opacity="1" stroke-linejoin="round"/>
<polyline points="285.8,366.4 285.9,366.2 286.1,365.9 286.2,365.2 286.3,363.9 286.5,361.8 286.6,358.7 286.7,355.3 286.9,353.1 287.0,353.9 287.1,356.9 287.3,360.2 287.4,362.8 287.5,364.5 287.7,365.4 287.8,365.8 287.9,366.1" fill="none" stroke="#3434e4" stroke-width="1.0" stroke-opacity="1" stroke-linejoin="round"/>
<polyline points="292.0,365.7 292.2,365.6 292.3,365.4 292.4,365.3 292.6,365.0 292.7,364.7 292.8,364.0 293.0,362.9 293.1,361.1 293.2,358.7 293.4,356.1 293.5,354.4 293.6,354.8 293.8,356.8 293.9,359.1 294.0,360.7 294.2,361.7 294.3,362.0 294.4,361.9 294.6,361.5 294.7,360.8 294.8,359.8 295.0,358.4 295.1,356.2 295.2,352.2 295.4,344.9 295.5,331.5 295.6,309.3 295.8,278.1 295.9,243.3 296.0,228.0 296.2,228.0 296.3,254.5 296.4,289.2 296.6,317.6 296.7,336.6 296.8,347.6 297.0,353.6 297.1,356.8 297.2,358.7 297.4,359.9 297.5,360.8 297.6,361.5 297.8,362.0 297.9,362.5 298.0,362.8 298.2,363.1 298.3,363.3 298.4,363.5 298.6,363.6 298.7,363.8 298.8,363.9 299.0,363.9 299.1,364.0 299.2,364.0 299.4,364.1 299.5,364.1 299.6,364.1 299.8,364.1 299.9,364.1 300.0,364.1 300.2,364.1 300.3,364.0 300.4,363.9 300.6,363.8 300.7,363.5 300.8,363.1 301.0,362.4 301.1,361.1 301.2,358.7 301.4,355.2 301.5,350.6 301.6,346.2 301.8,344.4 301.9,346.6 302.0,351.3 302.1,355.9 302.3,359.3 302.4,361.5 302.5,362.8 302.7,363.5 302.8,363.8 302.9,364.0 303.1,364.2" fill="none" stroke="#3434e4" stroke-width="1.0" stroke-opacity="1" stroke-linejoin="round"/>
<polyline points="305.6,363.7 305.7,363.6 305.9,363.4 306.0,363.1 306.1,362.7 306.3,362.1 306.4,361.0 306.5,358.9 306.7,355.4 306.8,350.0 306.9,343.1 307.1,336.1 307.2,332.4 307.3,334.9 307.5,341.5 307.6,348.6 307.7,354.4 307.9,358.2 308.0,360.4 308.1,361.7 308.3,362.4 308.4,362.8 308.5,363.0 308.7,363.2 308.8,363.4" fill="none" stroke="#3434e4" stroke-width="1.0" stroke-opacity="1" stroke-linejoin="round"/>
<polyline points="311.5,363.3 311.6,363.1 311.7,362.7 311.9,362.1 312.0,360.9 312.1,358.9 312.3,355.9 312.4,351.9 312.5,347.7 312.6,345.2 312.8,346.1 312.9,349.7 313.0,353.9 313.2,357.5 313.3,360.1 313.4,361.6 313.6,362.4 313.7,362.9 313.8,363.2" fill="none" stroke="#3434e4" stroke-width="1.0" stroke-opacity="1" stroke-linejoin="round"/>
<polyline points="317.2,363.2 317.3,362.9 317.4,362.2 317.6,361.2 317.7,359.5 317.8,357.3 318.0,354.9 318.1,353.2 318.2,353.4 318.4,355.3 318.5,357.7 318.6,359.9 318.8,361.4 318.9,362.5 319.0,363.0 319.2,363.3" fill="none" stroke="#3434e4" stroke-width="1.0" stroke-opacity="1" stroke-linejoin="round"/>
<polyline points="327.8,363.4 328.0,363.1 328.1,362.4 328.2,361.5 328.4,360.3 328.5,359.1 328.7,358.2 328.8,358.4 328.9,359.4 329.1,360.6 329.2,361.8 329.3,362.6 329.5,363.1" fill="none" stroke="#3434e4" stroke-width="1.0" stroke-opacity="1" stroke-linejoin="round"/>
<polyline points="332.1,363.1 332.3,362.7 332.4,362.3 332.5,361.9 332.7,361.9 332.8,362.2 332.9,362.6 333.1,363.0 333.2,363.2" fill="none" stroke="#3434e4" stroke-width="1.0" stroke-opacity="1" stroke-linejoin="round"/>
<polyline points="333.9,363.2 334.0,362.9 334.1,362.4 334.3,361.6 334.4,360.2 334.5,358.2 334.7,355.8 334.8,353.6 334.9,352.7 335.1,353.5 335.2,355.7 335.3,358.1 335.5,360.1 335.6,361.5 335.7,362.5 335.9,363.0 336.0,363.3" fill="none" stroke="#3434e4" stroke-width="1.0" stroke-opacity="1" stroke-linejoin="round"/>
<polyline points="345.1,363.2 345.2,362.9 345.3,362.5 345.5,361.7 345.6,360.4 345.7,358.5 345.9,355.7 346.0,352.5 346.1,349.4 346.3,347.8 346.4,348.7 346.5,351.5 346.7,354.8 346.8,357.7 346.9,359.9 347.1,361.4 347.2,362.3 347.3,362.8 347.5,363.1 347.6,363.3" fill="none" stroke="#3434e4" stroke-width="1.0" stroke-opacity="1" stroke-linejoin="round"/>
<polyline points="348.8,363.2 348.9,362.8 349.1,362.4 349.2,361.9 349.3,361.6 349.5,361.6 349.6,361.9 349.7,362.4 349.9,362.9 350.0,363.3" fill="none" stroke="#3434e4" stroke-width="1.0" stroke-opacity="1" stroke-linejoin="round"/>
<polyline points="356.9,363.1 357.0,362.9 357.2,362.7 357.3,362.2 357.4,361.5 357.6,360.4 357.7,358.5 357.8,355.6 358.0,351.8 358.1,347.3 358.2,343.1 358.4,341.0 358.5,342.1 358.6,345.8 358.8,350.4 358.9,354.4 359.0,357.5 359.2,359.7 359.3,360.9 359.4,361.7 359.6,362.0 359.7,362.1 359.8,362.0 360.0,361.5 360.1,360.7 360.2,359.5 360.4,358.0 360.5,356.4 360.7,355.2 360.8,355.1 360.9,356.1 361.1,357.8 361.2,359.5 361.3,360.9 361.5,361.9 361.6,362.6 361.7,363.0 361.9,363.3" fill="none" stroke="#3434e4" stroke-width="1.0" stroke-opacity="1" stroke-linejoin="round"/>
<polyline points="370.0,363.2 370.1,362.8 370.3,362.2 370.4,361.3 370.5,360.3 370.7,359.2 370.8,358.4 370.9,358.2 371.1,358.9 371.2,359.9 371.3,361.0 371.5,362.0 371.6,362.7 371.7,363.1" fill="none" stroke="#3434e4" stroke-width="1.0" stroke-opacity="1" stroke-linejoin="round"/>
<polyline points="376.3,363.3 376.4,363.0 376.5,362.5 376.7,361.7 376.8,360.9 376.9,360.0 377.1,359.3 377.2,359.2 377.3,359.7 377.5,360.5 377.6,361.4 377.7,362.2 377.8,362.8 378.0,363.2" fill="none" stroke="#3434e4" stroke-width="1.0" stroke-opacity="1" stroke-linejoin="round"/>
<polyline points="380.8,363.3 380.9,362.9 381.0,362.4 381.2,361.6 381.3,360.6 381.4,359.2 381.6,357.8 381.7,356.6 381.8,356.1 382.0,356.6 382.1,357.9 382.2,359.4 382.4,360.7 382.5,361.7 382.6,362.5 382.8,363.0 382.9,363.3" fill="none" stroke="#3434e4" stroke-width="1.0" stroke-opacity="1" stroke-linejoin="round"/>
<polyline points="386.8,363.2 386.9,362.9 387.0,362.6 387.2,362.0 387.3,361.0 387.4,359.6 387.6,357.7 387.7,355.3 387.8,352.7 388.0,350.6 388.1,349.8 388.2,350.7 388.4,352.8 388.5,355.4 388.6,357.8 388.7,359.7 388.9,361.1 389.0,362.0 389.1,362.6 389.3,362.9 389.4,363.2" fill="none" stroke="#3434e4" stroke-width="1.0" stroke-opacity="1" stroke-linejoin="round"/>
<polyline points="391.7,363.1 391.8,362.8 391.9,362.3 392.1,361.5 392.2,360.4 392.3,359.0 392.5,357.5 392.6,356.1 392.7,355.3 392.9,355.6 393.0,356.7 393.1,358.3 393.3,359.8 393.4,361.1 393.5,362.0 393.7,362.7 393.8,363.1 393.9,363.3" fill="none" stroke="#3434e4" stroke-width="1.0" stroke-opacity="1" stroke-linejoin="round"/>
<polyline points="405.6,363.4 405.8,363.2 405.9,362.8 406.0,362.2 406.2,361.3 406.3,360.1 406.4,358.6 406.6,357.1 406.7,355.8 406.8,355.3 407.0,355.8 407.1,357.1 407.2,358.6 407.4,360.1 407.5,361.3 407.6,362.2 407.8,362.8 407.9,363.2 408.0,363.5" fill="none" stroke="#3434e4" stroke-width="1.0" stroke-opacity="1" stroke-linejoin="round"/>
<polyline points="425.6,363.4 425.7,363.1 425.8,362.6 426.0,362.0 426.1,361.0 426.2,359.8 426.4,358.3 426.5,356.9 426.6,355.7 426.8,355.3 426.9,355.8 427.0,357.0 427.2,358.5 427.3,359.9 427.4,361.1 427.6,362.0 427.7,362.7 427.8,363.1 428.0,363.4" fill="none" stroke="#3434e4" stroke-width="1.0" stroke-opacity="1" stroke-linejoin="round"/>
<polyline points="432.0,363.6 432.1,363.3 432.2,362.8 432.4,362.3 432.5,361.5 432.6,360.7 432.8,359.8 432.9,359.2 433.0,359.0 433.2,359.3 433.3,360.0 433.4,360.9 433.6,361.7 433.7,362.4 433.8,363.0 434.0,363.4 434.1,363.6" fill="none" stroke="#3434e4" stroke-width="1.0" stroke-opacity="1" stroke-linejoin="round"/>
<polyline points="438.7,363.7 438.9,363.4 439.0,363.1 439.1,362.6 439.3,362.1 439.4,361.5 439.5,361.1 439.7,361.0 439.8,361.3 439.9,361.7 440.1,362.3 440.2,362.8 440.3,363.2 440.5,363.6" fill="none" stroke="#3434e4" stroke-width="1.0" stroke-opacity="1" stroke-linejoin="round"/>
<polyline points="456.3,364.0 456.4,363.8 456.6,363.7 456.7,363.4 456.8,363.0 457.0,362.4 457.1,361.6 457.2,360.4 457.4,358.9 457.5,357.1 457.6,355.0 457.8,353.0 457.9,351.4 458.0,350.7 458.2,350.9 458.3,351.7 458.4,352.5 458.6,352.9 458.7,352.8 458.8,352.3 459.0,351.6 459.1,351.2 459.2,351.6 459.4,352.9 459.5,354.7 459.6,356.7 459.8,358.5 459.9,360.1 460.0,361.4 460.2,362.3 460.3,363.0 460.4,363.4 460.6,363.7 460.7,363.9 460.8,364.1" fill="none" stroke="#3434e4" stroke-width="1.0" stroke-opacity="1" stroke-linejoin="round"/>
<polyline points="463.2,364.2 463.4,363.9 463.5,363.5 463.6,363.1 463.8,362.5 463.9,361.9 464.0,361.3 464.2,361.0 464.3,361.0 464.4,361.3 464.6,361.8 464.7,362.4 464.8,363.0 465.0,363.5 465.1,363.9 465.2,364.3" fill="none" stroke="#3434e4" stroke-width="1.0" stroke-opacity="1" stroke-linejoin="round"/>
<polyline points="487.5,365.0 487.6,364.7 487.7,364.3 487.9,363.8 488.0,363.3 488.1,362.7 488.3,362.2 488.4,361.9 488.5,361.9 488.7,362.2 488.8,362.7 489.0,363.3 489.1,363.8 489.2,364.3 489.4,364.7 489.5,365.0" fill="none" stroke="#3434e4" stroke-width="1.0" stroke-opacity="1" stroke-linejoin="round"/>
<line x1="274.48" y1="373.5" x2="274.48" y2="369.02" stroke="#b8b8d8" stroke-width="1.5"/>
<line x1="274.96" y1="373.5" x2="274.96" y2="369.15" stroke="#c0d8f0" stroke-width="1.2"/>
<line x1="275.26" y1="373.5" x2="275.26" y2="369.14" stroke="#50d850" stroke-width="1.8"/>
<line x1="276.35" y1="373.5" x2="276.35" y2="369.08" stroke="#c0d8f0" stroke-width="1.5"/>
<line x1="278.49" y1="373.5" x2="278.49" y2="369.38" stroke="#b8b8d8" stroke-width="1.8"/>
<line x1="279.03" y1="373.5" x2="279.03" y2="369.13" stroke="#4040d0" stroke-width="1.5"/>
<line x1="279.13" y1="373.5" x2="279.13" y2="368.93" stroke="#50d850" stroke-width="1.2"/>
<line x1="279.29" y1="373.5" x2="279.29" y2="369.38" stroke="#b0b0b0" stroke-width="1.0"/>
<line x1="279.99" y1="373.5" x2="279.99" y2="368.59" stroke="#50d850" stroke-width="1.5"/>
<line x1="280.43" y1="373.5" x2="280.43" y2="369.04" stroke="#50d850" stroke-width="1.5"/>
<line x1="280.65" y1="373.5" x2="280.65" y2="369.40" stroke="#c0d8f0" stroke-width="1.0"/>
<line x1="281.22" y1="373.5" x2="281.22" y2="369.32" stroke="#c0d8f0" stroke-width="1.5"/>
<line x1="284.07" y1="373.5" x2="284.07" y2="368.66" stroke="#50d850" stroke-width="1.2"/>
<line x1="285.02" y1="373.5" x2="285.02" y2="367.51" stroke="#50d850" stroke-width="1.5"/>
<line x1="286.17" y1="373.5" x2="286.17" y2="368.35" stroke="#4040d0" stroke-width="1.2"/>
<line x1="287.38" y1="373.5" x2="287.38" y2="366.90" stroke="#50d850" stroke-width="1.5"/>
<line x1="290.56" y1="373.5" x2="290.56" y2="366.86" stroke="#c0d8f0" stroke-width="1.2"/>
<line x1="290.71" y1="373.5" x2="290.71" y2="367.34" stroke="#b0b0b0" stroke-width="1.2"/>
<line x1="291.12" y1="373.5" x2="291.12" y2="367.39" stroke="#907050" stroke-width="1.8"/>
<line x1="291.73" y1="373.5" x2="291.73" y2="367.14" stroke="#b0b0b0" stroke-width="1.8"/>
<line x1="291.99" y1="373.5" x2="291.99" y2="367.55" stroke="#b8b8d8" stroke-width="1.8"/>
<line x1="292.13" y1="373.5" x2="292.13" y2="367.69" stroke="#50d850" stroke-width="1.0"/>
<line x1="292.34" y1="373.5" x2="292.34" y2="367.72" stroke="#b0b0b0" stroke-width="1.2"/>
<line x1="293.97" y1="373.5" x2="293.97" y2="366.69" stroke="#b0b0b0" stroke-width="1.5"/>
<line x1="294.01" y1="373.5" x2="294.01" y2="366.81" stroke="#b8b8d8" stroke-width="1.5"/>
<line x1="294.21" y1="373.5" x2="294.21" y2="367.31" stroke="#50d850" stroke-width="1.0"/>
<line x1="294.78" y1="373.5" x2="294.78" y2="367.09" stroke="#b0b0b0" stroke-width="1.0"/>
<line x1="295.46" y1="373.5" x2="295.46" y2="366.11" stroke="#b0b0b0" stroke-width="1.2"/>
<line x1="295.73" y1="373.5" x2="295.73" y2="366.37" stroke="#50d850" stroke-width="1.2"/>
<line x1="295.81" y1="373.5" x2="295.81" y2="367.23" stroke="#b0b0b0" stroke-width="1.8"/>
<line x1="296.88" y1="373.5" x2="296.88" y2="365.52" stroke="#b8b8d8" stroke-width="1.8"/>
<line x1="297.15" y1="373.5" x2="297.15" y2="365.75" stroke="#b0b0b0" stroke-width="1.0"/>
<line x1="297.43" y1="373.5" x2="297.43" y2="366.39" stroke="#b0b0b0" stroke-width="1.0"/>
<line x1="297.46" y1="373.5" x2="297.46" y2="365.86" stroke="#b8b8d8" stroke-width="1.5"/>
<line x1="297.56" y1="373.5" x2="297.56" y2="366.72" stroke="#b0b0b0" stroke-width="1.0"/>
<line x1="298.98" y1="373.5" x2="298.98" y2="365.25" stroke="#b8b8d8" stroke-width="1.5"/>
<line x1="299.83" y1="373.5" x2="299.83" y2="366.02" stroke="#b8b8d8" stroke-width="1.0"/>
<line x1="300.20" y1="373.5" x2="300.20" y2="366.52" stroke="#50d850" stroke-width="1.8"/>
<line x1="300.29" y1="373.5" x2="300.29" y2="365.04" stroke="#c0d8f0" stroke-width="1.0"/>
<line x1="300.97" y1="373.5" x2="300.97" y2="366.34" stroke="#b8b8d8" stroke-width="1.0"/>
<line x1="300.99" y1="373.5" x2="300.99" y2="365.72" stroke="#50d850" stroke-width="1.2"/>
<line x1="301.18" y1="373.5" x2="301.18" y2="365.86" stroke="#b8b8d8" stroke-width="1.8"/>
<line x1="302.13" y1="373.5" x2="302.13" y2="366.38" stroke="#b0b0b0" stroke-width="1.8"/>
<line x1="303.01" y1="373.5" x2="303.01" y2="366.59" stroke="#b0b0b0" stroke-width="1.8"/>
<line x1="303.61" y1="373.5" x2="303.61" y2="366.13" stroke="#50d850" stroke-width="1.2"/>
<line x1="304.11" y1="373.5" x2="304.11" y2="366.02" stroke="#50d850" stroke-width="1.2"/>
<line x1="304.33" y1="373.5" x2="304.33" y2="364.71" stroke="#b8b8d8" stroke-width="1.0"/>
<line x1="304.40" y1="373.5" x2="304.40" y2="365.67" stroke="#50d850" stroke-width="1.2"/>
<line x1="305.57" y1="373.5" x2="305.57" y2="365.62" stroke="#b0b0b0" stroke-width="1.0"/>
<line x1="305.59" y1="373.5" x2="305.59" y2="366.39" stroke="#b8b8d8" stroke-width="1.8"/>
<line x1="307.64" y1="373.5" x2="307.64" y2="365.50" stroke="#50d850" stroke-width="1.5"/>
<line x1="307.95" y1="373.5" x2="307.95" y2="365.19" stroke="#b8b8d8" stroke-width="1.5"/>
<line x1="309.36" y1="373.5" x2="309.36" y2="364.88" stroke="#c0d8f0" stroke-width="1.0"/>
<line x1="309.81" y1="373.5" x2="309.81" y2="366.03" stroke="#b0b0b0" stroke-width="1.2"/>
<line x1="310.05" y1="373.5" x2="310.05" y2="364.64" stroke="#50d850" stroke-width="1.2"/>
<line x1="310.91" y1="373.5" x2="310.91" y2="364.20" stroke="#50d850" stroke-width="1.5"/>
<line x1="311.53" y1="373.5" x2="311.53" y2="366.07" stroke="#b8b8d8" stroke-width="1.0"/>
<line x1="311.92" y1="373.5" x2="311.92" y2="364.23" stroke="#b8b8d8" stroke-width="1.8"/>
<line x1="312.88" y1="373.5" x2="312.88" y2="364.93" stroke="#c0d8f0" stroke-width="1.8"/>
<line x1="313.37" y1="373.5" x2="313.37" y2="364.82" stroke="#c0d8f0" stroke-width="1.0"/>
<line x1="313.71" y1="373.5" x2="313.71" y2="364.54" stroke="#b8b8d8" stroke-width="1.5"/>
<line x1="315.05" y1="373.5" x2="315.05" y2="365.46" stroke="#b0b0b0" stroke-width="1.5"/>
<line x1="315.14" y1="373.5" x2="315.14" y2="364.48" stroke="#c0d8f0" stroke-width="1.8"/>
<line x1="315.70" y1="373.5" x2="315.70" y2="364.51" stroke="#50d850" stroke-width="1.0"/>
<line x1="316.65" y1="373.5" x2="316.65" y2="365.86" stroke="#b8b8d8" stroke-width="1.8"/>
<line x1="316.89" y1="373.5" x2="316.89" y2="365.31" stroke="#50d850" stroke-width="1.2"/>
<line x1="319.01" y1="373.5" x2="319.01" y2="365.44" stroke="#b8b8d8" stroke-width="1.8"/>
<line x1="319.74" y1="373.5" x2="319.74" y2="365.19" stroke="#c0d8f0" stroke-width="1.0"/>
<line x1="320.13" y1="373.5" x2="320.13" y2="364.44" stroke="#907050" stroke-width="1.5"/>
<line x1="322.17" y1="373.5" x2="322.17" y2="365.41" stroke="#c0d8f0" stroke-width="1.2"/>
<line x1="322.30" y1="373.5" x2="322.30" y2="365.56" stroke="#4040d0" stroke-width="1.0"/>
<line x1="323.19" y1="373.5" x2="323.19" y2="364.25" stroke="#b0b0b0" stroke-width="1.8"/>
<line x1="323.75" y1="373.5" x2="323.75" y2="364.94" stroke="#c0d8f0" stroke-width="1.8"/>
<line x1="324.58" y1="373.5" x2="324.58" y2="365.16" stroke="#b8b8d8" stroke-width="1.2"/>
<line x1="326.72" y1="373.5" x2="326.72" y2="364.81" stroke="#50d850" stroke-width="1.0"/>
<line x1="330.09" y1="373.5" x2="330.09" y2="365.16" stroke="#50d850" stroke-width="1.0"/>
<line x1="330.20" y1="373.5" x2="330.20" y2="365.52" stroke="#b8b8d8" stroke-width="1.5"/>
<line x1="330.90" y1="373.5" x2="330.90" y2="364.13" stroke="#50d850" stroke-width="1.8"/>
<line x1="335.08" y1="373.5" x2="335.08" y2="365.52" stroke="#50d850" stroke-width="1.8"/>
<line x1="335.68" y1="373.5" x2="335.68" y2="365.06" stroke="#b0b0b0" stroke-width="1.0"/>
<line x1="335.93" y1="373.5" x2="335.93" y2="364.76" stroke="#50d850" stroke-width="1.5"/>
<line x1="336.26" y1="373.5" x2="336.26" y2="365.52" stroke="#c0d8f0" stroke-width="1.0"/>
<line x1="336.55" y1="373.5" x2="336.55" y2="365.54" stroke="#50d850" stroke-width="1.8"/>
<line x1="336.79" y1="373.5" x2="336.79" y2="364.19" stroke="#50d850" stroke-width="1.5"/>
<line x1="337.02" y1="373.5" x2="337.02" y2="365.77" stroke="#4040d0" stroke-width="1.5"/>
<line x1="338.31" y1="373.5" x2="338.31" y2="364.86" stroke="#907050" stroke-width="1.8"/>
<line x1="338.31" y1="373.5" x2="338.31" y2="365.35" stroke="#b0b0b0" stroke-width="1.2"/>
<line x1="340.67" y1="373.5" x2="340.67" y2="365.39" stroke="#b0b0b0" stroke-width="1.0"/>
<line x1="342.03" y1="373.5" x2="342.03" y2="365.54" stroke="#c0d8f0" stroke-width="1.2"/>
<line x1="342.40" y1="373.5" x2="342.40" y2="364.13" stroke="#50d850" stroke-width="1.0"/>
<line x1="342.92" y1="373.5" x2="342.92" y2="365.84" stroke="#c0d8f0" stroke-width="1.8"/>
<line x1="343.19" y1="373.5" x2="343.19" y2="364.28" stroke="#c0d8f0" stroke-width="1.2"/>
<line x1="343.71" y1="373.5" x2="343.71" y2="365.33" stroke="#50d850" stroke-width="1.0"/>
<line x1="343.81" y1="373.5" x2="343.81" y2="364.39" stroke="#4040d0" stroke-width="1.5"/>
<line x1="345.18" y1="373.5" x2="345.18" y2="364.76" stroke="#b0b0b0" stroke-width="1.5"/>
<line x1="346.38" y1="373.5" x2="346.38" y2="364.79" stroke="#b8b8d8" stroke-width="1.0"/>
<line x1="346.54" y1="373.5" x2="346.54" y2="365.26" stroke="#c0d8f0" stroke-width="1.2"/>
<line x1="346.76" y1="373.5" x2="346.76" y2="365.73" stroke="#50d850" stroke-width="1.5"/>
<line x1="347.57" y1="373.5" x2="347.57" y2="365.13" stroke="#50d850" stroke-width="1.5"/>
<line x1="348.28" y1="373.5" x2="348.28" y2="364.97" stroke="#50d850" stroke-width="1.8"/>
<line x1="353.79" y1="373.5" x2="353.79" y2="364.98" stroke="#50d850" stroke-width="1.0"/>
<line x1="355.11" y1="373.5" x2="355.11" y2="364.24" stroke="#c0d8f0" stroke-width="1.8"/>
<line x1="355.40" y1="373.5" x2="355.40" y2="364.91" stroke="#907050" stroke-width="1.8"/>
<line x1="355.81" y1="373.5" x2="355.81" y2="364.55" stroke="#c0d8f0" stroke-width="1.0"/>
<line x1="358.16" y1="373.5" x2="358.16" y2="364.99" stroke="#c0d8f0" stroke-width="1.8"/>
<line x1="358.83" y1="373.5" x2="358.83" y2="365.00" stroke="#50d850" stroke-width="1.5"/>
<line x1="359.01" y1="373.5" x2="359.01" y2="365.72" stroke="#b8b8d8" stroke-width="1.2"/>
<line x1="359.18" y1="373.5" x2="359.18" y2="364.01" stroke="#b0b0b0" stroke-width="1.5"/>
<line x1="359.25" y1="373.5" x2="359.25" y2="365.95" stroke="#b8b8d8" stroke-width="1.2"/>
<line x1="360.87" y1="373.5" x2="360.87" y2="365.93" stroke="#4040d0" stroke-width="1.0"/>
<line x1="364.44" y1="373.5" x2="364.44" y2="365.74" stroke="#50d850" stroke-width="1.8"/>
<line x1="364.81" y1="373.5" x2="364.81" y2="364.35" stroke="#b8b8d8" stroke-width="1.8"/>
<line x1="365.79" y1="373.5" x2="365.79" y2="364.64" stroke="#4040d0" stroke-width="1.0"/>
<line x1="365.89" y1="373.5" x2="365.89" y2="365.77" stroke="#b0b0b0" stroke-width="1.0"/>
<line x1="366.09" y1="373.5" x2="366.09" y2="365.39" stroke="#50d850" stroke-width="1.5"/>
<line x1="366.12" y1="373.5" x2="366.12" y2="365.86" stroke="#50d850" stroke-width="1.8"/>
<line x1="366.15" y1="373.5" x2="366.15" y2="364.16" stroke="#b8b8d8" stroke-width="1.2"/>
<line x1="366.49" y1="373.5" x2="366.49" y2="364.45" stroke="#b8b8d8" stroke-width="1.5"/>
<line x1="367.75" y1="373.5" x2="367.75" y2="364.03" stroke="#b0b0b0" stroke-width="1.2"/>
<line x1="368.80" y1="373.5" x2="368.80" y2="364.00" stroke="#b0b0b0" stroke-width="1.2"/>
<line x1="370.02" y1="373.5" x2="370.02" y2="365.70" stroke="#c0d8f0" stroke-width="1.5"/>
<line x1="370.54" y1="373.5" x2="370.54" y2="365.13" stroke="#b8b8d8" stroke-width="1.8"/>
<line x1="370.66" y1="373.5" x2="370.66" y2="364.11" stroke="#b0b0b0" stroke-width="1.5"/>
<line x1="372.37" y1="373.5" x2="372.37" y2="365.80" stroke="#c0d8f0" stroke-width="1.2"/>
<line x1="373.05" y1="373.5" x2="373.05" y2="365.07" stroke="#c0d8f0" stroke-width="1.8"/>
<line x1="373.29" y1="373.5" x2="373.29" y2="364.55" stroke="#4040d0" stroke-width="1.5"/>
<line x1="373.59" y1="373.5" x2="373.59" y2="364.41" stroke="#c0d8f0" stroke-width="1.2"/>
<line x1="373.89" y1="373.5" x2="373.89" y2="365.58" stroke="#50d850" stroke-width="1.8"/>
<line x1="375.03" y1="373.5" x2="375.03" y2="365.04" stroke="#b8b8d8" stroke-width="1.8"/>
<line x1="376.52" y1="373.5" x2="376.52" y2="365.75" stroke="#4040d0" stroke-width="1.5"/>
<line x1="376.53" y1="373.5" x2="376.53" y2="365.22" stroke="#b0b0b0" stroke-width="1.0"/>
<line x1="377.44" y1="373.5" x2="377.44" y2="364.89" stroke="#b8b8d8" stroke-width="1.5"/>
<line x1="378.28" y1="373.5" x2="378.28" y2="364.88" stroke="#b8b8d8" stroke-width="1.8"/>
<line x1="379.58" y1="373.5" x2="379.58" y2="365.57" stroke="#b0b0b0" stroke-width="1.5"/>
<line x1="379.66" y1="373.5" x2="379.66" y2="365.81" stroke="#b0b0b0" stroke-width="1.8"/>
<line x1="380.98" y1="373.5" x2="380.98" y2="364.52" stroke="#c0d8f0" stroke-width="1.2"/>
<line x1="382.66" y1="373.5" x2="382.66" y2="365.69" stroke="#b0b0b0" stroke-width="1.5"/>
<line x1="382.66" y1="373.5" x2="382.66" y2="364.06" stroke="#50d850" stroke-width="1.2"/>
<line x1="383.18" y1="373.5" x2="383.18" y2="365.72" stroke="#b8b8d8" stroke-width="1.5"/>
<line x1="384.12" y1="373.5" x2="384.12" y2="364.91" stroke="#907050" stroke-width="1.0"/>
<line x1="384.12" y1="373.5" x2="384.12" y2="365.35" stroke="#b8b8d8" stroke-width="1.0"/>
<line x1="386.23" y1="373.5" x2="386.23" y2="365.31" stroke="#b0b0b0" stroke-width="1.5"/>
<line x1="386.40" y1="373.5" x2="386.40" y2="364.77" stroke="#b8b8d8" stroke-width="1.8"/>
<line x1="386.73" y1="373.5" x2="386.73" y2="364.99" stroke="#b8b8d8" stroke-width="1.2"/>
<line x1="386.79" y1="373.5" x2="386.79" y2="365.88" stroke="#b8b8d8" stroke-width="1.0"/>
<line x1="387.16" y1="373.5" x2="387.16" y2="365.59" stroke="#50d850" stroke-width="1.8"/>
<line x1="387.31" y1="373.5" x2="387.31" y2="365.61" stroke="#50d850" stroke-width="1.5"/>
<line x1="388.06" y1="373.5" x2="388.06" y2="364.99" stroke="#50d850" stroke-width="1.0"/>
<line x1="388.07" y1="373.5" x2="388.07" y2="365.49" stroke="#b8b8d8" stroke-width="1.5"/>
<line x1="388.20" y1="373.5" x2="388.20" y2="364.83" stroke="#c0d8f0" stroke-width="1.5"/>
<line x1="389.92" y1="373.5" x2="389.92" y2="365.25" stroke="#907050" stroke-width="1.8"/>
<line x1="390.06" y1="373.5" x2="390.06" y2="364.61" stroke="#c0d8f0" stroke-width="1.8"/>
<line x1="390.12" y1="373.5" x2="390.12" y2="365.14" stroke="#4040d0" stroke-width="1.0"/>
<line x1="392.45" y1="373.5" x2="392.45" y2="364.40" stroke="#b0b0b0" stroke-width="1.0"/>
<line x1="395.65" y1="373.5" x2="395.65" y2="365.13" stroke="#c0d8f0" stroke-width="1.5"/>
<line x1="395.76" y1="373.5" x2="395.76" y2="364.03" stroke="#50d850" stroke-width="1.0"/>
<line x1="396.22" y1="373.5" x2="396.22" y2="365.18" stroke="#50d850" stroke-width="1.8"/>
<line x1="397.46" y1="373.5" x2="397.46" y2="365.83" stroke="#b0b0b0" stroke-width="1.8"/>
<line x1="397.49" y1="373.5" x2="397.49" y2="364.09" stroke="#c0d8f0" stroke-width="1.2"/>
<line x1="397.98" y1="373.5" x2="397.98" y2="365.28" stroke="#b0b0b0" stroke-width="1.8"/>
<line x1="399.15" y1="373.5" x2="399.15" y2="365.52" stroke="#4040d0" stroke-width="1.5"/>
<line x1="402.16" y1="373.5" x2="402.16" y2="364.51" stroke="#50d850" stroke-width="1.8"/>
<line x1="402.56" y1="373.5" x2="402.56" y2="365.43" stroke="#c0d8f0" stroke-width="1.2"/>
<line x1="402.78" y1="373.5" x2="402.78" y2="364.54" stroke="#4040d0" stroke-width="1.2"/>
<line x1="403.69" y1="373.5" x2="403.69" y2="365.49" stroke="#b8b8d8" stroke-width="1.2"/>
<line x1="404.42" y1="373.5" x2="404.42" y2="364.06" stroke="#b8b8d8" stroke-width="1.8"/>
<line x1="406.29" y1="373.5" x2="406.29" y2="364.53" stroke="#50d850" stroke-width="1.8"/>
<line x1="407.85" y1="373.5" x2="407.85" y2="364.53" stroke="#c0d8f0" stroke-width="1.8"/>
<line x1="407.93" y1="373.5" x2="407.93" y2="364.74" stroke="#c0d8f0" stroke-width="1.2"/>
<line x1="409.72" y1="373.5" x2="409.72" y2="364.91" stroke="#b0b0b0" stroke-width="1.5"/>
<line x1="409.98" y1="373.5" x2="409.98" y2="364.26" stroke="#907050" stroke-width="1.8"/>
<line x1="410.88" y1="373.5" x2="410.88" y2="365.20" stroke="#b0b0b0" stroke-width="1.5"/>
<line x1="411.51" y1="373.5" x2="411.51" y2="364.11" stroke="#c0d8f0" stroke-width="1.5"/>
<line x1="413.39" y1="373.5" x2="413.39" y2="364.49" stroke="#b0b0b0" stroke-width="1.2"/>
<line x1="413.58" y1="373.5" x2="413.58" y2="364.45" stroke="#b0b0b0" stroke-width="1.2"/>
<line x1="414.49" y1="373.5" x2="414.49" y2="365.05" stroke="#50d850" stroke-width="1.5"/>
<line x1="416.27" y1="373.5" x2="416.27" y2="365.20" stroke="#c0d8f0" stroke-width="1.0"/>
<line x1="419.79" y1="373.5" x2="419.79" y2="365.09" stroke="#50d850" stroke-width="1.0"/>
<line x1="420.72" y1="373.5" x2="420.72" y2="365.29" stroke="#b8b8d8" stroke-width="1.0"/>
<line x1="423.40" y1="373.5" x2="423.40" y2="364.89" stroke="#907050" stroke-width="1.5"/>
<line x1="423.73" y1="373.5" x2="423.73" y2="365.87" stroke="#c0d8f0" stroke-width="1.2"/>
<line x1="423.98" y1="373.5" x2="423.98" y2="365.78" stroke="#4040d0" stroke-width="1.8"/>
<line x1="425.26" y1="373.5" x2="425.26" y2="365.36" stroke="#b0b0b0" stroke-width="1.2"/>
<line x1="425.41" y1="373.5" x2="425.41" y2="364.96" stroke="#907050" stroke-width="1.8"/>
<line x1="425.49" y1="373.5" x2="425.49" y2="365.42" stroke="#907050" stroke-width="1.8"/>
<line x1="427.26" y1="373.5" x2="427.26" y2="365.29" stroke="#b8b8d8" stroke-width="1.0"/>
<line x1="428.11" y1="373.5" x2="428.11" y2="365.31" stroke="#c0d8f0" stroke-width="1.5"/>
<line x1="428.50" y1="373.5" x2="428.50" y2="364.97" stroke="#4040d0" stroke-width="1.0"/>
<line x1="429.04" y1="373.5" x2="429.04" y2="365.99" stroke="#50d850" stroke-width="1.5"/>
<line x1="429.54" y1="373.5" x2="429.54" y2="365.90" stroke="#b0b0b0" stroke-width="1.0"/>
<line x1="431.24" y1="373.5" x2="431.24" y2="365.08" stroke="#b8b8d8" stroke-width="1.5"/>
<line x1="432.47" y1="373.5" x2="432.47" y2="365.67" stroke="#907050" stroke-width="1.5"/>
<line x1="434.21" y1="373.5" x2="434.21" y2="364.23" stroke="#50d850" stroke-width="1.0"/>
<line x1="434.34" y1="373.5" x2="434.34" y2="365.74" stroke="#b8b8d8" stroke-width="1.0"/>
<line x1="434.54" y1="373.5" x2="434.54" y2="365.14" stroke="#50d850" stroke-width="1.0"/>
<line x1="434.70" y1="373.5" x2="434.70" y2="365.29" stroke="#b8b8d8" stroke-width="1.0"/>
<line x1="436.19" y1="373.5" x2="436.19" y2="365.46" stroke="#50d850" stroke-width="1.8"/>
<line x1="437.50" y1="373.5" x2="437.50" y2="366.13" stroke="#50d850" stroke-width="1.0"/>
<line x1="438.22" y1="373.5" x2="438.22" y2="364.92" stroke="#c0d8f0" stroke-width="1.2"/>
<line x1="438.39" y1="373.5" x2="438.39" y2="366.06" stroke="#50d850" stroke-width="1.5"/>
<line x1="438.46" y1="373.5" x2="438.46" y2="365.26" stroke="#b8b8d8" stroke-width="1.2"/>
<line x1="438.59" y1="373.5" x2="438.59" y2="364.98" stroke="#50d850" stroke-width="1.5"/>
<line x1="439.04" y1="373.5" x2="439.04" y2="366.12" stroke="#b0b0b0" stroke-width="1.2"/>
<line x1="439.89" y1="373.5" x2="439.89" y2="364.94" stroke="#907050" stroke-width="1.0"/>
<line x1="440.77" y1="373.5" x2="440.77" y2="365.04" stroke="#50d850" stroke-width="1.0"/>
<line x1="441.29" y1="373.5" x2="441.29" y2="364.75" stroke="#b0b0b0" stroke-width="1.0"/>
<line x1="442.97" y1="373.5" x2="442.97" y2="366.01" stroke="#907050" stroke-width="1.5"/>
<line x1="444.01" y1="373.5" x2="444.01" y2="364.78" stroke="#b8b8d8" stroke-width="1.0"/>
<line x1="444.32" y1="373.5" x2="444.32" y2="365.80" stroke="#b8b8d8" stroke-width="1.8"/>
<line x1="444.55" y1="373.5" x2="444.55" y2="364.41" stroke="#c0d8f0" stroke-width="1.2"/>
<line x1="444.77" y1="373.5" x2="444.77" y2="364.58" stroke="#4040d0" stroke-width="1.5"/>
<line x1="444.86" y1="373.5" x2="444.86" y2="364.74" stroke="#b8b8d8" stroke-width="1.8"/>
<line x1="444.89" y1="373.5" x2="444.89" y2="366.06" stroke="#c0d8f0" stroke-width="1.2"/>
<line x1="445.57" y1="373.5" x2="445.57" y2="364.85" stroke="#907050" stroke-width="1.0"/>
<line x1="445.64" y1="373.5" x2="445.64" y2="366.22" stroke="#b8b8d8" stroke-width="1.2"/>
<line x1="445.87" y1="373.5" x2="445.87" y2="365.11" stroke="#907050" stroke-width="1.5"/>
<line x1="446.42" y1="373.5" x2="446.42" y2="365.40" stroke="#b0b0b0" stroke-width="1.0"/>
<line x1="447.98" y1="373.5" x2="447.98" y2="364.75" stroke="#50d850" stroke-width="1.5"/>
<line x1="448.75" y1="373.5" x2="448.75" y2="366.27" stroke="#50d850" stroke-width="1.5"/>
<line x1="449.08" y1="373.5" x2="449.08" y2="365.97" stroke="#50d850" stroke-width="1.0"/>
<line x1="449.11" y1="373.5" x2="449.11" y2="364.99" stroke="#c0d8f0" stroke-width="1.8"/>
<line x1="449.97" y1="373.5" x2="449.97" y2="364.55" stroke="#907050" stroke-width="1.8"/>
<line x1="451.06" y1="373.5" x2="451.06" y2="366.27" stroke="#c0d8f0" stroke-width="1.5"/>
<line x1="451.21" y1="373.5" x2="451.21" y2="365.70" stroke="#b8b8d8" stroke-width="1.0"/>
<line x1="451.55" y1="373.5" x2="451.55" y2="365.81" stroke="#b8b8d8" stroke-width="1.8"/>
<line x1="451.69" y1="373.5" x2="451.69" y2="366.22" stroke="#c0d8f0" stroke-width="1.2"/>
<line x1="452.28" y1="373.5" x2="452.28" y2="364.57" stroke="#b8b8d8" stroke-width="1.8"/>
<line x1="452.59" y1="373.5" x2="452.59" y2="365.25" stroke="#50d850" stroke-width="1.5"/>
<line x1="453.59" y1="373.5" x2="453.59" y2="366.03" stroke="#50d850" stroke-width="1.8"/>
<line x1="454.13" y1="373.5" x2="454.13" y2="365.28" stroke="#b0b0b0" stroke-width="1.5"/>
<line x1="455.51" y1="373.5" x2="455.51" y2="364.75" stroke="#b0b0b0" stroke-width="1.2"/>
<line x1="456.56" y1="373.5" x2="456.56" y2="365.34" stroke="#b0b0b0" stroke-width="1.0"/>
<line x1="456.80" y1="373.5" x2="456.80" y2="364.77" stroke="#b8b8d8" stroke-width="1.5"/>
<line x1="457.96" y1="373.5" x2="457.96" y2="365.53" stroke="#c0d8f0" stroke-width="1.8"/>
<line x1="459.14" y1="373.5" x2="459.14" y2="365.63" stroke="#b8b8d8" stroke-width="1.8"/>
<line x1="459.80" y1="373.5" x2="459.80" y2="364.93" stroke="#b0b0b0" stroke-width="1.0"/>
<line x1="460.88" y1="373.5" x2="460.88" y2="365.59" stroke="#b8b8d8" stroke-width="1.5"/>
<line x1="462.72" y1="373.5" x2="462.72" y2="365.10" stroke="#50d850" stroke-width="1.8"/>
<line x1="463.54" y1="373.5" x2="463.54" y2="365.49" stroke="#c0d8f0" stroke-width="1.5"/>
<line x1="463.63" y1="373.5" x2="463.63" y2="365.95" stroke="#50d850" stroke-width="1.8"/>
<line x1="463.78" y1="373.5" x2="463.78" y2="365.71" stroke="#50d850" stroke-width="1.8"/>
<line x1="463.99" y1="373.5" x2="463.99" y2="366.23" stroke="#b8b8d8" stroke-width="1.5"/>
<line x1="464.97" y1="373.5" x2="464.97" y2="366.64" stroke="#c0d8f0" stroke-width="1.2"/>
<line x1="466.09" y1="373.5" x2="466.09" y2="365.91" stroke="#50d850" stroke-width="1.8"/>
<line x1="466.91" y1="373.5" x2="466.91" y2="365.23" stroke="#c0d8f0" stroke-width="1.8"/>
<line x1="468.24" y1="373.5" x2="468.24" y2="365.45" stroke="#50d850" stroke-width="1.8"/>
<line x1="471.05" y1="373.5" x2="471.05" y2="366.07" stroke="#c0d8f0" stroke-width="1.2"/>
<line x1="471.22" y1="373.5" x2="471.22" y2="365.66" stroke="#b0b0b0" stroke-width="1.5"/>
<line x1="471.32" y1="373.5" x2="471.32" y2="366.25" stroke="#b8b8d8" stroke-width="1.5"/>
<line x1="472.17" y1="373.5" x2="472.17" y2="366.26" stroke="#c0d8f0" stroke-width="1.0"/>
<line x1="473.08" y1="373.5" x2="473.08" y2="366.45" stroke="#b8b8d8" stroke-width="1.5"/>
<line x1="474.29" y1="373.5" x2="474.29" y2="366.32" stroke="#50d850" stroke-width="1.0"/>
<line x1="476.13" y1="373.5" x2="476.13" y2="366.91" stroke="#50d850" stroke-width="1.5"/>
<line x1="476.89" y1="373.5" x2="476.89" y2="366.26" stroke="#50d850" stroke-width="1.8"/>
<line x1="476.90" y1="373.5" x2="476.90" y2="367.05" stroke="#907050" stroke-width="1.8"/>
<line x1="479.13" y1="373.5" x2="479.13" y2="366.22" stroke="#4040d0" stroke-width="1.8"/>
<line x1="479.38" y1="373.5" x2="479.38" y2="365.89" stroke="#c0d8f0" stroke-width="1.0"/>
<line x1="479.44" y1="373.5" x2="479.44" y2="366.98" stroke="#907050" stroke-width="1.0"/>
<line x1="479.69" y1="373.5" x2="479.69" y2="366.65" stroke="#c0d8f0" stroke-width="1.0"/>
<line x1="480.15" y1="373.5" x2="480.15" y2="366.62" stroke="#50d850" stroke-width="1.8"/>
<line x1="481.07" y1="373.5" x2="481.07" y2="366.81" stroke="#b0b0b0" stroke-width="1.2"/>
<line x1="482.65" y1="373.5" x2="482.65" y2="366.72" stroke="#907050" stroke-width="1.5"/>
<line x1="483.05" y1="373.5" x2="483.05" y2="365.75" stroke="#c0d8f0" stroke-width="1.2"/>
<line x1="483.56" y1="373.5" x2="483.56" y2="365.86" stroke="#c0d8f0" stroke-width="1.5"/>
<line x1="483.78" y1="373.5" x2="483.78" y2="365.67" stroke="#907050" stroke-width="1.8"/>
<line x1="484.48" y1="373.5" x2="484.48" y2="366.49" stroke="#b8b8d8" stroke-width="1.5"/>
<line x1="485.09" y1="373.5" x2="485.09" y2="367.15" stroke="#c0d8f0" stroke-width="1.0"/>
<line x1="486.58" y1="373.5" x2="486.58" y2="365.83" stroke="#4040d0" stroke-width="1.2"/>
<line x1="486.83" y1="373.5" x2="486.83" y2="366.21" stroke="#4040d0" stroke-width="1.2"/>
<line x1="487.00" y1="373.5" x2="487.00" y2="366.06" stroke="#b0b0b0" stroke-width="1.0"/>
<line x1="488.05" y1="373.5" x2="488.05" y2="367.04" stroke="#907050" stroke-width="1.5"/>
<line x1="488.93" y1="373.5" x2="488.93" y2="366.02" stroke="#c0d8f0" stroke-width="1.2"/>
<line x1="488.99" y1="373.5" x2="488.99" y2="367.04" stroke="#907050" stroke-width="1.0"/>
<line x1="489.24" y1="373.5" x2="489.24" y2="365.81" stroke="#c0d8f0" stroke-width="1.0"/>
<line x1="489.64" y1="373.5" x2="489.64" y2="366.74" stroke="#4040d0" stroke-width="1.5"/>
<line x1="490.00" y1="373.5" x2="490.00" y2="366.64" stroke="#b8b8d8" stroke-width="1.0"/>
<line x1="491.70" y1="373.5" x2="491.70" y2="366.28" stroke="#b0b0b0" stroke-width="1.5"/>
<line x1="492.45" y1="373.5" x2="492.45" y2="367.11" stroke="#b8b8d8" stroke-width="1.8"/>
<line x1="492.77" y1="373.5" x2="492.77" y2="366.38" stroke="#50d850" stroke-width="1.5"/>
<line x1="494.21" y1="373.5" x2="494.21" y2="366.02" stroke="#b8b8d8" stroke-width="1.8"/>
<line x1="495.19" y1="373.5" x2="495.19" y2="366.57" stroke="#c0d8f0" stroke-width="1.0"/>
<line x1="495.54" y1="373.5" x2="495.54" y2="366.68" stroke="#907050" stroke-width="1.0"/>
<line x1="497.65" y1="373.5" x2="497.65" y2="367.17" stroke="#c0d8f0" stroke-width="1.5"/>
<line x1="497.82" y1="373.5" x2="497.82" y2="366.71" stroke="#b8b8d8" stroke-width="1.2"/>
<line x1="498.15" y1="373.5" x2="498.15" y2="366.85" stroke="#c0d8f0" stroke-width="1.2"/>
<line x1="499.19" y1="373.5" x2="499.19" y2="367.32" stroke="#4040d0" stroke-width="1.0"/>
<line x1="500.55" y1="373.5" x2="500.55" y2="366.57" stroke="#50d850" stroke-width="1.0"/>
<line x1="500.81" y1="373.5" x2="500.81" y2="367.70" stroke="#b0b0b0" stroke-width="1.2"/>
<line x1="501.44" y1="373.5" x2="501.44" y2="367.22" stroke="#b8b8d8" stroke-width="1.5"/>
<line x1="501.72" y1="373.5" x2="501.72" y2="367.29" stroke="#c0d8f0" stroke-width="1.0"/>
<line x1="503.72" y1="373.5" x2="503.72" y2="366.93" stroke="#50d850" stroke-width="1.0"/>
<line x1="277.91" y1="373.5" x2="277.91" y2="352.08" stroke="#40c0a0" stroke-width="1.0"/>
<line x1="301.74" y1="373.5" x2="301.74" y2="311.90" stroke="#40e040" stroke-width="1.2"/>
<line x1="296.08" y1="373.5" x2="296.08" y2="248.86" stroke="#8a74c8" stroke-width="0.8"/>
<line x1="504.11" y1="373.5" x2="504.11" y2="361.06" stroke="#3030c0" stroke-width="1.0"/>
<polyline points="211.5,371.5 213.5,371.5 215.4,371.4 217.4,371.4 219.3,371.4 221.3,371.4 223.2,371.3 225.2,371.3 227.1,371.3 229.1,371.3 231.0,371.3 233.0,371.2 234.9,371.2 236.9,371.1 238.8,371.0 240.8,371.0 242.8,370.9 244.7,370.8 246.7,370.7 248.6,370.7 250.6,370.6 252.5,370.6 254.5,370.5 256.4,370.3 258.4,370.2 260.3,370.1 262.3,370.0 264.2,370.0 266.2,369.8 268.1,369.7 270.1,369.6 272.1,369.6 274.0,369.5 276.0,369.4 277.9,369.3 279.9,369.2 281.8,369.0 283.8,368.6 285.7,368.0 287.7,367.6 289.6,367.4 291.6,367.3 293.5,367.0 295.5,366.6 297.4,366.2 299.4,365.9 301.4,365.8 303.3,365.6 305.3,365.3 307.2,365.1 309.2,364.9 311.1,364.9 313.1,364.8 315.0,364.8 317.0,364.7 318.9,364.7 320.9,364.7 322.8,364.7 324.8,364.7 326.7,364.7 328.7,364.7 330.7,364.7 332.6,364.7 334.6,364.7 336.5,364.7 338.5,364.7 340.4,364.7 342.4,364.7 344.3,364.7 346.3,364.7 348.2,364.7 350.2,364.7 352.1,364.7 354.1,364.7 356.0,364.7 358.0,364.7 360.0,364.7 361.9,364.7 363.9,364.7 365.8,364.7 367.8,364.7 369.7,364.7 371.7,364.7 373.6,364.7 375.6,364.7 377.5,364.7 379.5,364.7 381.4,364.7 383.4,364.7 385.3,364.7 387.3,364.7 389.3,364.7 391.2,364.7 393.2,364.7 395.1,364.8 397.1,364.8 399.0,364.8 401.0,364.8 402.9,364.8 404.9,364.8 406.8,364.8 408.8,364.8 410.7,364.9 412.7,364.9 414.6,364.9 416.6,364.9 418.6,364.9 420.5,364.9 422.5,364.9 424.4,364.9 426.4,364.9 428.3,364.9 430.3,365.0 432.2,365.0 434.2,365.0 436.1,365.0 438.1,365.1 440.0,365.1 442.0,365.1 443.9,365.1 445.9,365.1 447.9,365.2 449.8,365.2 451.8,365.3 453.7,365.4 455.7,365.4 457.6,365.5 459.6,365.6 461.5,365.7 463.5,365.7 465.4,365.8 467.4,365.8 469.3,365.8 471.3,365.9 473.2,366.0 475.2,366.1 477.2,366.2 479.1,366.2 481.1,366.3 483.0,366.3 485.0,366.4 486.9,366.4 488.9,366.4 490.8,366.5 492.8,366.6 494.7,366.8 496.7,366.9 498.6,367.0 500.6,367.1 502.5,367.2 504.5,367.2" fill="none" stroke="#2d4a1e" stroke-width="0.7" stroke-opacity="1" stroke-linejoin="round"/>
</g>
<line x1="211.5" y1="230.0" x2="504.5" y2="230.0" stroke="#1a1a1a" stroke-width="1.3"/>
<line x1="211.5" y1="230.0" x2="211.5" y2="373.5" stroke="#1a1a1a" stroke-width="1.0"/>
<line x1="504.5" y1="230.0" x2="504.5" y2="373.5" stroke="#1a1a1a" stroke-width="1"/>
<line x1="211.0" y1="373.5" x2="505.0" y2="373.5" stroke="#1a1a1a" stroke-width="1"/>
<line x1="207.7" y1="373.30" x2="211.5" y2="373.30" stroke="#333" stroke-width="0.8"/>
<text x="206.2" y="375.10" text-anchor="end" font-size="5" fill="#000" class="s">0</text>
<line x1="207.7" y1="332.50" x2="211.5" y2="332.50" stroke="#333" stroke-width="0.8"/>
<text x="206.2" y="334.30" text-anchor="end" font-size="5" fill="#000" class="s">200</text>
<line x1="207.7" y1="291.70" x2="211.5" y2="291.70" stroke="#333" stroke-width="0.8"/>
<text x="206.2" y="293.50" text-anchor="end" font-size="5" fill="#000" class="s">400</text>
<line x1="207.7" y1="250.90" x2="211.5" y2="250.90" stroke="#333" stroke-width="0.8"/>
<text x="206.2" y="252.70" text-anchor="end" font-size="5" fill="#000" class="s">600</text>
<line x1="211.50" y1="373.5" x2="211.50" y2="375.7" stroke="#111" stroke-width="0.8"/>
<line x1="215.41" y1="373.5" x2="215.41" y2="375.7" stroke="#111" stroke-width="0.8"/>
<line x1="219.31" y1="373.5" x2="219.31" y2="375.7" stroke="#111" stroke-width="0.8"/>
<line x1="223.22" y1="373.5" x2="223.22" y2="375.7" stroke="#111" stroke-width="0.8"/>
<line x1="227.13" y1="373.5" x2="227.13" y2="375.7" stroke="#111" stroke-width="0.8"/>
<line x1="231.03" y1="373.5" x2="231.03" y2="377.7" stroke="#555" stroke-width="0.8"/>
<text x="231.03" y="383.10" text-anchor="middle" font-size="5" fill="#000" class="s">10</text>
<line x1="234.94" y1="373.5" x2="234.94" y2="375.7" stroke="#111" stroke-width="0.8"/>
<line x1="238.85" y1="373.5" x2="238.85" y2="375.7" stroke="#111" stroke-width="0.8"/>
<line x1="242.75" y1="373.5" x2="242.75" y2="375.7" stroke="#111" stroke-width="0.8"/>
<line x1="246.66" y1="373.5" x2="246.66" y2="375.7" stroke="#111" stroke-width="0.8"/>
<line x1="250.57" y1="373.5" x2="250.57" y2="375.7" stroke="#111" stroke-width="0.8"/>
<line x1="254.47" y1="373.5" x2="254.47" y2="375.7" stroke="#111" stroke-width="0.8"/>
<line x1="258.38" y1="373.5" x2="258.38" y2="375.7" stroke="#111" stroke-width="0.8"/>
<line x1="262.29" y1="373.5" x2="262.29" y2="375.7" stroke="#111" stroke-width="0.8"/>
<line x1="266.19" y1="373.5" x2="266.19" y2="375.7" stroke="#111" stroke-width="0.8"/>
<line x1="270.10" y1="373.5" x2="270.10" y2="377.7" stroke="#555" stroke-width="0.8"/>
<text x="270.10" y="383.10" text-anchor="middle" font-size="5" fill="#000" class="s">20</text>
<line x1="274.01" y1="373.5" x2="274.01" y2="375.7" stroke="#111" stroke-width="0.8"/>
<line x1="277.91" y1="373.5" x2="277.91" y2="375.7" stroke="#111" stroke-width="0.8"/>
<line x1="281.82" y1="373.5" x2="281.82" y2="375.7" stroke="#111" stroke-width="0.8"/>
<line x1="285.73" y1="373.5" x2="285.73" y2="375.7" stroke="#111" stroke-width="0.8"/>
<line x1="289.63" y1="373.5" x2="289.63" y2="375.7" stroke="#111" stroke-width="0.8"/>
<line x1="293.54" y1="373.5" x2="293.54" y2="375.7" stroke="#111" stroke-width="0.8"/>
<line x1="297.45" y1="373.5" x2="297.45" y2="375.7" stroke="#111" stroke-width="0.8"/>
<line x1="301.35" y1="373.5" x2="301.35" y2="375.7" stroke="#111" stroke-width="0.8"/>
<line x1="305.26" y1="373.5" x2="305.26" y2="375.7" stroke="#111" stroke-width="0.8"/>
<line x1="309.17" y1="373.5" x2="309.17" y2="377.7" stroke="#555" stroke-width="0.8"/>
<text x="309.17" y="383.10" text-anchor="middle" font-size="5" fill="#000" class="s">30</text>
<line x1="313.07" y1="373.5" x2="313.07" y2="375.7" stroke="#111" stroke-width="0.8"/>
<line x1="316.98" y1="373.5" x2="316.98" y2="375.7" stroke="#111" stroke-width="0.8"/>
<line x1="320.89" y1="373.5" x2="320.89" y2="375.7" stroke="#111" stroke-width="0.8"/>
<line x1="324.79" y1="373.5" x2="324.79" y2="375.7" stroke="#111" stroke-width="0.8"/>
<line x1="328.70" y1="373.5" x2="328.70" y2="375.7" stroke="#111" stroke-width="0.8"/>
<line x1="332.61" y1="373.5" x2="332.61" y2="375.7" stroke="#111" stroke-width="0.8"/>
<line x1="336.51" y1="373.5" x2="336.51" y2="375.7" stroke="#111" stroke-width="0.8"/>
<line x1="340.42" y1="373.5" x2="340.42" y2="375.7" stroke="#111" stroke-width="0.8"/>
<line x1="344.33" y1="373.5" x2="344.33" y2="375.7" stroke="#111" stroke-width="0.8"/>
<line x1="348.23" y1="373.5" x2="348.23" y2="377.7" stroke="#555" stroke-width="0.8"/>
<text x="348.23" y="383.10" text-anchor="middle" font-size="5" fill="#000" class="s">40</text>
<line x1="352.14" y1="373.5" x2="352.14" y2="375.7" stroke="#111" stroke-width="0.8"/>
<line x1="356.05" y1="373.5" x2="356.05" y2="375.7" stroke="#111" stroke-width="0.8"/>
<line x1="359.95" y1="373.5" x2="359.95" y2="375.7" stroke="#111" stroke-width="0.8"/>
<line x1="363.86" y1="373.5" x2="363.86" y2="375.7" stroke="#111" stroke-width="0.8"/>
<line x1="367.77" y1="373.5" x2="367.77" y2="375.7" stroke="#111" stroke-width="0.8"/>
<line x1="371.67" y1="373.5" x2="371.67" y2="375.7" stroke="#111" stroke-width="0.8"/>
<line x1="375.58" y1="373.5" x2="375.58" y2="375.7" stroke="#111" stroke-width="0.8"/>
<line x1="379.49" y1="373.5" x2="379.49" y2="375.7" stroke="#111" stroke-width="0.8"/>
<line x1="383.39" y1="373.5" x2="383.39" y2="375.7" stroke="#111" stroke-width="0.8"/>
<line x1="387.30" y1="373.5" x2="387.30" y2="377.7" stroke="#555" stroke-width="0.8"/>
<text x="387.30" y="383.10" text-anchor="middle" font-size="5" fill="#000" class="s">50</text>
<line x1="391.21" y1="373.5" x2="391.21" y2="375.7" stroke="#111" stroke-width="0.8"/>
<line x1="395.11" y1="373.5" x2="395.11" y2="375.7" stroke="#111" stroke-width="0.8"/>
<line x1="399.02" y1="373.5" x2="399.02" y2="375.7" stroke="#111" stroke-width="0.8"/>
<line x1="402.93" y1="373.5" x2="402.93" y2="375.7" stroke="#111" stroke-width="0.8"/>
<line x1="406.83" y1="373.5" x2="406.83" y2="375.7" stroke="#111" stroke-width="0.8"/>
<line x1="410.74" y1="373.5" x2="410.74" y2="375.7" stroke="#111" stroke-width="0.8"/>
<line x1="414.65" y1="373.5" x2="414.65" y2="375.7" stroke="#111" stroke-width="0.8"/>
<line x1="418.55" y1="373.5" x2="418.55" y2="375.7" stroke="#111" stroke-width="0.8"/>
<line x1="422.46" y1="373.5" x2="422.46" y2="375.7" stroke="#111" stroke-width="0.8"/>
<line x1="426.37" y1="373.5" x2="426.37" y2="377.7" stroke="#555" stroke-width="0.8"/>
<text x="426.37" y="383.10" text-anchor="middle" font-size="5" fill="#000" class="s">60</text>
<line x1="430.27" y1="373.5" x2="430.27" y2="375.7" stroke="#111" stroke-width="0.8"/>
<line x1="434.18" y1="373.5" x2="434.18" y2="375.7" stroke="#111" stroke-width="0.8"/>
<line x1="438.09" y1="373.5" x2="438.09" y2="375.7" stroke="#111" stroke-width="0.8"/>
<line x1="441.99" y1="373.5" x2="441.99" y2="375.7" stroke="#111" stroke-width="0.8"/>
<line x1="445.90" y1="373.5" x2="445.90" y2="375.7" stroke="#111" stroke-width="0.8"/>
<line x1="449.81" y1="373.5" x2="449.81" y2="375.7" stroke="#111" stroke-width="0.8"/>
<line x1="453.71" y1="373.5" x2="453.71" y2="375.7" stroke="#111" stroke-width="0.8"/>
<line x1="457.62" y1="373.5" x2="457.62" y2="375.7" stroke="#111" stroke-width="0.8"/>
<line x1="461.53" y1="373.5" x2="461.53" y2="375.7" stroke="#111" stroke-width="0.8"/>
<line x1="465.43" y1="373.5" x2="465.43" y2="377.7" stroke="#555" stroke-width="0.8"/>
<text x="465.43" y="383.10" text-anchor="middle" font-size="5" fill="#000" class="s">70</text>
<line x1="469.34" y1="373.5" x2="469.34" y2="375.7" stroke="#111" stroke-width="0.8"/>
<line x1="473.25" y1="373.5" x2="473.25" y2="375.7" stroke="#111" stroke-width="0.8"/>
<line x1="477.15" y1="373.5" x2="477.15" y2="375.7" stroke="#111" stroke-width="0.8"/>
<line x1="481.06" y1="373.5" x2="481.06" y2="375.7" stroke="#111" stroke-width="0.8"/>
<line x1="484.97" y1="373.5" x2="484.97" y2="375.7" stroke="#111" stroke-width="0.8"/>
<line x1="488.87" y1="373.5" x2="488.87" y2="375.7" stroke="#111" stroke-width="0.8"/>
<line x1="492.78" y1="373.5" x2="492.78" y2="375.7" stroke="#111" stroke-width="0.8"/>
<line x1="496.69" y1="373.5" x2="496.69" y2="375.7" stroke="#111" stroke-width="0.8"/>
<line x1="500.59" y1="373.5" x2="500.59" y2="375.7" stroke="#111" stroke-width="0.8"/>
<line x1="504.50" y1="373.5" x2="504.50" y2="377.7" stroke="#555" stroke-width="0.8"/>
<line x1="245.6" y1="220.2" x2="245.6" y2="230.0" stroke="#f0a060" stroke-width="0.9"/>
<line x1="253.3" y1="220.2" x2="253.3" y2="230.0" stroke="#f0a060" stroke-width="0.9"/>
<line x1="262.5" y1="220.2" x2="262.5" y2="230.0" stroke="#f0a060" stroke-width="0.9"/>
<line x1="273.4" y1="220.2" x2="273.4" y2="230.0" stroke="#f0a060" stroke-width="0.9"/>
<line x1="278" y1="220.2" x2="278" y2="230.0" stroke="#f0a060" stroke-width="0.9"/>
<line x1="281.4" y1="220.2" x2="281.4" y2="230.0" stroke="#f0a060" stroke-width="0.9"/>
<line x1="284.5" y1="220.2" x2="284.5" y2="230.0" stroke="#f0a060" stroke-width="0.9"/>
<line x1="286.5" y1="220.2" x2="286.5" y2="230.0" stroke="#f0a060" stroke-width="0.9"/>
<line x1="293.3" y1="220.2" x2="293.3" y2="230.0" stroke="#f0a060" stroke-width="0.9"/>
<line x1="296.2" y1="220.2" x2="296.2" y2="230.0" stroke="#f0a060" stroke-width="0.9"/>
<line x1="301.3" y1="220.2" x2="301.3" y2="230.0" stroke="#f0a060" stroke-width="0.9"/>
<line x1="306.6" y1="220.2" x2="306.6" y2="230.0" stroke="#f0a060" stroke-width="0.9"/>
<line x1="313" y1="220.2" x2="313" y2="230.0" stroke="#f0a060" stroke-width="0.9"/>
<line x1="318.3" y1="220.2" x2="318.3" y2="230.0" stroke="#f0a060" stroke-width="0.9"/>
<line x1="328.5" y1="220.2" x2="328.5" y2="230.0" stroke="#f0a060" stroke-width="0.9"/>
<line x1="334.6" y1="220.2" x2="334.6" y2="230.0" stroke="#f0a060" stroke-width="0.9"/>
<line x1="345.9" y1="220.2" x2="345.9" y2="230.0" stroke="#f0a060" stroke-width="0.9"/>
<line x1="357.6" y1="220.2" x2="357.6" y2="230.0" stroke="#f0a060" stroke-width="0.9"/>
<line x1="360.5" y1="220.2" x2="360.5" y2="230.0" stroke="#f0a060" stroke-width="0.9"/>
<line x1="371.3" y1="220.2" x2="371.3" y2="230.0" stroke="#f0a060" stroke-width="0.9"/>
<line x1="377.2" y1="220.2" x2="377.2" y2="230.0" stroke="#f0a060" stroke-width="0.9"/>
<line x1="381.4" y1="220.2" x2="381.4" y2="230.0" stroke="#f0a060" stroke-width="0.9"/>
<line x1="387.9" y1="220.2" x2="387.9" y2="230.0" stroke="#f0a060" stroke-width="0.9"/>
<line x1="392.3" y1="220.2" x2="392.3" y2="230.0" stroke="#f0a060" stroke-width="0.9"/>
<line x1="406.5" y1="220.2" x2="406.5" y2="230.0" stroke="#f0a060" stroke-width="0.9"/>
<line x1="426.2" y1="220.2" x2="426.2" y2="230.0" stroke="#f0a060" stroke-width="0.9"/>
<line x1="433.9" y1="220.2" x2="433.9" y2="230.0" stroke="#f0a060" stroke-width="0.9"/>
<line x1="441.6" y1="220.2" x2="441.6" y2="230.0" stroke="#f0a060" stroke-width="0.9"/>
<line x1="456.4" y1="220.2" x2="456.4" y2="230.0" stroke="#f0a060" stroke-width="0.9"/>
<line x1="458.9" y1="220.2" x2="458.9" y2="230.0" stroke="#f0a060" stroke-width="0.9"/>
<line x1="463.5" y1="220.2" x2="463.5" y2="230.0" stroke="#f0a060" stroke-width="0.9"/>
<line x1="488.4" y1="220.2" x2="488.4" y2="230.0" stroke="#f0a060" stroke-width="0.9"/>
<line x1="496.5" y1="220.2" x2="496.5" y2="230.0" stroke="#f0a060" stroke-width="0.9"/>
<path d="M252.10,216.90 L253.30,219.50 L254.50,216.90 M253.30,219.30 L253.30,221.00" fill="none" stroke="#333" stroke-width="0.9"/>
<path d="M261.30,216.90 L262.50,219.50 L263.70,216.90 M262.50,219.30 L262.50,221.00" fill="none" stroke="#333" stroke-width="0.9"/>
<path d="M317.10,216.90 L318.30,219.50 L319.50,216.90 M318.30,219.30 L318.30,221.00" fill="none" stroke="#333" stroke-width="0.9"/>
<path d="M327.30,216.90 L328.50,219.50 L329.70,216.90 M328.50,219.30 L328.50,221.00" fill="none" stroke="#333" stroke-width="0.9"/>
<text x="213.0" y="235.6" font-size="5" fill="#000" class="s" textLength="25.6" lengthAdjust="spacingAndGlyphs">D0097002B</text>
<text x="174.4" y="227.8" font-size="5.2" fill="#000" class="s" textLength="15.3" lengthAdjust="spacingAndGlyphs">Counts</text>
<text x="331.7" y="391.2" font-size="5" fill="#000" class="s" textLength="69.5" lengthAdjust="spacingAndGlyphs">Position [°2Theta] (Copper (Cu))</text>
<text x="354.5" y="412.7" font-size="17" class="cap" fill="#000" stroke="#000" stroke-width="0.2">(c)</text>
</svg></body></html>
